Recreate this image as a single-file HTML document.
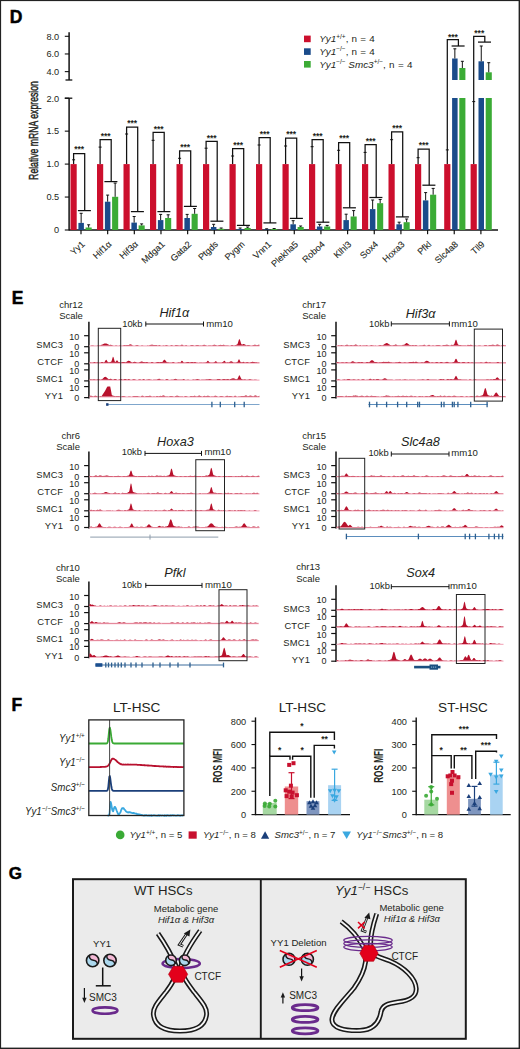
<!DOCTYPE html>
<html><head><meta charset="utf-8"><title>Figure</title>
<style>
html,body{margin:0;padding:0;background:#fff;}
body{width:520px;height:1049px;overflow:hidden;}
svg{display:block;font-family:"Liberation Sans", sans-serif;}
</style></head>
<body>
<svg width="520" height="1049" viewBox="0 0 520 1049">
<rect x="0" y="0" width="520" height="1049" fill="#fff"/>
<text x="9.80" y="22.50" font-size="17.5" text-anchor="start" font-weight="bold" font-style="normal" fill="#000" stroke="#000" stroke-width="0.5">D</text>
<line x1="69.10" y1="98.20" x2="69.10" y2="230.50" stroke="#111" stroke-width="1.5" />
<line x1="64.80" y1="98.20" x2="69.10" y2="98.20" stroke="#111" stroke-width="1.1" />
<text x="59.20" y="101.50" font-size="9.2" text-anchor="end" font-weight="normal" font-style="normal" fill="#231f20" >2.0</text>
<line x1="64.80" y1="131.15" x2="69.10" y2="131.15" stroke="#111" stroke-width="1.1" />
<text x="59.20" y="134.45" font-size="9.2" text-anchor="end" font-weight="normal" font-style="normal" fill="#231f20" >1.5</text>
<line x1="64.80" y1="164.10" x2="69.10" y2="164.10" stroke="#111" stroke-width="1.1" />
<text x="59.20" y="167.40" font-size="9.2" text-anchor="end" font-weight="normal" font-style="normal" fill="#231f20" >1.0</text>
<line x1="64.80" y1="197.05" x2="69.10" y2="197.05" stroke="#111" stroke-width="1.1" />
<text x="59.20" y="200.35" font-size="9.2" text-anchor="end" font-weight="normal" font-style="normal" fill="#231f20" >0.5</text>
<line x1="64.80" y1="230.00" x2="69.10" y2="230.00" stroke="#111" stroke-width="1.1" />
<text x="59.20" y="233.30" font-size="9.2" text-anchor="end" font-weight="normal" font-style="normal" fill="#231f20" >0</text>
<line x1="64.80" y1="98.20" x2="72.30" y2="98.20" stroke="#111" stroke-width="1.3" />
<line x1="69.10" y1="32.30" x2="69.10" y2="80.00" stroke="#111" stroke-width="1.5" />
<line x1="64.80" y1="36.30" x2="69.10" y2="36.30" stroke="#111" stroke-width="1.1" />
<text x="59.20" y="39.60" font-size="9.2" text-anchor="end" font-weight="normal" font-style="normal" fill="#231f20" >8.0</text>
<line x1="64.80" y1="53.96" x2="69.10" y2="53.96" stroke="#111" stroke-width="1.1" />
<text x="59.20" y="57.26" font-size="9.2" text-anchor="end" font-weight="normal" font-style="normal" fill="#231f20" >6.0</text>
<line x1="64.80" y1="71.62" x2="69.10" y2="71.62" stroke="#111" stroke-width="1.1" />
<text x="59.20" y="74.92" font-size="9.2" text-anchor="end" font-weight="normal" font-style="normal" fill="#231f20" >4.0</text>
<line x1="65.50" y1="80.00" x2="72.30" y2="80.00" stroke="#111" stroke-width="1.3" />
<text transform="translate(37.6,130.5) rotate(-90) scale(0.70,1)" font-size="12.4" text-anchor="middle" fill="#231f20" stroke="#231f20" stroke-width="0.45">Relative mRNA expresion</text>
<line x1="69.10" y1="230.00" x2="498.00" y2="230.00" stroke="#111" stroke-width="1.4" />
<line x1="81.00" y1="230.00" x2="81.00" y2="234.20" stroke="#111" stroke-width="1.2" />
<rect x="70.50" y="164.10" width="6.20" height="65.90" fill="#cc0f2d" />
<rect x="78.40" y="222.90" width="5.50" height="7.10" fill="#1a4b8a" />
<rect x="85.60" y="227.50" width="6.10" height="2.50" fill="#3bab35" />
<line x1="81.15" y1="213.30" x2="81.15" y2="222.90" stroke="#111" stroke-width="1.0" />
<line x1="79.65" y1="213.30" x2="82.65" y2="213.30" stroke="#111" stroke-width="1.0" />
<line x1="88.65" y1="224.80" x2="88.65" y2="227.50" stroke="#111" stroke-width="1.0" />
<line x1="87.15" y1="224.80" x2="90.15" y2="224.80" stroke="#111" stroke-width="1.0" />
<line x1="72.10" y1="159.80" x2="75.10" y2="159.80" stroke="#111" stroke-width="1.0" />
<polyline points="73.60,164.10 73.60,153.50 84.70,153.50 84.70,210.60" stroke="#111" stroke-width="1.25" fill="none" />
<line x1="77.90" y1="210.60" x2="90.90" y2="210.60" stroke="#111" stroke-width="1.25" />
<text x="79.15" y="152.40" font-size="8.5" text-anchor="middle" font-weight="bold" font-style="normal" fill="#231f20" >***</text>
<text transform="translate(85.40,245.00) rotate(-43)" font-size="9.1" text-anchor="end" fill="#231f20" stroke="#231f20" stroke-width="0.1">Yy1</text>
<line x1="107.66" y1="230.00" x2="107.66" y2="234.20" stroke="#111" stroke-width="1.2" />
<rect x="97.00" y="164.10" width="6.20" height="65.90" fill="#cc0f2d" />
<rect x="104.90" y="201.70" width="5.50" height="28.30" fill="#1a4b8a" />
<rect x="112.10" y="196.80" width="6.10" height="33.20" fill="#3bab35" />
<line x1="107.65" y1="195.10" x2="107.65" y2="201.70" stroke="#111" stroke-width="1.0" />
<line x1="106.15" y1="195.10" x2="109.15" y2="195.10" stroke="#111" stroke-width="1.0" />
<line x1="115.15" y1="183.10" x2="115.15" y2="196.80" stroke="#111" stroke-width="1.0" />
<line x1="113.65" y1="183.10" x2="116.65" y2="183.10" stroke="#111" stroke-width="1.0" />
<line x1="98.60" y1="147.10" x2="101.60" y2="147.10" stroke="#111" stroke-width="1.0" />
<polyline points="100.10,164.10 100.10,139.70 111.20,139.70 111.20,181.60" stroke="#111" stroke-width="1.25" fill="none" />
<line x1="104.40" y1="181.60" x2="117.40" y2="181.60" stroke="#111" stroke-width="1.25" />
<text x="105.65" y="139.00" font-size="8.5" text-anchor="middle" font-weight="bold" font-style="normal" fill="#231f20" >***</text>
<text transform="translate(112.06,245.00) rotate(-43)" font-size="9.1" text-anchor="end" fill="#231f20" stroke="#231f20" stroke-width="0.1">Hif1&#945;</text>
<line x1="134.32" y1="230.00" x2="134.32" y2="234.20" stroke="#111" stroke-width="1.2" />
<rect x="123.50" y="164.10" width="6.20" height="65.90" fill="#cc0f2d" />
<rect x="131.40" y="222.60" width="5.50" height="7.40" fill="#1a4b8a" />
<rect x="138.60" y="225.40" width="6.10" height="4.60" fill="#3bab35" />
<line x1="134.15" y1="216.50" x2="134.15" y2="222.60" stroke="#111" stroke-width="1.0" />
<line x1="132.65" y1="216.50" x2="135.65" y2="216.50" stroke="#111" stroke-width="1.0" />
<line x1="141.65" y1="223.90" x2="141.65" y2="225.40" stroke="#111" stroke-width="1.0" />
<line x1="140.15" y1="223.90" x2="143.15" y2="223.90" stroke="#111" stroke-width="1.0" />
<line x1="125.10" y1="134.00" x2="128.10" y2="134.00" stroke="#111" stroke-width="1.0" />
<polyline points="126.60,164.10 126.60,127.00 137.70,127.00 137.70,211.60" stroke="#111" stroke-width="1.25" fill="none" />
<line x1="130.90" y1="211.60" x2="143.90" y2="211.60" stroke="#111" stroke-width="1.25" />
<text x="132.15" y="126.40" font-size="8.5" text-anchor="middle" font-weight="bold" font-style="normal" fill="#231f20" >***</text>
<text transform="translate(138.72,245.00) rotate(-43)" font-size="9.1" text-anchor="end" fill="#231f20" stroke="#231f20" stroke-width="0.1">Hif3&#945;</text>
<line x1="160.98" y1="230.00" x2="160.98" y2="234.20" stroke="#111" stroke-width="1.2" />
<rect x="150.00" y="164.10" width="6.20" height="65.90" fill="#cc0f2d" />
<rect x="157.90" y="220.10" width="5.50" height="9.90" fill="#1a4b8a" />
<rect x="165.10" y="218.00" width="6.10" height="12.00" fill="#3bab35" />
<line x1="160.65" y1="214.40" x2="160.65" y2="220.10" stroke="#111" stroke-width="1.0" />
<line x1="159.15" y1="214.40" x2="162.15" y2="214.40" stroke="#111" stroke-width="1.0" />
<line x1="168.15" y1="214.80" x2="168.15" y2="218.00" stroke="#111" stroke-width="1.0" />
<line x1="166.65" y1="214.80" x2="169.65" y2="214.80" stroke="#111" stroke-width="1.0" />
<line x1="151.60" y1="140.30" x2="154.60" y2="140.30" stroke="#111" stroke-width="1.0" />
<polyline points="153.10,164.10 153.10,132.30 164.20,132.30 164.20,211.60" stroke="#111" stroke-width="1.25" fill="none" />
<line x1="157.40" y1="211.60" x2="170.40" y2="211.60" stroke="#111" stroke-width="1.25" />
<text x="158.65" y="131.90" font-size="8.5" text-anchor="middle" font-weight="bold" font-style="normal" fill="#231f20" >***</text>
<text transform="translate(165.38,245.00) rotate(-43)" font-size="9.1" text-anchor="end" fill="#231f20" stroke="#231f20" stroke-width="0.1">Mdga1</text>
<line x1="187.64" y1="230.00" x2="187.64" y2="234.20" stroke="#111" stroke-width="1.2" />
<rect x="176.50" y="164.10" width="6.20" height="65.90" fill="#cc0f2d" />
<rect x="184.40" y="218.00" width="5.50" height="12.00" fill="#1a4b8a" />
<rect x="191.60" y="213.80" width="6.10" height="16.20" fill="#3bab35" />
<line x1="187.15" y1="214.40" x2="187.15" y2="218.00" stroke="#111" stroke-width="1.0" />
<line x1="185.65" y1="214.40" x2="188.65" y2="214.40" stroke="#111" stroke-width="1.0" />
<line x1="194.65" y1="208.50" x2="194.65" y2="213.80" stroke="#111" stroke-width="1.0" />
<line x1="193.15" y1="208.50" x2="196.15" y2="208.50" stroke="#111" stroke-width="1.0" />
<line x1="178.10" y1="158.30" x2="181.10" y2="158.30" stroke="#111" stroke-width="1.0" />
<polyline points="179.60,164.10 179.60,150.90 190.70,150.90 190.70,206.40" stroke="#111" stroke-width="1.25" fill="none" />
<line x1="183.90" y1="206.40" x2="196.90" y2="206.40" stroke="#111" stroke-width="1.25" />
<text x="185.15" y="150.20" font-size="8.5" text-anchor="middle" font-weight="bold" font-style="normal" fill="#231f20" >***</text>
<text transform="translate(192.04,245.00) rotate(-43)" font-size="9.1" text-anchor="end" fill="#231f20" stroke="#231f20" stroke-width="0.1">Gata2</text>
<line x1="214.30" y1="230.00" x2="214.30" y2="234.20" stroke="#111" stroke-width="1.2" />
<rect x="203.00" y="164.10" width="6.20" height="65.90" fill="#cc0f2d" />
<rect x="210.90" y="227.00" width="5.50" height="3.00" fill="#1a4b8a" />
<rect x="218.10" y="228.80" width="6.10" height="1.20" fill="#3bab35" />
<line x1="213.65" y1="224.30" x2="213.65" y2="227.00" stroke="#111" stroke-width="1.0" />
<line x1="212.15" y1="224.30" x2="215.15" y2="224.30" stroke="#111" stroke-width="1.0" />
<line x1="221.15" y1="228.00" x2="221.15" y2="228.80" stroke="#111" stroke-width="1.0" />
<line x1="219.65" y1="228.00" x2="222.65" y2="228.00" stroke="#111" stroke-width="1.0" />
<line x1="204.60" y1="148.20" x2="207.60" y2="148.20" stroke="#111" stroke-width="1.0" />
<polyline points="206.10,164.10 206.10,141.40 217.20,141.40 217.20,221.20" stroke="#111" stroke-width="1.25" fill="none" />
<line x1="210.40" y1="221.20" x2="223.40" y2="221.20" stroke="#111" stroke-width="1.25" />
<text x="211.65" y="140.70" font-size="8.5" text-anchor="middle" font-weight="bold" font-style="normal" fill="#231f20" >***</text>
<text transform="translate(218.70,245.00) rotate(-43)" font-size="9.1" text-anchor="end" fill="#231f20" stroke="#231f20" stroke-width="0.1">Ptgds</text>
<line x1="240.96" y1="230.00" x2="240.96" y2="234.20" stroke="#111" stroke-width="1.2" />
<rect x="229.50" y="164.10" width="6.20" height="65.90" fill="#cc0f2d" />
<rect x="237.40" y="229.00" width="5.50" height="1.00" fill="#1a4b8a" />
<rect x="244.60" y="228.00" width="6.10" height="2.00" fill="#3bab35" />
<line x1="240.15" y1="228.00" x2="240.15" y2="229.00" stroke="#111" stroke-width="1.0" />
<line x1="238.65" y1="228.00" x2="241.65" y2="228.00" stroke="#111" stroke-width="1.0" />
<line x1="247.65" y1="227.00" x2="247.65" y2="228.00" stroke="#111" stroke-width="1.0" />
<line x1="246.15" y1="227.00" x2="249.15" y2="227.00" stroke="#111" stroke-width="1.0" />
<line x1="231.10" y1="156.00" x2="234.10" y2="156.00" stroke="#111" stroke-width="1.0" />
<polyline points="232.60,164.10 232.60,148.60 243.70,148.60 243.70,225.40" stroke="#111" stroke-width="1.25" fill="none" />
<line x1="236.90" y1="225.40" x2="249.90" y2="225.40" stroke="#111" stroke-width="1.25" />
<text x="238.15" y="147.70" font-size="8.5" text-anchor="middle" font-weight="bold" font-style="normal" fill="#231f20" >***</text>
<text transform="translate(245.36,245.00) rotate(-43)" font-size="9.1" text-anchor="end" fill="#231f20" stroke="#231f20" stroke-width="0.1">Pygm</text>
<line x1="267.62" y1="230.00" x2="267.62" y2="234.20" stroke="#111" stroke-width="1.2" />
<rect x="256.00" y="164.10" width="6.20" height="65.90" fill="#cc0f2d" />
<rect x="263.90" y="229.30" width="5.50" height="0.70" fill="#1a4b8a" />
<rect x="271.10" y="229.00" width="6.10" height="1.00" fill="#3bab35" />
<line x1="266.65" y1="228.80" x2="266.65" y2="229.30" stroke="#111" stroke-width="1.0" />
<line x1="265.15" y1="228.80" x2="268.15" y2="228.80" stroke="#111" stroke-width="1.0" />
<line x1="274.15" y1="228.50" x2="274.15" y2="229.00" stroke="#111" stroke-width="1.0" />
<line x1="272.65" y1="228.50" x2="275.65" y2="228.50" stroke="#111" stroke-width="1.0" />
<line x1="257.60" y1="145.00" x2="260.60" y2="145.00" stroke="#111" stroke-width="1.0" />
<polyline points="259.10,164.10 259.10,137.60 270.20,137.60 270.20,222.90" stroke="#111" stroke-width="1.25" fill="none" />
<line x1="263.40" y1="222.90" x2="276.40" y2="222.90" stroke="#111" stroke-width="1.25" />
<text x="264.65" y="136.50" font-size="8.5" text-anchor="middle" font-weight="bold" font-style="normal" fill="#231f20" >***</text>
<text transform="translate(272.02,245.00) rotate(-43)" font-size="9.1" text-anchor="end" fill="#231f20" stroke="#231f20" stroke-width="0.1">Vnn1</text>
<line x1="294.28" y1="230.00" x2="294.28" y2="234.20" stroke="#111" stroke-width="1.2" />
<rect x="282.50" y="164.10" width="6.20" height="65.90" fill="#cc0f2d" />
<rect x="290.40" y="224.30" width="5.50" height="5.70" fill="#1a4b8a" />
<rect x="297.60" y="227.00" width="6.10" height="3.00" fill="#3bab35" />
<line x1="293.15" y1="220.70" x2="293.15" y2="224.30" stroke="#111" stroke-width="1.0" />
<line x1="291.65" y1="220.70" x2="294.65" y2="220.70" stroke="#111" stroke-width="1.0" />
<line x1="300.65" y1="226.00" x2="300.65" y2="227.00" stroke="#111" stroke-width="1.0" />
<line x1="299.15" y1="226.00" x2="302.15" y2="226.00" stroke="#111" stroke-width="1.0" />
<line x1="284.10" y1="146.00" x2="287.10" y2="146.00" stroke="#111" stroke-width="1.0" />
<polyline points="285.60,164.10 285.60,138.20 296.70,138.20 296.70,218.40" stroke="#111" stroke-width="1.25" fill="none" />
<line x1="289.90" y1="218.40" x2="302.90" y2="218.40" stroke="#111" stroke-width="1.25" />
<text x="291.15" y="137.20" font-size="8.5" text-anchor="middle" font-weight="bold" font-style="normal" fill="#231f20" >***</text>
<text transform="translate(298.68,245.00) rotate(-43)" font-size="9.1" text-anchor="end" fill="#231f20" stroke="#231f20" stroke-width="0.1">Plekha5</text>
<line x1="320.94" y1="230.00" x2="320.94" y2="234.20" stroke="#111" stroke-width="1.2" />
<rect x="309.00" y="164.10" width="6.20" height="65.90" fill="#cc0f2d" />
<rect x="316.90" y="226.50" width="5.50" height="3.50" fill="#1a4b8a" />
<rect x="324.10" y="226.50" width="6.10" height="3.50" fill="#3bab35" />
<line x1="319.65" y1="224.30" x2="319.65" y2="226.50" stroke="#111" stroke-width="1.0" />
<line x1="318.15" y1="224.30" x2="321.15" y2="224.30" stroke="#111" stroke-width="1.0" />
<line x1="327.15" y1="225.40" x2="327.15" y2="226.50" stroke="#111" stroke-width="1.0" />
<line x1="325.65" y1="225.40" x2="328.65" y2="225.40" stroke="#111" stroke-width="1.0" />
<line x1="310.60" y1="146.70" x2="313.60" y2="146.70" stroke="#111" stroke-width="1.0" />
<polyline points="312.10,164.10 312.10,139.70 323.20,139.70 323.20,222.20" stroke="#111" stroke-width="1.25" fill="none" />
<line x1="316.40" y1="222.20" x2="329.40" y2="222.20" stroke="#111" stroke-width="1.25" />
<text x="317.65" y="139.00" font-size="8.5" text-anchor="middle" font-weight="bold" font-style="normal" fill="#231f20" >***</text>
<text transform="translate(325.34,245.00) rotate(-43)" font-size="9.1" text-anchor="end" fill="#231f20" stroke="#231f20" stroke-width="0.1">Robo4</text>
<line x1="347.60" y1="230.00" x2="347.60" y2="234.20" stroke="#111" stroke-width="1.2" />
<rect x="335.50" y="164.10" width="6.20" height="65.90" fill="#cc0f2d" />
<rect x="343.40" y="220.10" width="5.50" height="9.90" fill="#1a4b8a" />
<rect x="350.60" y="216.50" width="6.10" height="13.50" fill="#3bab35" />
<line x1="346.15" y1="214.20" x2="346.15" y2="220.10" stroke="#111" stroke-width="1.0" />
<line x1="344.65" y1="214.20" x2="347.65" y2="214.20" stroke="#111" stroke-width="1.0" />
<line x1="353.65" y1="210.60" x2="353.65" y2="216.50" stroke="#111" stroke-width="1.0" />
<line x1="352.15" y1="210.60" x2="355.15" y2="210.60" stroke="#111" stroke-width="1.0" />
<line x1="337.10" y1="150.30" x2="340.10" y2="150.30" stroke="#111" stroke-width="1.0" />
<polyline points="338.60,164.10 338.60,142.50 349.70,142.50 349.70,207.80" stroke="#111" stroke-width="1.25" fill="none" />
<line x1="342.90" y1="207.80" x2="355.90" y2="207.80" stroke="#111" stroke-width="1.25" />
<text x="344.15" y="141.40" font-size="8.5" text-anchor="middle" font-weight="bold" font-style="normal" fill="#231f20" >***</text>
<text transform="translate(352.00,245.00) rotate(-43)" font-size="9.1" text-anchor="end" fill="#231f20" stroke="#231f20" stroke-width="0.1">Klhl3</text>
<line x1="374.26" y1="230.00" x2="374.26" y2="234.20" stroke="#111" stroke-width="1.2" />
<rect x="362.00" y="164.10" width="6.20" height="65.90" fill="#cc0f2d" />
<rect x="369.90" y="209.10" width="5.50" height="20.90" fill="#1a4b8a" />
<rect x="377.10" y="203.20" width="6.10" height="26.80" fill="#3bab35" />
<line x1="372.65" y1="200.00" x2="372.65" y2="209.10" stroke="#111" stroke-width="1.0" />
<line x1="371.15" y1="200.00" x2="374.15" y2="200.00" stroke="#111" stroke-width="1.0" />
<line x1="380.15" y1="199.50" x2="380.15" y2="203.20" stroke="#111" stroke-width="1.0" />
<line x1="378.65" y1="199.50" x2="381.65" y2="199.50" stroke="#111" stroke-width="1.0" />
<line x1="363.60" y1="152.40" x2="366.60" y2="152.40" stroke="#111" stroke-width="1.0" />
<polyline points="365.10,164.10 365.10,144.60 376.20,144.60 376.20,197.50" stroke="#111" stroke-width="1.25" fill="none" />
<line x1="369.40" y1="197.50" x2="382.40" y2="197.50" stroke="#111" stroke-width="1.25" />
<text x="370.65" y="143.90" font-size="8.5" text-anchor="middle" font-weight="bold" font-style="normal" fill="#231f20" >***</text>
<text transform="translate(378.66,245.00) rotate(-43)" font-size="9.1" text-anchor="end" fill="#231f20" stroke="#231f20" stroke-width="0.1">Sox4</text>
<line x1="400.92" y1="230.00" x2="400.92" y2="234.20" stroke="#111" stroke-width="1.2" />
<rect x="388.50" y="164.10" width="6.20" height="65.90" fill="#cc0f2d" />
<rect x="396.40" y="224.30" width="5.50" height="5.70" fill="#1a4b8a" />
<rect x="403.60" y="222.20" width="6.10" height="7.80" fill="#3bab35" />
<line x1="399.15" y1="222.20" x2="399.15" y2="224.30" stroke="#111" stroke-width="1.0" />
<line x1="397.65" y1="222.20" x2="400.65" y2="222.20" stroke="#111" stroke-width="1.0" />
<line x1="406.65" y1="219.00" x2="406.65" y2="222.20" stroke="#111" stroke-width="1.0" />
<line x1="405.15" y1="219.00" x2="408.15" y2="219.00" stroke="#111" stroke-width="1.0" />
<line x1="390.10" y1="139.70" x2="393.10" y2="139.70" stroke="#111" stroke-width="1.0" />
<polyline points="391.60,164.10 391.60,131.90 402.70,131.90 402.70,216.90" stroke="#111" stroke-width="1.25" fill="none" />
<line x1="395.90" y1="216.90" x2="408.90" y2="216.90" stroke="#111" stroke-width="1.25" />
<text x="397.15" y="131.20" font-size="8.5" text-anchor="middle" font-weight="bold" font-style="normal" fill="#231f20" >***</text>
<text transform="translate(405.32,245.00) rotate(-43)" font-size="9.1" text-anchor="end" fill="#231f20" stroke="#231f20" stroke-width="0.1">Hoxa3</text>
<line x1="427.58" y1="230.00" x2="427.58" y2="234.20" stroke="#111" stroke-width="1.2" />
<rect x="415.00" y="164.10" width="6.20" height="65.90" fill="#cc0f2d" />
<rect x="422.90" y="200.40" width="5.50" height="29.60" fill="#1a4b8a" />
<rect x="430.10" y="194.70" width="6.10" height="35.30" fill="#3bab35" />
<line x1="425.65" y1="192.60" x2="425.65" y2="200.40" stroke="#111" stroke-width="1.0" />
<line x1="424.15" y1="192.60" x2="427.15" y2="192.60" stroke="#111" stroke-width="1.0" />
<line x1="433.15" y1="188.40" x2="433.15" y2="194.70" stroke="#111" stroke-width="1.0" />
<line x1="431.65" y1="188.40" x2="434.65" y2="188.40" stroke="#111" stroke-width="1.0" />
<line x1="416.60" y1="157.70" x2="419.60" y2="157.70" stroke="#111" stroke-width="1.0" />
<polyline points="418.10,164.10 418.10,149.20 429.20,149.20 429.20,185.20" stroke="#111" stroke-width="1.25" fill="none" />
<line x1="422.40" y1="185.20" x2="435.40" y2="185.20" stroke="#111" stroke-width="1.25" />
<text x="423.65" y="148.20" font-size="8.5" text-anchor="middle" font-weight="bold" font-style="normal" fill="#231f20" >***</text>
<text transform="translate(431.98,245.00) rotate(-43)" font-size="9.1" text-anchor="end" fill="#231f20" stroke="#231f20" stroke-width="0.1">Pfkl</text>
<line x1="454.24" y1="230.00" x2="454.24" y2="234.20" stroke="#111" stroke-width="1.2" />
<rect x="444.20" y="164.10" width="6.20" height="65.90" fill="#cc0f2d" />
<rect x="452.10" y="98.00" width="5.50" height="132.00" fill="#1a4b8a" />
<rect x="459.30" y="98.00" width="6.10" height="132.00" fill="#3bab35" />
<rect x="452.10" y="58.50" width="5.50" height="21.50" fill="#1a4b8a" />
<rect x="459.30" y="68.00" width="6.10" height="12.00" fill="#3bab35" />
<line x1="454.85" y1="48.80" x2="454.85" y2="58.50" stroke="#111" stroke-width="1.0" />
<line x1="453.35" y1="48.80" x2="456.35" y2="48.80" stroke="#111" stroke-width="1.0" />
<line x1="462.35" y1="61.30" x2="462.35" y2="68.00" stroke="#111" stroke-width="1.0" />
<line x1="460.85" y1="61.30" x2="463.85" y2="61.30" stroke="#111" stroke-width="1.0" />
<line x1="445.80" y1="149.90" x2="448.80" y2="149.90" stroke="#111" stroke-width="1.0" />
<polyline points="447.30,164.10 447.30,39.60 458.40,39.60 458.40,46.00" stroke="#111" stroke-width="1.25" fill="none" />
<line x1="451.60" y1="46.00" x2="464.60" y2="46.00" stroke="#111" stroke-width="1.25" />
<text x="452.85" y="39.60" font-size="8.5" text-anchor="middle" font-weight="bold" font-style="normal" fill="#231f20" >***</text>
<text transform="translate(458.64,245.00) rotate(-43)" font-size="9.1" text-anchor="end" fill="#231f20" stroke="#231f20" stroke-width="0.1">Slc4a8</text>
<line x1="480.90" y1="230.00" x2="480.90" y2="234.20" stroke="#111" stroke-width="1.2" />
<rect x="470.60" y="164.10" width="6.20" height="65.90" fill="#cc0f2d" />
<rect x="478.50" y="98.00" width="5.50" height="132.00" fill="#1a4b8a" />
<rect x="485.70" y="98.00" width="6.10" height="132.00" fill="#3bab35" />
<rect x="478.50" y="61.30" width="5.50" height="18.70" fill="#1a4b8a" />
<rect x="485.70" y="72.30" width="6.10" height="7.70" fill="#3bab35" />
<line x1="481.25" y1="46.00" x2="481.25" y2="61.30" stroke="#111" stroke-width="1.0" />
<line x1="479.75" y1="46.00" x2="482.75" y2="46.00" stroke="#111" stroke-width="1.0" />
<line x1="488.75" y1="62.70" x2="488.75" y2="72.30" stroke="#111" stroke-width="1.0" />
<line x1="487.25" y1="62.70" x2="490.25" y2="62.70" stroke="#111" stroke-width="1.0" />
<line x1="472.20" y1="101.60" x2="475.20" y2="101.60" stroke="#111" stroke-width="1.0" />
<polyline points="473.70,164.10 473.70,36.30 484.80,36.30 484.80,42.10" stroke="#111" stroke-width="1.25" fill="none" />
<line x1="478.00" y1="42.10" x2="491.00" y2="42.10" stroke="#111" stroke-width="1.25" />
<text x="479.25" y="35.70" font-size="8.5" text-anchor="middle" font-weight="bold" font-style="normal" fill="#231f20" >***</text>
<text transform="translate(485.30,245.00) rotate(-43)" font-size="9.1" text-anchor="end" fill="#231f20" stroke="#231f20" stroke-width="0.1">Tll9</text>
<rect x="304.00" y="35.60" width="6.70" height="6.60" fill="#cc0f2d" />
<text x="319.20" y="42.20" font-size="9.9" text-anchor="start" font-weight="normal" font-style="normal" fill="#231f20" ><tspan font-style="italic">Yy1</tspan><tspan font-size="6.5" dy="-3.5">+/+</tspan><tspan dy="3.5" letter-spacing="0.25">, n = 4</tspan></text>
<rect x="304.00" y="48.30" width="6.70" height="6.60" fill="#1a4b8a" />
<text x="319.20" y="54.90" font-size="9.9" text-anchor="start" font-weight="normal" font-style="normal" fill="#231f20" ><tspan font-style="italic">Yy1</tspan><tspan font-size="6.5" dy="-3.5">&#8722;/&#8722;</tspan><tspan dy="3.5" letter-spacing="0.25">, n = 4</tspan></text>
<rect x="304.00" y="61.00" width="6.70" height="6.60" fill="#3bab35" />
<text x="319.20" y="67.60" font-size="9.9" text-anchor="start" font-weight="normal" font-style="normal" fill="#231f20" ><tspan font-style="italic">Yy1</tspan><tspan font-size="6.5" dy="-3.5">&#8722;/&#8722;</tspan><tspan dy="3.5" font-style="italic"> Smc3</tspan><tspan font-size="6.5" dy="-3.5">+/&#8722;</tspan><tspan dy="3.5" letter-spacing="0.3">, n = 4</tspan></text>
<text x="11.70" y="303.70" font-size="17.5" text-anchor="start" font-weight="bold" font-style="normal" fill="#000" stroke="#000" stroke-width="0.5">E</text>
<text x="82.90" y="307.50" font-size="9.5" text-anchor="end" font-weight="normal" font-style="normal" fill="#231f20" >chr12</text>
<text x="82.90" y="318.80" font-size="9.5" text-anchor="end" font-weight="normal" font-style="normal" fill="#231f20" >Scale</text>
<line x1="88.90" y1="321.70" x2="88.90" y2="398.50" stroke="#111" stroke-width="1.5" />
<line x1="84.10" y1="346.70" x2="88.90" y2="346.70" stroke="#111" stroke-width="1.2" />
<line x1="84.10" y1="335.70" x2="88.90" y2="335.70" stroke="#111" stroke-width="1.2" />
<text x="79.30" y="349.90" font-size="9.0" text-anchor="end" font-weight="normal" font-style="normal" fill="#231f20" >0</text>
<text x="79.30" y="339.70" font-size="9.0" text-anchor="end" font-weight="normal" font-style="normal" fill="#231f20" >10</text>
<text x="63.10" y="348.20" font-size="9.4" text-anchor="end" font-weight="normal" font-style="normal" fill="#231f20" letter-spacing="0.2">SMC3</text>
<line x1="84.10" y1="363.80" x2="88.90" y2="363.80" stroke="#111" stroke-width="1.2" />
<line x1="84.10" y1="352.80" x2="88.90" y2="352.80" stroke="#111" stroke-width="1.2" />
<text x="79.30" y="367.00" font-size="9.0" text-anchor="end" font-weight="normal" font-style="normal" fill="#231f20" >0</text>
<text x="79.30" y="356.80" font-size="9.0" text-anchor="end" font-weight="normal" font-style="normal" fill="#231f20" >10</text>
<text x="63.10" y="365.30" font-size="9.4" text-anchor="end" font-weight="normal" font-style="normal" fill="#231f20" letter-spacing="0.2">CTCF</text>
<line x1="84.10" y1="380.90" x2="88.90" y2="380.90" stroke="#111" stroke-width="1.2" />
<line x1="84.10" y1="369.90" x2="88.90" y2="369.90" stroke="#111" stroke-width="1.2" />
<text x="79.30" y="384.10" font-size="9.0" text-anchor="end" font-weight="normal" font-style="normal" fill="#231f20" >0</text>
<text x="79.30" y="373.90" font-size="9.0" text-anchor="end" font-weight="normal" font-style="normal" fill="#231f20" >10</text>
<text x="63.10" y="382.40" font-size="9.4" text-anchor="end" font-weight="normal" font-style="normal" fill="#231f20" letter-spacing="0.2">SMC1</text>
<line x1="84.10" y1="397.60" x2="88.90" y2="397.60" stroke="#111" stroke-width="1.2" />
<line x1="84.10" y1="386.60" x2="88.90" y2="386.60" stroke="#111" stroke-width="1.2" />
<text x="79.30" y="400.80" font-size="9.0" text-anchor="end" font-weight="normal" font-style="normal" fill="#231f20" >0</text>
<text x="79.30" y="390.60" font-size="9.0" text-anchor="end" font-weight="normal" font-style="normal" fill="#231f20" >10</text>
<text x="63.10" y="399.10" font-size="9.4" text-anchor="end" font-weight="normal" font-style="normal" fill="#231f20" letter-spacing="0.2">YY1</text>
<text x="159.40" y="316.80" font-size="12.7" text-anchor="start" font-weight="normal" font-style="italic" fill="#231f20" >Hif1&#945;</text>
<text x="122.20" y="327.40" font-size="9.4" text-anchor="start" font-weight="normal" font-style="normal" fill="#231f20" >10kb</text>
<line x1="145.80" y1="324.00" x2="203.50" y2="324.00" stroke="#111" stroke-width="1.0" />
<line x1="145.80" y1="321.50" x2="145.80" y2="326.50" stroke="#111" stroke-width="1.0" />
<line x1="203.50" y1="321.50" x2="203.50" y2="326.50" stroke="#111" stroke-width="1.0" />
<text x="206.20" y="327.40" font-size="9.6" text-anchor="start" font-weight="normal" font-style="normal" fill="#231f20" >mm10</text>
<line x1="89.40" y1="345.90" x2="259.50" y2="345.90" stroke="#f4b2c2" stroke-width="1.3" />
<path d="M89.4,345.6 L89.4,345.5 89.9,345.5 90.4,345.4 90.9,345.4 91.4,345.3 91.9,345.3 92.4,345.3 92.9,345.3 93.4,345.3 93.9,345.4 94.4,345.4 94.9,345.5 95.4,345.4 95.9,345.4 96.4,345.4 96.9,345.4 97.4,345.3 97.9,345.3 98.4,345.3 98.9,345.3 99.4,345.3 99.9,345.3 100.4,345.2 100.9,345.0 101.4,344.8 101.9,344.7 102.4,344.4 102.9,344.2 103.4,343.9 103.9,343.7 104.4,343.5 104.9,343.4 105.4,343.4 105.9,343.5 106.4,343.6 106.9,343.8 107.4,344.0 107.9,344.3 108.4,344.6 108.9,344.8 109.4,345.0 109.9,344.9 110.4,344.8 110.9,344.8 111.4,344.9 111.9,345.0 112.4,345.2 112.9,345.3 113.4,345.4 113.9,345.4 114.4,345.4 114.9,345.4 115.4,345.3 115.9,345.3 116.4,345.2 116.9,345.3 117.4,345.4 117.9,345.5 118.4,345.5 118.9,345.4 119.4,345.3 119.9,345.2 120.4,345.2 120.9,345.3 121.4,345.5 121.9,345.5 122.4,345.4 122.9,345.3 123.4,345.2 123.9,345.1 124.4,345.0 124.9,345.0 125.4,345.0 125.9,345.2 126.4,345.1 126.9,345.0 127.4,345.0 127.9,345.0 128.4,345.1 128.9,345.0 129.4,344.6 129.9,344.4 130.4,344.3 130.9,344.4 131.4,344.6 131.9,345.0 132.4,345.2 132.9,345.3 133.4,345.4 133.9,345.4 134.4,345.5 134.9,345.5 135.4,345.3 135.9,345.2 136.4,345.1 136.9,345.0 137.4,345.1 137.9,345.1 138.4,345.3 138.9,345.4 139.4,345.5 139.9,345.5 140.4,345.4 140.9,345.4 141.4,345.3 141.9,345.3 142.4,345.3 142.9,345.3 143.4,345.4 143.9,345.5 144.4,345.5 144.9,345.5 145.4,345.5 145.9,345.5 146.4,345.4 146.9,345.4 147.4,345.3 147.9,345.3 148.4,345.4 148.9,345.3 149.4,345.2 149.9,345.0 150.4,344.9 150.9,344.8 151.4,344.7 151.9,344.7 152.4,344.7 152.9,344.8 153.4,344.9 153.9,345.0 154.4,345.1 154.9,345.0 155.4,344.9 155.9,344.9 156.4,344.9 156.9,345.1 157.4,345.2 157.9,345.4 158.4,345.3 158.9,345.1 159.4,345.1 159.9,345.1 160.4,345.2 160.9,345.4 161.4,345.4 161.9,345.4 162.4,345.4 162.9,345.3 163.4,345.3 163.9,345.3 164.4,345.4 164.9,345.3 165.4,345.2 165.9,345.0 166.4,345.0 166.9,345.1 167.4,345.2 167.9,345.3 168.4,345.5 168.9,345.5 169.4,345.5 169.9,345.5 170.4,345.3 170.9,345.2 171.4,345.1 171.9,345.1 172.4,345.2 172.9,345.3 173.4,345.4 173.9,345.5 174.4,345.4 174.9,345.3 175.4,345.1 175.9,345.0 176.4,344.9 176.9,344.9 177.4,345.0 177.9,345.2 178.4,345.3 178.9,345.3 179.4,345.3 179.9,345.4 180.4,345.3 180.9,345.1 181.4,344.8 181.9,344.7 182.4,344.8 182.9,345.0 183.4,345.3 183.9,345.4 184.4,345.4 184.9,345.3 185.4,345.2 185.9,345.1 186.4,345.1 186.9,345.2 187.4,345.4 187.9,345.5 188.4,345.6 188.9,345.5 189.4,345.5 189.9,345.4 190.4,345.2 190.9,345.1 191.4,345.0 191.9,344.9 192.4,345.0 192.9,345.1 193.4,345.2 193.9,345.3 194.4,345.5 194.9,345.4 195.4,345.3 195.9,345.2 196.4,345.1 196.9,345.0 197.4,344.9 197.9,345.0 198.4,345.0 198.9,345.2 199.4,345.3 199.9,345.4 200.4,345.3 200.9,345.3 201.4,345.3 201.9,345.4 202.4,345.2 202.9,345.0 203.4,344.9 203.9,344.8 204.4,344.8 204.9,344.9 205.4,345.0 205.9,345.2 206.4,345.3 206.9,345.5 207.4,345.4 207.9,345.4 208.4,345.3 208.9,345.2 209.4,345.2 209.9,345.2 210.4,345.2 210.9,345.3 211.4,345.3 211.9,345.4 212.4,345.3 212.9,345.1 213.4,344.9 213.9,344.8 214.4,344.8 214.9,344.8 215.4,344.9 215.9,345.0 216.4,345.2 216.9,345.3 217.4,345.4 217.9,345.3 218.4,345.2 218.9,345.0 219.4,344.9 219.9,344.9 220.4,344.8 220.9,344.9 221.4,344.9 221.9,345.0 222.4,345.1 222.9,344.9 223.4,344.8 223.9,344.8 224.4,345.0 224.9,345.2 225.4,345.3 225.9,345.3 226.4,345.2 226.9,345.2 227.4,345.2 227.9,345.2 228.4,345.3 228.9,345.4 229.4,345.5 229.9,345.5 230.4,345.4 230.9,345.2 231.4,345.0 231.9,344.9 232.4,344.9 232.9,345.0 233.4,345.2 233.9,345.4 234.4,345.3 234.9,345.2 235.4,345.1 235.9,344.9 236.4,344.8 236.9,344.6 237.4,344.3 237.9,343.0 238.4,341.3 238.9,339.7 239.4,339.1 239.9,339.7 240.4,341.3 240.9,343.0 241.4,344.3 241.9,344.6 242.4,344.4 242.9,344.2 243.4,344.1 243.9,344.1 244.4,344.3 244.9,344.5 245.4,344.8 245.9,345.0 246.4,345.3 246.9,345.3 247.4,345.1 247.9,345.0 248.4,345.0 248.9,345.0 249.4,345.1 249.9,345.2 250.4,345.3 250.9,345.4 251.4,345.4 251.9,345.3 252.4,345.3 252.9,345.2 253.4,345.0 253.9,344.9 254.4,344.8 254.9,344.8 255.4,344.8 255.9,344.9 256.4,345.1 256.9,345.2 257.4,345.1 257.9,345.0 258.4,344.8 258.9,344.8 259.4,344.8 L259.5,345.6 Z " fill="#b8112c"/>
<line x1="89.40" y1="363.00" x2="259.50" y2="363.00" stroke="#f4b2c2" stroke-width="1.3" />
<path d="M89.4,362.7 L89.4,362.5 89.9,362.4 90.4,362.3 90.9,362.4 91.4,362.5 91.9,362.6 92.4,362.6 92.9,362.5 93.4,362.3 93.9,362.2 94.4,362.1 94.9,362.1 95.4,362.2 95.9,362.4 96.4,362.4 96.9,362.3 97.4,362.3 97.9,362.3 98.4,362.3 98.9,362.4 99.4,362.5 99.9,362.6 100.4,362.5 100.9,362.3 101.4,362.1 101.9,361.9 102.4,361.9 102.9,362.1 103.4,362.4 103.9,362.3 104.4,362.2 104.9,361.6 105.4,360.6 105.9,359.9 106.4,359.8 106.9,360.4 107.4,361.4 107.9,362.1 108.4,362.3 108.9,362.2 109.4,362.2 109.9,362.1 110.4,362.0 110.9,361.8 111.4,361.6 111.9,360.1 112.4,358.2 112.9,356.8 113.4,357.0 113.9,358.5 114.4,360.4 114.9,361.7 115.4,361.9 115.9,361.6 116.4,360.8 116.9,360.2 117.4,360.5 117.9,361.3 118.4,361.9 118.9,361.9 119.4,362.0 119.9,362.2 120.4,362.4 120.9,362.4 121.4,362.3 121.9,362.2 122.4,362.1 122.9,362.0 123.4,362.0 123.9,362.0 124.4,362.1 124.9,362.2 125.4,362.3 125.9,362.2 126.4,361.9 126.9,361.6 127.4,361.2 127.9,360.9 128.4,360.7 128.9,360.7 129.4,360.9 129.9,361.1 130.4,361.5 130.9,361.8 131.4,362.1 131.9,362.4 132.4,362.4 132.9,362.2 133.4,362.1 133.9,361.9 134.4,361.8 134.9,361.8 135.4,361.9 135.9,362.1 136.4,362.2 136.9,362.4 137.4,362.5 137.9,362.6 138.4,362.5 138.9,362.4 139.4,362.2 139.9,362.0 140.4,361.9 140.9,361.6 141.4,361.4 141.9,361.4 142.4,361.6 142.9,361.9 143.4,361.9 143.9,361.9 144.4,362.0 144.9,362.2 145.4,362.3 145.9,362.1 146.4,362.0 146.9,362.0 147.4,362.1 147.9,362.3 148.4,362.4 148.9,362.4 149.4,362.4 149.9,362.4 150.4,362.5 150.9,362.4 151.4,362.1 151.9,362.0 152.4,362.0 152.9,362.2 153.4,362.5 153.9,362.6 154.4,362.7 154.9,362.6 155.4,362.6 155.9,362.5 156.4,362.3 156.9,362.1 157.4,362.0 157.9,361.9 158.4,361.9 158.9,362.0 159.4,362.2 159.9,362.0 160.4,361.9 160.9,361.9 161.4,362.0 161.9,362.1 162.4,361.9 162.9,361.3 163.4,360.6 163.9,360.0 164.4,359.7 164.9,359.8 165.4,360.4 165.9,361.1 166.4,361.7 166.9,362.2 167.4,362.3 167.9,362.2 168.4,362.3 168.9,362.4 169.4,362.5 169.9,362.5 170.4,362.6 170.9,362.6 171.4,362.5 171.9,362.4 172.4,362.2 172.9,362.1 173.4,362.1 173.9,362.3 174.4,362.4 174.9,362.6 175.4,362.7 176.4,362.7 176.9,362.6 177.4,362.5 177.9,362.4 178.4,362.3 178.9,362.2 179.4,362.3 179.9,362.4 180.4,362.4 180.9,361.8 181.4,361.1 181.9,360.7 182.4,360.9 182.9,361.6 183.4,362.2 183.9,362.4 184.4,362.4 184.9,362.4 185.4,362.4 185.9,362.3 186.4,362.2 186.9,362.1 187.4,362.0 187.9,362.0 188.4,362.0 188.9,362.1 189.4,362.3 189.9,362.4 190.4,362.2 190.9,362.1 191.4,361.9 191.9,361.9 192.4,361.9 192.9,362.0 193.4,362.2 193.9,362.3 194.4,362.1 194.9,362.0 195.4,362.0 195.9,362.3 196.4,362.5 196.9,362.6 198.9,362.7 199.4,362.6 199.9,362.5 200.4,362.4 200.9,362.4 201.4,362.5 201.9,362.6 202.4,362.6 202.9,362.7 203.4,362.6 203.9,362.6 204.4,362.5 204.9,362.4 205.4,362.4 205.9,362.3 206.4,362.3 206.9,361.7 207.4,361.0 207.9,360.7 208.4,361.0 208.9,361.7 209.4,362.3 209.9,362.3 210.4,362.4 210.9,362.5 211.4,362.6 211.9,362.6 212.4,362.6 212.9,362.5 213.4,362.4 213.9,362.3 214.4,362.2 214.9,361.7 215.4,361.3 215.9,361.2 216.4,361.6 216.9,362.1 217.4,362.4 217.9,362.4 218.4,362.4 218.9,362.5 219.4,362.6 219.9,362.6 220.4,362.6 220.9,362.6 221.4,362.5 221.9,362.4 222.4,362.1 222.9,361.9 223.4,361.6 223.9,360.9 224.4,360.7 224.9,361.1 225.4,361.8 225.9,362.4 226.4,362.4 226.9,362.3 227.4,362.2 227.9,362.2 228.4,362.2 228.9,362.4 229.4,362.1 229.9,361.8 230.4,361.5 230.9,361.2 231.4,361.2 231.9,361.4 232.4,361.7 232.9,362.1 233.4,362.4 233.9,362.5 234.4,362.5 234.9,362.4 235.4,362.4 235.9,362.4 236.4,362.3 236.9,362.2 237.4,362.1 237.9,361.2 238.4,360.0 238.9,359.2 239.4,359.6 239.9,360.7 240.4,361.8 240.9,362.2 241.4,362.3 241.9,362.3 242.4,362.2 242.9,361.9 243.4,361.7 243.9,361.9 244.4,362.2 244.9,362.5 245.4,362.4 245.9,362.3 246.4,362.2 246.9,362.1 247.4,362.1 247.9,362.2 248.4,362.3 248.9,362.4 249.4,362.5 249.9,362.4 250.4,362.3 250.9,362.2 251.4,362.0 251.9,361.9 252.4,361.8 252.9,361.8 253.4,361.9 253.9,362.0 254.4,362.1 254.9,362.2 255.4,362.3 255.9,362.3 256.4,362.3 256.9,362.3 257.4,362.4 257.9,362.4 258.4,362.5 258.9,362.6 259.4,362.6 L259.5,362.7 Z " fill="#b8112c"/>
<line x1="89.40" y1="380.10" x2="259.50" y2="380.10" stroke="#f4b2c2" stroke-width="1.3" />
<path d="M89.4,379.8 L89.4,379.6 89.9,379.5 90.4,379.3 90.9,379.3 91.4,379.3 91.9,379.4 92.4,379.5 92.9,379.3 93.4,379.3 93.9,379.2 94.4,379.3 94.9,379.3 95.4,379.5 95.9,379.6 96.4,379.6 96.9,379.5 97.4,379.3 97.9,379.2 98.4,379.1 98.9,379.1 99.4,379.2 99.9,379.4 100.4,379.4 100.9,379.4 101.4,379.3 101.9,379.2 102.4,378.9 102.9,378.4 103.4,378.0 103.9,377.5 104.4,377.1 104.9,376.9 105.4,376.8 105.9,376.9 106.4,377.3 106.9,377.7 107.4,378.2 107.9,378.6 108.4,379.0 108.9,379.3 109.4,379.1 109.9,378.9 110.4,378.8 110.9,378.8 111.4,379.0 111.9,379.3 112.4,379.5 112.9,379.6 113.4,379.5 113.9,379.3 114.4,379.1 114.9,379.0 115.4,379.0 115.9,379.1 116.4,379.3 116.9,379.5 117.4,379.7 117.9,379.7 118.4,379.6 118.9,379.5 119.4,379.3 119.9,379.2 120.4,379.0 120.9,379.0 121.4,379.1 121.9,379.2 122.4,379.4 122.9,379.5 123.4,379.5 123.9,379.3 124.4,379.1 124.9,379.0 125.4,378.9 125.9,379.0 126.4,379.2 126.9,379.4 127.4,379.5 127.9,379.3 128.4,379.1 128.9,379.0 129.4,379.1 129.9,379.4 130.4,379.6 130.9,379.7 131.4,379.7 131.9,379.6 132.4,379.5 132.9,379.3 133.4,379.2 133.9,379.1 134.4,379.2 134.9,379.3 135.4,379.5 135.9,379.6 136.4,379.7 136.9,379.8 137.4,379.7 137.9,379.7 138.4,379.5 138.9,379.3 139.4,379.2 139.9,379.2 140.4,379.3 140.9,379.5 141.4,379.7 141.9,379.6 142.4,379.4 142.9,379.2 143.4,379.0 143.9,379.0 144.4,379.2 144.9,379.5 145.4,379.7 145.9,379.7 146.4,379.6 146.9,379.5 147.4,379.4 147.9,379.3 148.4,379.2 148.9,379.2 149.4,379.2 149.9,379.3 150.4,379.4 150.9,379.5 151.4,379.6 151.9,379.7 152.4,379.7 152.9,379.7 153.4,379.6 153.9,379.5 154.4,379.5 154.9,379.5 155.4,379.5 155.9,379.6 156.4,379.6 156.9,379.5 157.4,379.3 157.9,379.1 158.4,378.9 158.9,378.8 159.4,378.8 159.9,379.0 160.4,379.3 160.9,379.5 161.4,379.4 161.9,379.4 162.4,379.5 162.9,379.5 163.4,379.6 163.9,379.7 164.4,379.7 164.9,379.7 165.4,379.6 165.9,379.3 166.4,379.1 166.9,378.9 167.4,379.0 167.9,379.3 168.4,379.5 168.9,379.7 169.4,379.7 169.9,379.7 170.4,379.7 170.9,379.6 171.4,379.6 171.9,379.6 172.4,379.5 172.9,379.6 173.4,379.5 173.9,379.3 174.4,379.1 174.9,378.9 175.4,378.8 175.9,378.9 176.4,379.0 176.9,379.2 177.4,379.4 177.9,379.5 178.4,379.5 178.9,379.5 179.4,379.5 179.9,379.4 180.4,379.5 180.9,379.5 181.4,379.6 181.9,379.6 182.4,379.5 182.9,379.2 183.4,379.0 183.9,379.0 184.4,379.2 184.9,379.5 185.4,379.7 185.9,379.7 186.4,379.7 186.9,379.6 187.4,379.5 187.9,379.5 188.4,379.6 188.9,379.6 189.4,379.7 189.9,379.8 191.4,379.8 191.9,379.7 192.4,379.6 192.9,379.4 193.4,379.3 193.9,379.4 194.4,379.5 194.9,379.6 195.4,379.5 195.9,379.3 196.4,379.2 196.9,379.1 197.4,379.1 197.9,379.1 198.4,379.2 198.9,379.3 199.4,379.5 199.9,379.6 200.4,379.7 200.9,379.7 201.4,379.6 201.9,379.5 202.4,379.5 202.9,379.5 203.4,379.5 203.9,379.6 204.4,379.6 204.9,379.5 205.4,379.4 205.9,379.3 206.4,379.3 206.9,379.3 207.4,379.3 207.9,379.3 208.4,379.2 208.9,379.0 209.4,379.0 209.9,379.0 210.4,379.1 210.9,379.2 211.4,379.3 211.9,379.5 212.4,379.6 212.9,379.6 213.4,379.5 213.9,379.4 214.4,379.4 214.9,379.5 215.4,379.6 215.9,379.5 216.4,379.4 216.9,379.2 217.4,379.1 217.9,379.0 218.4,378.9 218.9,378.9 219.4,379.0 219.9,379.1 220.4,379.2 220.9,379.4 221.4,379.5 221.9,379.5 222.4,379.3 222.9,379.1 223.4,379.0 223.9,378.9 224.4,378.9 224.9,379.0 225.4,379.2 225.9,379.3 226.4,379.2 226.9,379.1 227.4,379.1 227.9,379.1 228.4,379.1 228.9,379.3 229.4,379.4 229.9,379.3 230.4,379.1 230.9,378.9 231.4,378.7 231.9,378.5 232.4,378.4 232.9,378.3 233.4,378.3 233.9,378.4 234.4,378.6 234.9,378.8 235.4,379.0 235.9,379.2 236.4,379.3 236.9,379.1 237.4,379.0 237.9,378.1 238.4,376.9 238.9,375.8 239.4,375.3 239.9,375.8 240.4,376.9 240.9,378.1 241.4,379.0 241.9,379.1 242.4,379.3 242.9,379.4 243.4,379.4 243.9,379.3 244.4,379.2 244.9,379.2 245.4,379.3 245.9,379.5 246.4,379.6 246.9,379.7 247.4,379.6 247.9,379.5 248.4,379.4 248.9,379.2 249.4,379.2 249.9,379.1 250.4,379.2 250.9,379.3 251.4,379.4 251.9,379.5 252.4,379.6 252.9,379.7 253.4,379.7 253.9,379.6 254.4,379.5 254.9,379.4 255.4,379.4 255.9,379.5 256.4,379.6 256.9,379.7 L259.5,379.8 Z " fill="#b8112c"/>
<line x1="89.40" y1="396.80" x2="259.50" y2="396.80" stroke="#f4b2c2" stroke-width="1.3" />
<path d="M89.4,396.5 L89.4,395.9 89.9,395.8 90.4,395.8 90.9,395.8 91.4,395.8 91.9,396.0 92.4,396.1 92.9,396.2 93.4,396.3 93.9,396.2 94.4,396.0 94.9,395.8 95.4,395.7 95.9,395.8 96.4,395.9 96.9,396.1 97.4,396.3 97.9,396.4 98.4,396.4 98.9,396.3 99.4,396.2 99.9,396.2 100.4,396.1 100.9,396.1 101.4,396.2 101.9,396.3 102.4,396.3 102.9,396.4 103.4,396.3 103.9,396.3 104.4,396.2 104.9,396.1 105.4,396.1 105.9,396.1 106.4,396.1 106.9,396.1 107.4,395.9 107.9,395.8 108.4,395.8 108.9,395.8 109.4,395.9 109.9,396.0 110.4,396.1 110.9,396.2 111.4,396.3 111.9,396.4 112.4,396.2 112.9,396.0 113.4,395.9 113.9,395.8 114.4,395.9 114.9,396.1 115.4,396.2 115.9,396.1 116.4,396.0 116.9,395.9 117.4,395.9 117.9,395.9 118.4,395.9 118.9,396.0 119.4,396.1 119.9,396.2 120.4,396.3 120.9,396.4 121.4,396.3 121.9,396.2 122.4,396.1 122.9,395.9 123.4,395.9 123.9,395.9 124.4,396.0 124.9,396.2 125.4,396.3 125.9,396.4 126.4,396.5 127.9,396.4 128.4,396.3 128.9,396.2 129.4,396.2 129.9,396.2 130.4,396.3 130.9,396.4 131.4,396.4 131.9,396.4 132.4,396.3 132.9,396.2 133.4,396.1 133.9,396.0 134.4,396.1 134.9,396.1 135.4,396.1 135.9,396.1 136.4,396.0 136.9,396.0 137.4,396.1 137.9,396.1 138.4,396.2 138.9,396.3 139.4,396.3 139.9,396.4 140.4,396.4 140.9,396.2 141.4,395.9 141.9,395.7 142.4,395.7 142.9,395.8 143.4,396.1 143.9,396.3 144.4,396.4 144.9,396.3 145.4,396.2 145.9,396.1 146.4,396.0 146.9,395.9 147.4,395.9 147.9,395.9 148.4,396.0 148.9,396.0 149.4,395.8 149.9,395.7 150.4,395.7 150.9,395.9 151.4,396.2 151.9,396.3 152.4,396.4 152.9,396.3 153.4,396.3 153.9,396.2 154.4,396.3 154.9,396.3 155.4,396.4 155.9,396.3 156.4,396.1 156.9,396.0 157.4,395.9 157.9,396.1 158.4,396.3 158.9,396.2 159.4,396.1 159.9,395.9 160.4,395.8 160.9,395.9 161.4,396.0 161.9,396.0 162.4,395.7 162.9,395.5 163.4,395.5 163.9,395.6 164.4,395.8 164.9,396.0 165.4,396.2 165.9,396.2 166.4,396.2 166.9,396.3 167.4,396.3 167.9,396.3 168.4,396.4 168.9,396.3 169.4,396.2 169.9,396.1 170.4,396.0 170.9,396.0 171.4,396.0 171.9,396.0 172.4,396.1 172.9,396.2 173.4,396.3 173.9,396.4 174.4,396.4 174.9,396.2 175.4,396.1 175.9,395.9 176.4,395.8 176.9,395.7 177.4,395.7 177.9,395.8 178.4,396.0 178.9,396.1 179.4,396.3 179.9,396.3 180.4,396.2 180.9,396.2 181.4,396.2 181.9,396.2 182.4,396.3 182.9,396.3 183.4,396.4 183.9,396.4 184.4,396.3 184.9,396.1 185.4,396.1 185.9,396.1 186.4,396.1 186.9,396.2 187.4,396.3 187.9,396.4 188.4,396.5 188.9,396.4 189.4,396.4 189.9,396.3 190.4,396.1 190.9,396.0 191.4,395.9 191.9,395.9 192.4,396.0 192.9,396.2 193.4,396.1 193.9,395.9 194.4,395.8 194.9,395.8 195.4,396.0 195.9,396.2 196.4,396.3 196.9,396.3 197.4,396.2 197.9,396.0 198.4,395.8 198.9,395.7 199.4,395.6 199.9,395.7 200.4,395.9 200.9,396.0 201.4,396.2 201.9,396.3 202.4,396.4 202.9,396.3 203.4,396.1 203.9,395.9 204.4,395.8 204.9,395.9 205.4,396.1 205.9,396.3 206.4,396.1 206.9,395.9 207.4,395.8 207.9,395.7 208.4,395.8 208.9,396.0 209.4,396.1 209.9,396.3 210.4,396.4 210.9,396.3 211.4,396.3 211.9,396.2 212.4,396.2 212.9,396.3 213.4,396.3 213.9,396.2 214.4,396.0 214.9,395.8 215.4,395.7 215.9,395.7 216.4,395.9 216.9,396.1 217.4,396.3 217.9,396.4 218.4,396.4 218.9,396.4 219.4,396.3 219.9,396.2 220.4,396.1 220.9,396.0 221.4,396.0 221.9,396.0 222.4,396.1 222.9,396.2 223.4,396.3 223.9,396.4 224.4,396.4 224.9,396.4 225.4,396.3 225.9,396.1 226.4,395.9 226.9,395.8 227.4,395.8 227.9,396.0 228.4,396.2 228.9,396.1 229.4,396.0 229.9,396.0 230.4,395.9 230.9,396.0 231.4,396.1 231.9,396.2 232.4,396.3 232.9,396.4 233.4,396.4 233.9,396.2 234.4,396.0 234.9,395.8 235.4,395.8 235.9,396.0 236.4,396.2 236.9,396.4 237.4,396.4 237.9,396.4 238.4,396.3 238.9,396.3 239.4,396.2 239.9,396.2 240.4,396.3 240.9,396.1 241.4,396.0 241.9,395.9 242.4,395.9 242.9,396.0 243.4,396.1 243.9,395.9 244.4,395.9 244.9,395.8 245.4,395.6 245.9,395.5 246.4,395.5 246.9,395.7 247.4,396.0 247.9,396.2 248.4,396.0 248.9,395.9 249.4,395.8 249.9,395.7 250.4,395.6 250.9,395.7 251.4,395.8 251.9,395.9 252.4,396.1 252.9,396.2 253.4,396.2 253.9,396.0 254.4,395.8 254.9,395.6 255.4,395.5 255.9,395.5 256.4,395.7 256.9,396.0 257.4,396.2 257.9,396.2 258.4,396.0 258.9,395.9 259.4,395.8 L259.5,396.5 Z M101.4,396.5 L103.0,394.0 L105.0,391.0 L106.8,387.5 L107.5,386.5 L110.2,386.5 L111.0,390.5 L111.8,395.0 L113.0,395.7 L115.0,396.2 L116.0,396.5 Z " fill="#b8112c"/>
<rect x="98.30" y="328.30" width="22.40" height="72.30" fill="none" stroke="#222" stroke-width="1.0"/>
<line x1="107.50" y1="404.50" x2="259.50" y2="404.50" stroke="#7fa6cc" stroke-width="1.0" />
<line x1="211.90" y1="401.70" x2="211.90" y2="407.30" stroke="#2d5f8f" stroke-width="1.3" />
<line x1="220.30" y1="401.70" x2="220.30" y2="407.30" stroke="#2d5f8f" stroke-width="1.3" />
<line x1="234.70" y1="401.70" x2="234.70" y2="407.30" stroke="#2d5f8f" stroke-width="1.3" />
<line x1="244.20" y1="401.70" x2="244.20" y2="407.30" stroke="#2d5f8f" stroke-width="1.3" />
<rect x="106.10" y="403.20" width="2.40" height="2.60" fill="#1b3f7a" />
<text x="326.00" y="307.50" font-size="9.5" text-anchor="end" font-weight="normal" font-style="normal" fill="#231f20" >chr17</text>
<text x="326.00" y="318.80" font-size="9.5" text-anchor="end" font-weight="normal" font-style="normal" fill="#231f20" >Scale</text>
<line x1="336.00" y1="321.70" x2="336.00" y2="398.50" stroke="#111" stroke-width="1.5" />
<line x1="331.20" y1="346.70" x2="336.00" y2="346.70" stroke="#111" stroke-width="1.2" />
<line x1="331.20" y1="335.70" x2="336.00" y2="335.70" stroke="#111" stroke-width="1.2" />
<text x="326.40" y="349.90" font-size="9.0" text-anchor="end" font-weight="normal" font-style="normal" fill="#231f20" >0</text>
<text x="326.40" y="339.70" font-size="9.0" text-anchor="end" font-weight="normal" font-style="normal" fill="#231f20" >10</text>
<text x="310.20" y="348.20" font-size="9.4" text-anchor="end" font-weight="normal" font-style="normal" fill="#231f20" letter-spacing="0.2">SMC3</text>
<line x1="331.20" y1="363.80" x2="336.00" y2="363.80" stroke="#111" stroke-width="1.2" />
<line x1="331.20" y1="352.80" x2="336.00" y2="352.80" stroke="#111" stroke-width="1.2" />
<text x="326.40" y="367.00" font-size="9.0" text-anchor="end" font-weight="normal" font-style="normal" fill="#231f20" >0</text>
<text x="326.40" y="356.80" font-size="9.0" text-anchor="end" font-weight="normal" font-style="normal" fill="#231f20" >10</text>
<text x="310.20" y="365.30" font-size="9.4" text-anchor="end" font-weight="normal" font-style="normal" fill="#231f20" letter-spacing="0.2">CTCF</text>
<line x1="331.20" y1="380.90" x2="336.00" y2="380.90" stroke="#111" stroke-width="1.2" />
<line x1="331.20" y1="369.90" x2="336.00" y2="369.90" stroke="#111" stroke-width="1.2" />
<text x="326.40" y="384.10" font-size="9.0" text-anchor="end" font-weight="normal" font-style="normal" fill="#231f20" >0</text>
<text x="326.40" y="373.90" font-size="9.0" text-anchor="end" font-weight="normal" font-style="normal" fill="#231f20" >10</text>
<text x="310.20" y="382.40" font-size="9.4" text-anchor="end" font-weight="normal" font-style="normal" fill="#231f20" letter-spacing="0.2">SMC1</text>
<line x1="331.20" y1="397.60" x2="336.00" y2="397.60" stroke="#111" stroke-width="1.2" />
<line x1="331.20" y1="386.60" x2="336.00" y2="386.60" stroke="#111" stroke-width="1.2" />
<text x="326.40" y="400.80" font-size="9.0" text-anchor="end" font-weight="normal" font-style="normal" fill="#231f20" >0</text>
<text x="326.40" y="390.60" font-size="9.0" text-anchor="end" font-weight="normal" font-style="normal" fill="#231f20" >10</text>
<text x="310.20" y="399.10" font-size="9.4" text-anchor="end" font-weight="normal" font-style="normal" fill="#231f20" letter-spacing="0.2">YY1</text>
<text x="405.70" y="317.80" font-size="12.7" text-anchor="start" font-weight="normal" font-style="italic" fill="#231f20" >Hif3&#945;</text>
<text x="369.10" y="327.40" font-size="9.4" text-anchor="start" font-weight="normal" font-style="normal" fill="#231f20" >10kb</text>
<line x1="391.30" y1="323.90" x2="449.40" y2="323.90" stroke="#111" stroke-width="1.0" />
<line x1="391.30" y1="321.40" x2="391.30" y2="326.40" stroke="#111" stroke-width="1.0" />
<line x1="449.40" y1="321.40" x2="449.40" y2="326.40" stroke="#111" stroke-width="1.0" />
<text x="451.30" y="327.40" font-size="9.6" text-anchor="start" font-weight="normal" font-style="normal" fill="#231f20" >mm10</text>
<line x1="336.50" y1="345.90" x2="506.00" y2="345.90" stroke="#f4b2c2" stroke-width="1.3" />
<path d="M336.5,345.6 L336.5,345.6 337.0,345.5 337.5,345.4 338.0,345.3 338.5,345.1 339.0,345.2 339.5,345.3 340.0,345.3 340.5,345.2 341.0,345.1 341.5,345.1 342.0,345.1 342.5,345.2 343.0,345.3 343.5,345.3 344.0,345.4 344.5,345.4 345.0,345.2 345.5,345.0 346.0,344.9 346.5,344.7 347.0,344.7 347.5,344.8 348.0,345.0 348.5,345.2 349.0,345.3 349.5,345.3 350.0,345.2 350.5,345.1 351.0,345.0 351.5,345.0 352.0,345.1 352.5,345.2 353.0,345.3 353.5,345.3 354.0,345.1 354.5,344.9 355.0,344.7 355.5,344.6 356.0,344.6 356.5,344.8 357.0,345.0 357.5,345.2 358.0,345.3 358.5,345.5 359.0,345.4 359.5,345.2 360.0,345.1 360.5,345.1 361.0,345.2 361.5,345.4 362.0,345.4 362.5,345.3 363.0,345.2 363.5,345.2 364.0,345.2 364.5,345.2 365.0,345.3 365.5,345.3 366.0,345.2 366.5,345.1 367.0,345.1 367.5,345.2 368.0,345.4 368.5,345.5 369.0,345.4 369.5,345.4 370.0,345.3 370.5,345.2 371.0,345.1 371.5,345.1 372.0,345.1 372.5,345.2 373.0,345.2 373.5,345.3 374.0,345.4 374.5,345.4 375.0,345.3 375.5,345.3 376.0,345.4 376.5,345.4 377.0,345.5 377.5,345.5 378.0,345.4 378.5,345.3 379.0,345.2 379.5,345.1 380.0,345.0 380.5,345.0 381.0,345.1 381.5,345.2 382.0,345.2 382.5,345.2 383.0,345.0 383.5,344.7 384.0,344.4 384.5,344.1 385.0,343.7 385.5,343.4 386.0,343.2 386.5,343.1 387.0,343.1 387.5,343.3 388.0,343.6 388.5,343.9 389.0,344.3 389.5,344.6 390.0,344.9 390.5,345.1 391.0,345.2 391.5,345.2 392.0,345.3 392.5,345.3 393.0,345.2 393.5,345.1 394.0,345.1 394.5,345.0 395.0,344.8 395.5,344.6 396.0,344.6 396.5,344.7 397.0,345.0 397.5,345.2 398.0,345.3 398.5,345.2 399.0,345.2 399.5,345.2 400.0,345.2 400.5,345.3 401.0,345.3 401.5,345.3 402.0,345.2 402.5,345.0 403.0,344.8 403.5,344.8 404.0,344.9 404.5,344.5 405.0,344.1 405.5,343.7 406.0,343.3 406.5,343.1 407.0,343.1 407.5,343.4 408.0,343.7 408.5,344.2 409.0,344.6 409.5,344.9 410.0,344.9 410.5,345.0 411.0,345.2 411.5,345.2 412.0,345.1 412.5,345.0 413.0,345.0 413.5,345.1 414.0,345.2 414.5,345.3 415.0,345.1 415.5,344.9 416.0,345.0 416.5,345.1 417.0,345.3 417.5,345.5 418.0,345.5 418.5,345.5 419.0,345.4 419.5,345.3 420.0,345.3 420.5,345.2 421.0,345.2 421.5,345.2 422.0,345.3 422.5,345.3 423.0,345.1 423.5,344.9 424.0,344.8 424.5,344.8 425.0,345.0 425.5,345.2 426.0,345.4 426.5,345.5 427.0,345.5 427.5,345.3 428.0,345.1 428.5,344.9 429.0,344.8 429.5,344.9 430.0,345.1 430.5,345.4 431.0,345.5 431.5,345.4 432.0,345.3 432.5,345.2 433.0,345.2 433.5,345.2 434.0,345.3 434.5,345.4 435.0,345.4 435.5,345.3 436.0,345.2 436.5,345.1 437.0,345.0 437.5,344.9 438.0,344.9 438.5,344.9 439.0,345.0 439.5,345.1 440.0,345.2 440.5,345.3 441.0,345.4 441.5,345.5 442.0,345.4 442.5,345.3 443.0,345.1 443.5,345.0 444.0,345.0 444.5,345.1 445.0,345.1 445.5,345.0 446.0,344.8 446.5,344.8 447.0,344.7 447.5,344.8 448.0,344.9 448.5,345.0 449.0,345.2 449.5,345.3 450.0,345.4 450.5,345.2 451.0,344.9 451.5,344.7 452.0,344.7 452.5,344.9 453.0,344.9 453.5,344.7 454.0,344.6 454.5,343.4 455.0,341.7 455.5,340.2 456.0,339.6 456.5,340.2 457.0,341.7 457.5,343.4 458.0,344.6 458.5,344.7 459.0,344.9 459.5,345.0 460.0,345.1 460.5,345.1 461.0,345.1 461.5,345.2 462.0,345.3 462.5,345.3 463.0,345.2 463.5,345.2 464.0,345.2 464.5,345.2 465.0,345.2 465.5,345.2 466.0,345.3 466.5,345.4 467.0,345.2 467.5,345.0 468.0,344.8 468.5,344.9 469.0,345.1 469.5,345.0 470.0,344.9 470.5,344.8 471.0,344.8 471.5,344.9 472.0,345.1 472.5,345.2 473.0,345.4 473.5,345.5 474.0,345.3 474.5,345.2 475.0,345.2 475.5,345.3 476.0,345.4 476.5,345.5 477.5,345.5 478.0,345.5 478.5,345.3 479.0,345.2 479.5,345.2 480.0,345.2 480.5,345.3 481.0,345.4 481.5,345.5 482.0,345.6 482.5,345.5 483.0,345.5 483.5,345.4 484.0,345.2 484.5,345.1 485.0,345.0 485.5,345.0 486.0,345.0 486.5,345.1 487.0,345.2 487.5,345.4 488.0,345.4 488.5,345.3 489.0,345.1 489.5,344.9 490.0,344.9 490.5,344.9 491.0,345.0 491.5,344.9 492.0,344.8 492.5,344.7 493.0,344.7 493.5,344.8 494.0,344.9 494.5,345.1 495.0,345.2 495.5,345.2 496.0,345.0 496.5,344.8 497.0,344.6 497.5,344.6 498.0,344.7 498.5,344.7 499.0,344.9 499.5,345.1 500.0,345.4 500.5,345.5 501.0,345.4 501.5,345.2 502.0,344.9 502.5,344.8 503.0,344.7 503.5,344.9 504.0,345.1 504.5,345.3 505.0,345.3 505.5,345.3 506.0,345.3 L506.0,345.6 Z " fill="#b8112c"/>
<line x1="336.50" y1="363.00" x2="506.00" y2="363.00" stroke="#f4b2c2" stroke-width="1.3" />
<path d="M336.5,362.7 L336.5,362.5 337.0,362.3 337.5,362.1 338.0,362.0 338.5,362.2 339.0,362.4 339.5,362.6 340.0,362.5 340.5,362.5 341.0,362.4 341.5,362.3 342.0,362.2 342.5,362.2 343.0,362.2 343.5,362.3 344.0,362.4 344.5,362.5 345.0,362.5 345.5,362.3 346.0,362.2 346.5,362.1 347.0,362.2 347.5,362.3 348.0,362.5 348.5,362.6 349.0,362.5 349.5,362.5 350.0,362.5 350.5,362.4 351.0,362.1 351.5,361.7 352.0,361.4 352.5,361.2 353.0,361.2 353.5,361.5 354.0,361.8 354.5,362.1 355.0,362.3 355.5,362.3 356.0,362.4 356.5,362.4 357.0,362.3 357.5,362.2 358.0,362.2 358.5,362.1 359.0,362.1 359.5,362.1 360.0,362.2 360.5,362.3 361.0,362.1 361.5,362.0 362.0,362.0 362.5,362.1 363.0,362.3 363.5,362.5 364.0,362.6 364.5,362.6 365.0,362.5 365.5,362.4 366.0,362.3 366.5,362.1 367.0,362.1 367.5,362.0 368.0,362.1 368.5,362.2 369.0,362.2 369.5,361.9 370.0,361.5 370.5,361.0 371.0,360.6 371.5,360.3 372.0,360.2 372.5,360.3 373.0,360.6 373.5,361.0 374.0,361.5 374.5,361.9 375.0,362.0 375.5,361.9 376.0,361.9 376.5,362.0 377.0,362.2 377.5,362.3 378.0,362.5 378.5,362.4 379.0,362.3 379.5,362.3 380.0,362.3 380.5,362.3 381.0,362.3 381.5,362.3 382.0,362.1 382.5,362.0 383.0,361.9 383.5,361.8 384.0,361.8 384.5,362.0 385.0,362.1 385.5,361.9 386.0,361.8 386.5,361.9 387.0,362.0 387.5,362.0 388.0,361.8 388.5,361.7 389.0,361.8 389.5,362.0 390.0,362.2 390.5,362.3 391.0,362.2 391.5,362.3 392.0,362.4 392.5,362.6 393.0,362.6 393.5,362.6 394.0,362.5 394.5,362.4 395.0,362.4 395.5,362.3 396.0,362.2 396.5,362.2 397.0,362.2 397.5,362.2 398.0,362.3 398.5,362.1 399.0,361.9 399.5,361.8 400.0,361.9 400.5,362.1 401.0,362.3 401.5,362.5 402.0,362.6 402.5,362.6 403.0,362.5 403.5,362.4 404.0,362.3 404.5,362.2 405.0,362.2 405.5,362.3 406.0,362.4 406.5,362.5 407.0,362.6 407.5,362.5 408.0,362.4 408.5,362.3 409.0,362.2 409.5,362.0 410.0,361.9 410.5,361.9 411.0,361.9 411.5,362.0 412.0,362.1 412.5,361.9 413.0,361.8 413.5,361.8 414.0,362.0 414.5,362.2 415.0,361.9 415.5,361.7 416.0,361.7 416.5,361.8 417.0,362.0 417.5,362.2 418.0,362.3 418.5,362.4 419.0,362.5 419.5,362.6 420.0,362.5 420.5,362.4 421.0,362.3 421.5,362.3 422.0,362.3 422.5,362.3 423.0,362.3 423.5,362.4 424.0,362.2 424.5,361.9 425.0,361.6 425.5,361.2 426.0,360.9 426.5,360.7 427.0,360.7 427.5,360.9 428.0,361.1 428.5,361.5 429.0,361.8 429.5,362.1 430.0,362.4 430.5,362.4 431.0,362.4 431.5,362.3 432.0,362.3 432.5,362.3 433.0,362.3 433.5,362.4 434.0,362.5 434.5,362.5 435.0,362.5 435.5,362.3 436.0,362.1 436.5,361.9 437.0,361.9 437.5,362.0 438.0,362.2 438.5,362.4 439.0,362.6 439.5,362.5 440.0,362.3 440.5,362.0 441.0,361.9 441.5,361.9 442.0,362.0 442.5,362.2 443.0,362.4 443.5,362.6 444.0,362.6 444.5,362.5 445.0,362.3 445.5,362.2 446.0,362.0 446.5,361.9 447.0,361.8 447.5,361.9 448.0,362.0 448.5,362.2 449.0,362.4 449.5,362.5 450.0,362.6 450.5,362.6 451.0,362.5 451.5,362.4 452.0,362.4 452.5,362.3 453.0,362.2 453.5,362.1 454.0,362.0 454.5,361.2 455.0,360.1 455.5,359.1 456.0,358.7 456.5,359.1 457.0,360.1 457.5,361.2 458.0,362.0 458.5,361.9 459.0,361.9 459.5,362.0 460.0,362.3 460.5,362.5 461.0,362.5 461.5,362.5 462.0,362.3 462.5,362.1 463.0,361.9 463.5,361.9 464.0,361.9 464.5,362.0 465.0,362.2 465.5,362.4 466.0,362.5 466.5,362.6 467.0,362.4 467.5,362.2 468.0,362.0 468.5,362.0 469.0,362.1 469.5,362.4 470.0,362.5 470.5,362.6 471.0,362.4 471.5,362.3 472.0,362.3 472.5,362.3 473.0,362.4 473.5,362.6 474.0,362.7 474.5,362.6 475.0,362.6 475.5,362.5 476.0,362.4 476.5,362.5 477.0,362.5 477.5,362.6 478.0,362.6 478.5,362.6 479.0,362.6 479.5,362.5 480.0,362.4 480.5,362.3 481.0,362.3 481.5,362.3 482.0,362.4 482.5,362.5 483.0,362.6 483.5,362.7 484.0,362.6 484.5,362.5 485.0,362.3 485.5,362.0 486.0,361.8 486.5,361.8 487.0,362.0 487.5,362.3 488.0,362.5 488.5,362.4 489.0,362.3 489.5,362.3 490.0,362.3 490.5,362.3 491.0,362.4 491.5,362.5 492.0,362.5 492.5,362.6 493.0,362.6 493.5,362.5 494.0,362.5 494.5,362.4 495.0,362.4 495.5,362.4 496.0,362.4 496.5,362.4 497.0,362.1 497.5,361.9 498.0,361.9 498.5,362.0 499.0,362.2 499.5,362.5 500.0,362.6 500.5,362.6 501.0,362.5 501.5,362.4 502.0,362.4 502.5,362.4 503.0,362.5 503.5,362.5 504.0,362.4 504.5,362.4 505.0,362.4 505.5,362.4 506.0,362.4 L506.0,362.7 Z " fill="#b8112c"/>
<line x1="336.50" y1="380.10" x2="506.00" y2="380.10" stroke="#f4b2c2" stroke-width="1.3" />
<path d="M336.5,379.8 L336.5,379.7 337.0,379.6 337.5,379.4 338.0,379.3 338.5,379.2 339.0,379.3 339.5,379.5 340.0,379.6 340.5,379.7 341.5,379.8 342.0,379.7 342.5,379.6 343.0,379.5 343.5,379.4 344.0,379.3 344.5,379.3 345.0,379.4 345.5,379.5 346.0,379.5 346.5,379.4 347.0,379.3 347.5,379.1 348.0,379.0 348.5,379.0 349.0,379.0 349.5,379.1 350.0,379.2 350.5,379.4 351.0,379.5 351.5,379.6 352.0,379.5 352.5,379.4 353.0,379.3 353.5,379.2 354.0,379.2 354.5,379.3 355.0,379.4 355.5,379.5 356.0,379.6 356.5,379.7 357.0,379.6 357.5,379.4 358.0,379.2 358.5,379.2 359.0,379.3 359.5,379.5 360.0,379.7 360.5,379.7 361.0,379.6 361.5,379.5 362.0,379.3 362.5,379.2 363.0,379.1 363.5,379.2 364.0,379.3 364.5,379.5 365.0,379.6 365.5,379.7 366.0,379.7 366.5,379.6 367.0,379.5 367.5,379.5 368.0,379.4 368.5,379.4 369.0,379.2 369.5,378.9 370.0,378.8 370.5,378.8 371.0,379.0 371.5,379.2 372.0,379.4 372.5,379.4 373.0,379.2 373.5,379.1 374.0,379.2 374.5,379.3 375.0,379.5 375.5,379.4 376.0,379.3 376.5,379.1 377.0,379.0 377.5,379.0 378.0,379.0 378.5,379.1 379.0,379.2 379.5,379.4 380.0,379.5 380.5,379.6 381.0,379.6 381.5,379.5 382.0,379.4 382.5,379.2 383.0,378.9 383.5,378.7 384.0,378.5 384.5,378.3 385.0,378.3 385.5,378.4 386.0,378.6 386.5,378.9 387.0,379.2 387.5,379.4 388.0,379.5 388.5,379.5 389.0,379.5 389.5,379.6 390.0,379.6 390.5,379.6 391.0,379.5 391.5,379.5 392.0,379.5 392.5,379.6 393.0,379.7 393.5,379.8 394.0,379.7 394.5,379.7 395.0,379.7 395.5,379.6 396.0,379.6 396.5,379.5 397.0,379.5 397.5,379.5 398.0,379.6 398.5,379.6 399.0,379.6 399.5,379.5 400.0,379.3 400.5,379.4 401.0,379.5 401.5,379.7 402.0,379.7 402.5,379.6 403.0,379.6 403.5,379.5 404.0,379.4 404.5,379.3 405.0,379.3 405.5,379.3 406.0,379.4 406.5,379.5 407.0,379.6 407.5,379.6 408.0,379.7 408.5,379.7 409.0,379.6 409.5,379.5 410.0,379.5 410.5,379.5 411.0,379.5 411.5,379.6 412.0,379.6 412.5,379.5 413.0,379.5 413.5,379.5 414.0,379.5 414.5,379.5 415.0,379.6 415.5,379.7 416.0,379.7 416.5,379.7 417.0,379.7 417.5,379.6 418.0,379.5 418.5,379.5 419.0,379.4 419.5,379.4 420.0,379.5 420.5,379.6 421.0,379.5 421.5,379.4 422.0,379.3 422.5,379.3 423.0,379.3 423.5,379.3 424.0,379.4 424.5,379.5 425.0,379.6 425.5,379.7 426.0,379.6 426.5,379.5 427.0,379.3 427.5,379.1 428.0,379.0 428.5,379.0 429.0,379.2 429.5,379.4 430.0,379.5 430.5,379.5 431.0,379.5 431.5,379.5 432.0,379.5 432.5,379.6 433.0,379.6 433.5,379.5 434.0,379.5 434.5,379.4 435.0,379.4 435.5,379.5 436.0,379.6 436.5,379.6 437.0,379.7 437.5,379.8 438.0,379.7 438.5,379.6 439.0,379.5 439.5,379.3 440.0,379.1 440.5,379.0 441.0,379.0 441.5,379.1 442.0,379.3 442.5,379.3 443.0,379.1 443.5,379.1 444.0,379.2 444.5,379.4 445.0,379.6 445.5,379.7 446.0,379.6 446.5,379.4 447.0,379.1 447.5,378.9 448.0,378.9 448.5,379.1 449.0,379.3 449.5,379.3 450.0,379.2 450.5,379.1 451.0,379.1 451.5,379.1 452.0,379.2 452.5,379.3 453.0,379.3 453.5,379.2 454.0,379.1 454.5,378.3 455.0,377.2 455.5,376.2 456.0,375.8 456.5,376.2 457.0,377.2 457.5,378.3 458.0,379.1 458.5,379.2 459.0,379.3 459.5,379.3 460.0,379.2 460.5,379.2 461.0,379.3 461.5,379.5 462.0,379.4 462.5,379.4 463.0,379.4 463.5,379.4 464.0,379.4 464.5,379.5 465.0,379.5 465.5,379.4 466.0,379.5 466.5,379.5 467.0,379.6 467.5,379.7 468.0,379.7 468.5,379.7 469.0,379.5 469.5,379.3 470.0,379.2 470.5,379.2 471.0,379.4 471.5,379.5 472.0,379.7 472.5,379.7 473.0,379.6 473.5,379.5 474.0,379.4 474.5,379.3 475.0,379.2 475.5,379.2 476.0,379.3 476.5,379.4 477.0,379.5 477.5,379.6 478.0,379.6 478.5,379.6 479.0,379.5 479.5,379.4 480.0,379.4 480.5,379.4 481.0,379.5 481.5,379.6 482.0,379.6 482.5,379.5 483.0,379.5 483.5,379.5 484.0,379.6 484.5,379.6 485.0,379.6 485.5,379.5 486.0,379.4 486.5,379.3 487.0,379.2 487.5,379.2 488.0,379.2 488.5,379.3 489.0,379.4 489.5,379.4 490.0,379.3 490.5,379.2 491.0,379.2 491.5,379.2 492.0,379.3 492.5,379.4 493.0,379.2 493.5,379.1 494.0,379.0 494.5,378.9 495.0,378.9 495.5,378.9 496.0,378.3 496.5,377.7 497.0,377.4 497.5,377.3 498.0,377.7 498.5,378.2 499.0,378.8 499.5,379.2 500.0,379.4 500.5,379.5 501.0,379.5 501.5,379.6 502.0,379.6 502.5,379.6 503.0,379.6 503.5,379.6 504.0,379.5 504.5,379.5 505.0,379.6 505.5,379.6 506.0,379.7 L506.0,379.8 Z " fill="#b8112c"/>
<line x1="336.50" y1="396.80" x2="506.00" y2="396.80" stroke="#f4b2c2" stroke-width="1.3" />
<path d="M336.5,396.5 L336.5,396.3 337.0,396.3 337.5,396.2 338.0,396.1 338.5,396.1 339.0,396.1 339.5,396.1 340.0,396.1 340.5,396.1 341.0,396.1 341.5,396.0 342.0,396.1 342.5,396.1 343.0,396.2 343.5,396.3 344.0,396.3 344.5,396.4 345.0,396.2 345.5,395.9 346.0,395.7 346.5,395.7 347.0,395.9 347.5,396.2 348.0,396.1 348.5,396.0 349.0,395.9 349.5,395.9 350.0,395.9 350.5,395.9 351.0,396.0 351.5,396.1 352.0,396.2 352.5,396.1 353.0,395.8 353.5,395.6 354.0,395.7 354.5,395.8 355.0,395.6 355.5,395.5 356.0,395.5 356.5,395.7 357.0,395.7 357.5,395.8 358.0,396.0 358.5,396.2 359.0,396.3 359.5,396.1 360.0,396.0 360.5,395.9 361.0,395.8 361.5,395.7 362.0,395.7 362.5,395.8 363.0,395.9 363.5,396.1 364.0,396.2 364.5,396.3 365.0,396.3 365.5,396.1 366.0,395.9 366.5,395.8 367.0,395.7 367.5,395.7 368.0,395.9 368.5,396.1 369.0,396.3 369.5,396.2 370.0,396.0 370.5,395.9 371.0,395.8 371.5,395.8 372.0,395.8 372.5,395.9 373.0,396.0 373.5,395.9 374.0,395.9 374.5,395.9 375.0,395.9 375.5,396.0 376.0,396.1 376.5,396.2 377.0,396.2 377.5,396.2 378.0,396.2 378.5,396.3 379.0,396.3 379.5,396.4 380.0,396.4 380.5,396.4 381.0,396.3 381.5,396.2 382.0,396.2 382.5,396.2 383.0,396.2 383.5,396.1 384.0,395.9 384.5,395.9 385.0,395.9 385.5,395.8 386.0,395.6 386.5,395.5 387.0,395.5 387.5,395.7 388.0,395.7 388.5,395.7 389.0,395.8 389.5,396.0 390.0,396.1 390.5,396.2 391.0,396.3 391.5,396.2 392.0,396.2 392.5,396.1 393.0,396.2 393.5,396.2 394.0,396.2 394.5,396.2 395.0,396.1 395.5,396.1 396.0,396.2 396.5,396.0 397.0,395.9 397.5,395.9 398.0,395.8 398.5,395.8 399.0,395.9 399.5,396.0 400.0,396.1 400.5,396.2 401.0,396.1 401.5,396.0 402.0,395.9 402.5,395.8 403.0,395.8 403.5,395.8 404.0,395.9 404.5,396.0 405.0,396.1 405.5,395.9 406.0,395.9 406.5,395.8 407.0,395.9 407.5,396.0 408.0,396.1 408.5,396.3 409.0,396.3 409.5,396.1 410.0,395.9 410.5,395.8 411.0,395.7 411.5,395.7 412.0,395.8 412.5,396.0 413.0,396.2 413.5,396.3 414.0,396.2 414.5,396.1 415.0,396.1 415.5,396.1 416.0,396.2 416.5,396.3 417.0,396.4 417.5,396.4 418.0,396.3 418.5,396.2 419.0,396.1 419.5,396.1 420.0,396.1 420.5,396.1 421.0,396.2 421.5,396.2 422.0,396.1 422.5,396.1 423.0,396.2 423.5,396.3 424.0,396.4 424.5,396.3 425.0,396.2 425.5,396.0 426.0,396.0 426.5,395.9 427.0,396.0 427.5,396.1 428.0,396.2 428.5,396.2 429.0,396.1 429.5,396.0 430.0,395.9 430.5,395.6 431.0,395.4 431.5,395.2 432.0,395.0 432.5,395.0 433.0,395.1 433.5,395.3 434.0,395.6 434.5,395.9 435.0,396.1 435.5,396.1 436.0,396.2 436.5,396.2 437.0,396.1 437.5,396.1 438.0,396.0 438.5,396.1 439.0,396.2 439.5,396.0 440.0,395.8 440.5,395.6 441.0,395.7 441.5,396.0 442.0,396.2 442.5,396.3 443.0,396.1 443.5,395.9 444.0,395.8 444.5,395.7 445.0,395.8 445.5,396.1 446.0,396.3 446.5,396.3 447.0,396.2 447.5,396.1 448.0,396.0 448.5,395.9 449.0,395.8 449.5,395.9 450.0,396.0 450.5,396.1 451.0,396.2 451.5,396.3 452.0,396.3 452.5,396.1 453.0,396.0 453.5,395.8 454.0,395.7 454.5,395.7 455.0,395.8 455.5,395.9 456.0,396.1 456.5,396.2 457.0,396.3 457.5,396.2 458.0,396.3 458.5,396.3 459.0,396.3 459.5,396.3 460.0,396.2 460.5,396.1 461.0,396.1 461.5,396.1 462.0,396.1 462.5,396.1 463.0,396.2 463.5,396.3 464.0,396.4 464.5,396.4 465.0,396.4 465.5,396.3 466.0,396.2 466.5,396.0 467.0,396.0 467.5,396.2 468.0,396.3 468.5,396.4 469.0,396.3 469.5,396.3 470.0,396.2 470.5,396.1 471.0,396.1 471.5,396.1 472.0,396.1 472.5,396.1 473.0,396.2 473.5,396.3 474.0,396.3 474.5,396.4 475.0,396.4 475.5,396.2 476.0,396.0 476.5,395.8 477.0,395.7 477.5,395.7 478.0,395.8 478.5,396.0 479.0,396.2 479.5,396.1 480.0,396.0 480.5,395.8 481.0,395.7 481.5,395.5 482.0,395.4 482.5,395.2 483.0,394.8 483.5,393.4 484.0,391.5 484.5,389.5 485.0,388.2 485.5,388.1 486.0,389.2 486.5,391.0 487.0,393.0 487.5,394.6 488.0,395.2 488.5,395.3 489.0,395.5 489.5,395.7 490.0,395.8 490.5,395.9 491.0,395.7 491.5,395.6 492.0,395.7 492.5,395.9 493.0,395.9 493.5,395.7 494.0,395.2 494.5,394.4 495.0,393.6 495.5,392.9 496.0,392.5 496.5,392.6 497.0,393.0 497.5,393.8 498.0,394.6 498.5,395.3 499.0,395.8 499.5,395.9 500.0,396.0 500.5,396.0 501.0,396.1 501.5,396.2 502.0,396.1 502.5,396.0 503.0,395.9 503.5,395.9 504.0,396.0 504.5,396.1 505.0,396.2 505.5,396.3 506.0,396.4 L506.0,396.5 Z " fill="#b8112c"/>
<rect x="474.30" y="329.10" width="28.20" height="72.00" fill="none" stroke="#222" stroke-width="1.0"/>
<line x1="368.40" y1="404.50" x2="487.80" y2="404.50" stroke="#5b8dbd" stroke-width="1.0" />
<line x1="369.50" y1="401.70" x2="369.50" y2="407.30" stroke="#2d5f8f" stroke-width="1.3" />
<line x1="376.80" y1="401.70" x2="376.80" y2="407.30" stroke="#2d5f8f" stroke-width="1.3" />
<line x1="386.60" y1="401.70" x2="386.60" y2="407.30" stroke="#2d5f8f" stroke-width="1.3" />
<line x1="397.60" y1="401.70" x2="397.60" y2="407.30" stroke="#2d5f8f" stroke-width="1.3" />
<line x1="406.70" y1="401.70" x2="406.70" y2="407.30" stroke="#2d5f8f" stroke-width="1.3" />
<line x1="417.70" y1="401.70" x2="417.70" y2="407.30" stroke="#2d5f8f" stroke-width="1.3" />
<line x1="419.50" y1="401.70" x2="419.50" y2="407.30" stroke="#2d5f8f" stroke-width="1.3" />
<line x1="441.40" y1="401.70" x2="441.40" y2="407.30" stroke="#2d5f8f" stroke-width="1.3" />
<line x1="444.00" y1="401.70" x2="444.00" y2="407.30" stroke="#2d5f8f" stroke-width="1.3" />
<line x1="452.40" y1="401.70" x2="452.40" y2="407.30" stroke="#2d5f8f" stroke-width="1.3" />
<line x1="454.20" y1="401.70" x2="454.20" y2="407.30" stroke="#2d5f8f" stroke-width="1.3" />
<line x1="457.90" y1="401.70" x2="457.90" y2="407.30" stroke="#2d5f8f" stroke-width="1.3" />
<line x1="470.70" y1="401.70" x2="470.70" y2="407.30" stroke="#2d5f8f" stroke-width="1.3" />
<line x1="487.10" y1="401.70" x2="487.10" y2="407.30" stroke="#2d5f8f" stroke-width="1.3" />
<text x="80.00" y="438.60" font-size="9.5" text-anchor="end" font-weight="normal" font-style="normal" fill="#231f20" >chr6</text>
<text x="80.00" y="449.90" font-size="9.5" text-anchor="end" font-weight="normal" font-style="normal" fill="#231f20" >Scale</text>
<line x1="88.90" y1="451.60" x2="88.90" y2="528.40" stroke="#111" stroke-width="1.5" />
<line x1="84.10" y1="476.60" x2="88.90" y2="476.60" stroke="#111" stroke-width="1.2" />
<line x1="84.10" y1="465.60" x2="88.90" y2="465.60" stroke="#111" stroke-width="1.2" />
<text x="79.30" y="479.80" font-size="9.0" text-anchor="end" font-weight="normal" font-style="normal" fill="#231f20" >0</text>
<text x="79.30" y="469.60" font-size="9.0" text-anchor="end" font-weight="normal" font-style="normal" fill="#231f20" >10</text>
<text x="63.10" y="478.10" font-size="9.4" text-anchor="end" font-weight="normal" font-style="normal" fill="#231f20" letter-spacing="0.2">SMC3</text>
<line x1="84.10" y1="493.70" x2="88.90" y2="493.70" stroke="#111" stroke-width="1.2" />
<line x1="84.10" y1="482.70" x2="88.90" y2="482.70" stroke="#111" stroke-width="1.2" />
<text x="79.30" y="496.90" font-size="9.0" text-anchor="end" font-weight="normal" font-style="normal" fill="#231f20" >0</text>
<text x="79.30" y="486.70" font-size="9.0" text-anchor="end" font-weight="normal" font-style="normal" fill="#231f20" >10</text>
<text x="63.10" y="495.20" font-size="9.4" text-anchor="end" font-weight="normal" font-style="normal" fill="#231f20" letter-spacing="0.2">CTCF</text>
<line x1="84.10" y1="510.80" x2="88.90" y2="510.80" stroke="#111" stroke-width="1.2" />
<line x1="84.10" y1="499.80" x2="88.90" y2="499.80" stroke="#111" stroke-width="1.2" />
<text x="79.30" y="514.00" font-size="9.0" text-anchor="end" font-weight="normal" font-style="normal" fill="#231f20" >0</text>
<text x="79.30" y="503.80" font-size="9.0" text-anchor="end" font-weight="normal" font-style="normal" fill="#231f20" >10</text>
<text x="63.10" y="512.30" font-size="9.4" text-anchor="end" font-weight="normal" font-style="normal" fill="#231f20" letter-spacing="0.2">SMC1</text>
<line x1="84.10" y1="527.50" x2="88.90" y2="527.50" stroke="#111" stroke-width="1.2" />
<line x1="84.10" y1="516.50" x2="88.90" y2="516.50" stroke="#111" stroke-width="1.2" />
<text x="79.30" y="530.70" font-size="9.0" text-anchor="end" font-weight="normal" font-style="normal" fill="#231f20" >0</text>
<text x="79.30" y="520.50" font-size="9.0" text-anchor="end" font-weight="normal" font-style="normal" fill="#231f20" >10</text>
<text x="63.10" y="529.00" font-size="9.4" text-anchor="end" font-weight="normal" font-style="normal" fill="#231f20" letter-spacing="0.2">YY1</text>
<text x="157.10" y="445.60" font-size="12.7" text-anchor="start" font-weight="normal" font-style="italic" fill="#231f20" >Hoxa3</text>
<text x="121.70" y="454.80" font-size="9.4" text-anchor="start" font-weight="normal" font-style="normal" fill="#231f20" >10kb</text>
<line x1="145.00" y1="453.40" x2="201.50" y2="453.40" stroke="#111" stroke-width="1.0" />
<line x1="145.00" y1="450.90" x2="145.00" y2="455.90" stroke="#111" stroke-width="1.0" />
<line x1="201.50" y1="450.90" x2="201.50" y2="455.90" stroke="#111" stroke-width="1.0" />
<text x="204.40" y="454.80" font-size="9.6" text-anchor="start" font-weight="normal" font-style="normal" fill="#231f20" >mm10</text>
<line x1="89.40" y1="476.70" x2="259.50" y2="476.70" stroke="#f4b2c2" stroke-width="1.3" />
<path d="M89.4,476.4 L89.4,475.9 89.9,475.8 90.4,475.9 90.9,476.0 91.4,476.1 91.9,476.3 92.4,476.3 92.9,476.3 93.4,476.3 93.9,476.1 94.4,475.9 94.9,475.7 95.4,475.6 95.9,475.5 96.4,475.6 96.9,475.8 97.4,476.0 97.9,476.1 98.4,475.9 98.9,475.7 99.4,475.5 99.9,475.4 100.4,475.4 100.9,475.6 101.4,475.7 101.9,475.7 102.4,475.9 102.9,476.0 103.4,475.9 103.9,475.8 104.4,475.8 104.9,475.9 105.4,475.8 105.9,475.6 106.4,475.5 106.9,475.5 107.4,475.5 107.9,475.7 108.4,475.8 108.9,476.0 109.4,476.1 109.9,476.0 110.4,475.9 110.9,475.9 111.4,475.9 111.9,476.0 112.4,476.1 112.9,476.2 113.4,476.2 113.9,476.2 114.4,476.1 114.9,476.0 115.4,476.0 115.9,476.0 116.4,476.0 116.9,475.9 117.4,475.9 117.9,475.8 118.4,475.8 118.9,475.9 119.4,475.9 119.9,476.0 120.4,476.1 120.9,476.2 121.4,476.3 121.9,476.2 122.4,476.2 122.9,476.1 123.4,476.1 123.9,476.1 124.4,476.1 124.9,476.1 125.4,476.1 125.9,476.2 126.4,476.1 126.9,476.0 127.4,475.8 127.9,475.7 128.4,475.6 128.9,475.4 129.4,474.5 129.9,472.9 130.4,471.3 130.9,470.4 131.4,470.8 131.9,472.2 132.4,473.9 132.9,475.2 133.4,475.5 133.9,475.6 134.4,475.8 134.9,475.9 135.4,476.0 135.9,476.0 136.4,476.1 136.9,476.1 137.4,476.2 137.9,476.2 138.4,476.1 138.9,476.0 139.4,476.0 139.9,476.0 140.4,476.0 140.9,476.1 141.4,476.1 141.9,476.1 142.4,476.0 142.9,475.9 143.4,475.9 143.9,475.9 144.4,475.9 144.9,475.9 145.4,476.0 145.9,476.1 146.4,476.2 146.9,476.2 147.4,476.3 147.9,476.1 148.4,475.8 148.9,475.7 149.4,475.8 149.9,476.0 150.4,476.0 150.9,475.9 151.4,475.8 151.9,475.8 152.4,475.8 152.9,475.9 153.4,476.0 153.9,476.1 154.4,476.2 154.9,476.1 155.4,475.9 155.9,475.7 156.4,475.6 156.9,475.5 157.4,475.5 157.9,475.7 158.4,475.8 158.9,475.9 159.4,475.8 159.9,475.8 160.4,475.7 160.9,475.8 161.4,475.8 161.9,475.9 162.4,476.0 162.9,476.0 163.4,475.9 163.9,475.8 164.4,475.8 164.9,475.9 165.4,476.1 165.9,476.2 166.4,476.0 166.9,475.8 167.4,475.8 167.9,475.6 168.4,475.5 168.9,475.3 169.4,475.1 169.9,473.8 170.4,471.7 170.9,469.6 171.4,468.4 171.9,468.9 172.4,470.8 172.9,473.0 173.4,474.8 173.9,475.2 174.4,475.4 174.9,475.6 175.4,475.8 175.9,475.9 176.4,476.0 176.9,476.0 177.4,476.1 177.9,476.2 178.4,476.3 178.9,476.3 179.4,476.2 179.9,476.1 180.4,476.1 180.9,476.1 181.4,476.1 181.9,476.2 182.4,476.2 182.9,476.3 183.4,476.3 183.9,476.2 184.4,476.1 184.9,476.0 185.4,475.9 185.9,475.9 186.4,476.0 186.9,476.2 187.4,476.2 187.9,476.2 188.4,476.1 188.9,476.0 189.4,475.9 189.9,475.8 190.4,475.8 190.9,475.8 191.4,475.9 191.9,475.9 192.4,476.1 192.9,476.1 193.4,476.0 193.9,475.9 194.4,475.8 194.9,475.8 195.4,475.8 195.9,475.9 196.4,476.0 196.9,476.1 197.4,476.1 197.9,476.0 198.4,476.0 198.9,475.9 199.4,475.9 199.9,476.0 200.4,476.0 200.9,476.1 201.4,476.2 201.9,476.2 202.4,476.1 202.9,476.1 203.4,476.1 203.9,476.1 204.4,476.0 204.9,475.9 205.4,475.7 205.9,475.6 206.4,475.6 206.9,475.6 207.4,475.7 207.9,475.5 208.4,475.3 208.9,475.1 209.4,474.6 209.9,472.8 210.4,470.3 210.9,468.3 211.4,467.7 211.9,469.0 212.4,471.3 212.9,473.6 213.4,475.0 213.9,475.2 214.4,475.4 214.9,475.6 215.4,475.8 215.9,475.9 216.4,476.1 216.9,476.2 217.4,476.2 217.9,476.3 218.4,476.1 218.9,476.0 219.4,476.0 219.9,476.1 220.4,476.2 220.9,476.3 221.4,476.4 221.9,476.3 222.4,476.3 222.9,476.2 223.4,476.1 223.9,476.0 224.4,475.9 224.9,475.9 225.4,475.9 225.9,476.0 226.4,476.1 226.9,476.2 227.4,476.2 227.9,476.1 228.4,476.0 228.9,476.0 229.4,475.9 229.9,475.9 230.4,475.9 230.9,475.9 231.4,476.0 231.9,476.1 232.4,476.2 232.9,476.3 233.4,476.3 233.9,476.3 234.4,476.2 234.9,476.2 235.4,476.1 235.9,476.0 236.4,476.1 236.9,476.2 237.4,476.2 237.9,476.1 238.4,476.1 238.9,476.1 239.4,476.1 239.9,476.2 240.4,476.1 240.9,475.9 241.4,475.7 241.9,475.6 242.4,475.7 242.9,475.9 243.4,476.1 243.9,476.2 244.4,476.2 244.9,476.1 245.4,476.0 245.9,475.9 246.4,475.8 246.9,475.7 247.4,475.7 247.9,475.8 248.4,475.9 248.9,476.0 249.4,476.1 249.9,476.2 250.4,476.2 250.9,476.2 251.4,476.0 251.9,475.9 252.4,475.8 252.9,475.7 253.4,475.8 253.9,475.9 254.4,476.0 254.9,476.2 255.4,476.3 255.9,476.3 256.4,476.2 256.9,476.1 257.4,475.9 257.9,475.7 258.4,475.7 258.9,475.7 259.4,475.9 L259.5,476.4 Z " fill="#b8112c"/>
<line x1="89.40" y1="493.80" x2="259.50" y2="493.80" stroke="#f4b2c2" stroke-width="1.3" />
<path d="M89.4,493.5 L89.4,493.3 89.9,493.2 90.4,493.2 90.9,493.3 91.4,493.4 91.9,493.4 92.4,493.3 92.9,493.2 93.4,493.1 93.9,492.9 94.4,492.8 94.9,492.8 95.4,492.8 95.9,492.9 96.4,493.0 96.9,493.2 97.4,493.3 97.9,493.2 98.4,493.2 98.9,493.2 99.4,493.3 99.9,493.3 100.4,493.3 100.9,493.3 101.4,493.2 101.9,493.0 102.4,492.9 102.9,492.9 103.4,492.9 103.9,492.7 104.4,492.4 104.9,492.2 105.4,492.0 105.9,492.0 106.4,492.1 106.9,492.3 107.4,492.5 107.9,492.7 108.4,492.8 108.9,492.9 109.4,493.0 109.9,493.1 110.4,493.2 110.9,493.2 111.4,493.2 111.9,493.3 112.4,493.3 112.9,493.2 113.4,493.1 113.9,492.9 114.4,492.7 114.9,492.6 115.4,492.6 115.9,492.8 116.4,493.0 116.9,493.2 117.4,493.3 117.9,493.1 118.4,493.0 118.9,493.0 119.4,493.1 119.9,493.3 120.4,493.4 120.9,493.4 121.4,493.3 121.9,493.0 122.4,492.8 122.9,492.8 123.4,493.0 123.9,493.1 124.4,493.0 124.9,492.9 125.4,492.9 125.9,492.9 126.4,493.0 126.9,492.9 127.4,492.7 127.9,492.4 128.4,492.1 128.9,491.9 129.4,490.8 129.9,488.0 130.4,484.9 130.9,483.2 131.4,483.9 131.9,486.7 132.4,489.8 132.9,491.8 133.4,492.0 133.9,492.3 134.4,492.6 134.9,492.6 135.4,492.7 135.9,492.8 136.4,493.0 136.9,493.1 137.4,493.2 137.9,493.3 138.4,493.3 138.9,493.3 139.4,493.2 139.9,493.2 140.4,493.2 140.9,493.2 141.4,493.3 141.9,493.3 142.4,493.4 142.9,493.3 143.4,493.3 143.9,493.2 144.4,493.2 144.9,493.2 145.4,493.3 145.9,493.3 146.4,493.2 146.9,493.1 147.4,492.9 147.9,492.8 148.4,492.8 148.9,492.9 149.4,493.1 149.9,493.3 150.4,493.4 150.9,493.3 151.4,493.2 151.9,493.1 152.4,493.0 152.9,492.9 153.4,492.9 153.9,492.9 154.4,493.0 154.9,493.1 155.4,493.2 155.9,493.1 156.4,492.9 156.9,492.7 157.4,492.5 157.9,492.5 158.4,492.6 158.9,492.9 159.4,493.1 159.9,493.0 160.4,493.0 160.9,493.0 161.4,493.1 161.9,493.2 162.4,493.3 162.9,493.4 163.4,493.4 163.9,493.2 164.4,493.1 164.9,492.9 165.4,492.8 165.9,492.9 166.4,493.0 166.9,493.2 167.4,493.3 167.9,493.3 168.4,493.2 168.9,493.1 169.4,493.1 169.9,492.7 170.4,492.0 170.9,491.4 171.4,491.0 171.9,491.2 172.4,491.8 172.9,492.5 173.4,493.0 173.9,493.1 174.4,493.0 174.9,492.9 175.4,492.8 175.9,492.7 176.4,492.7 176.9,492.7 177.4,492.9 177.9,493.0 178.4,493.0 178.9,493.0 179.4,493.0 179.9,493.1 180.4,493.1 180.9,493.2 181.4,493.3 181.9,493.2 182.4,493.1 182.9,493.0 183.4,493.0 183.9,493.0 184.4,493.1 184.9,493.3 185.4,493.3 185.9,493.3 186.4,493.2 186.9,493.1 187.4,493.0 187.9,493.0 188.4,493.0 188.9,493.0 189.4,493.1 189.9,492.9 190.4,492.8 190.9,492.7 191.4,492.7 191.9,492.8 192.4,492.9 192.9,493.1 193.4,493.2 193.9,493.2 194.4,493.2 194.9,493.2 195.4,493.3 195.9,493.4 196.4,493.4 196.9,493.5 197.9,493.5 198.4,493.4 198.9,493.3 199.4,493.2 199.9,493.1 200.4,493.1 200.9,493.2 201.4,493.4 201.9,493.3 202.4,493.3 202.9,493.2 203.4,493.2 203.9,493.2 204.4,493.2 204.9,493.3 205.4,493.3 205.9,493.3 206.4,493.3 206.9,493.2 207.4,493.1 207.9,492.9 208.4,492.7 208.9,492.6 209.4,492.4 209.9,491.1 210.4,489.2 210.9,487.4 211.4,486.9 211.9,488.0 212.4,490.0 212.9,491.8 213.4,492.5 213.9,492.6 214.4,492.7 214.9,492.7 215.4,492.7 215.9,492.8 216.4,492.9 216.9,493.1 217.4,493.2 217.9,493.1 218.4,493.1 218.9,493.0 219.4,492.9 219.9,492.9 220.4,493.0 220.9,493.0 221.4,493.1 221.9,493.2 222.4,493.3 222.9,493.4 223.4,493.4 223.9,493.3 224.4,493.1 224.9,492.9 225.4,492.8 225.9,493.0 226.4,493.1 226.9,493.2 227.4,492.9 227.9,492.7 228.4,492.7 228.9,493.0 229.4,493.3 229.9,493.3 230.4,493.1 230.9,492.9 231.4,492.9 231.9,493.0 232.4,493.2 232.9,493.4 233.4,493.4 233.9,493.4 234.4,493.3 234.9,493.2 235.4,493.1 235.9,493.0 236.4,492.9 236.9,492.9 237.4,493.0 237.9,493.0 238.4,493.2 238.9,493.3 239.4,493.2 239.9,493.0 240.4,492.9 240.9,492.8 241.4,492.9 241.9,493.0 242.4,493.2 242.9,493.4 243.4,493.4 244.4,493.5 244.9,493.4 245.4,493.3 245.9,493.2 246.4,493.1 246.9,493.2 247.4,493.3 247.9,493.3 248.4,493.3 248.9,493.3 249.4,493.2 249.9,493.2 250.4,493.3 250.9,493.3 251.4,493.4 251.9,493.3 252.4,493.1 252.9,493.0 253.4,492.8 253.9,492.7 254.4,492.8 254.9,492.9 255.4,493.1 255.9,493.2 256.4,493.0 256.9,492.8 257.4,492.8 257.9,493.0 258.4,493.2 258.9,493.4 259.4,493.5 L259.5,493.5 Z " fill="#b8112c"/>
<line x1="89.40" y1="510.90" x2="259.50" y2="510.90" stroke="#f4b2c2" stroke-width="1.3" />
<path d="M89.4,510.6 L89.4,510.3 89.9,510.1 90.4,509.9 90.9,509.8 91.4,509.8 91.9,510.0 92.4,510.2 92.9,510.1 93.4,510.0 93.9,510.0 94.4,510.0 94.9,510.2 95.4,510.3 95.9,510.3 96.4,510.1 96.9,509.9 97.4,509.8 97.9,509.8 98.4,509.9 98.9,509.9 99.4,509.7 99.9,509.6 100.4,509.6 100.9,509.8 101.4,510.1 101.9,510.3 102.4,510.3 102.9,510.4 103.4,510.4 103.9,510.5 104.4,510.5 104.9,510.5 105.4,510.4 105.9,510.4 106.4,510.3 106.9,510.3 107.4,510.3 107.9,510.3 108.4,510.3 108.9,510.3 109.4,510.2 109.9,510.2 110.4,510.2 110.9,510.3 111.4,510.4 111.9,510.4 112.4,510.3 112.9,510.3 113.4,510.4 113.9,510.4 114.4,510.5 114.9,510.5 115.4,510.5 115.9,510.4 116.4,510.3 116.9,510.1 117.4,510.0 117.9,509.8 118.4,509.7 118.9,509.7 119.4,509.8 119.9,510.0 120.4,510.1 120.9,510.2 121.4,510.2 121.9,510.2 122.4,510.2 122.9,510.3 123.4,510.4 123.9,510.3 124.4,510.1 124.9,510.1 125.4,510.1 125.9,510.1 126.4,510.2 126.9,510.2 127.4,510.0 127.9,509.8 128.4,509.6 128.9,509.5 129.4,508.7 129.9,506.7 130.4,504.6 130.9,503.3 131.4,503.9 131.9,505.8 132.4,508.0 132.9,509.4 133.4,509.6 133.9,509.8 134.4,509.9 134.9,510.1 135.4,510.1 135.9,510.1 136.4,510.2 136.9,510.2 137.4,510.3 137.9,510.4 138.4,510.3 138.9,510.1 139.4,510.0 139.9,510.1 140.4,510.3 140.9,510.5 141.4,510.6 142.9,510.5 143.4,510.5 143.9,510.3 144.4,510.2 144.9,510.1 145.4,510.1 145.9,510.2 146.4,510.3 146.9,510.3 147.4,510.2 147.9,510.1 148.4,510.1 148.9,510.3 149.4,510.4 149.9,510.3 150.4,510.2 150.9,510.2 151.4,510.2 151.9,510.3 152.4,510.3 152.9,510.4 153.4,510.4 153.9,510.4 154.4,510.3 154.9,510.2 155.4,510.1 155.9,510.1 156.4,510.1 156.9,510.2 157.4,510.3 157.9,510.4 158.4,510.3 158.9,510.2 159.4,510.2 159.9,510.2 160.4,510.2 160.9,510.2 161.4,510.3 161.9,510.4 162.4,510.2 162.9,510.1 163.4,509.9 163.9,509.8 164.4,509.8 164.9,509.8 165.4,509.9 165.9,510.0 166.4,510.2 166.9,510.3 167.4,510.4 167.9,510.2 168.4,510.1 168.9,510.0 169.4,509.9 169.9,509.9 170.4,509.4 170.9,508.9 171.4,508.6 171.9,508.7 172.4,509.2 172.9,509.8 173.4,510.1 173.9,510.2 174.4,510.3 174.9,510.1 175.4,509.9 175.9,509.9 176.4,510.0 176.9,510.2 177.4,510.4 177.9,510.3 178.4,510.1 178.9,509.9 179.4,509.9 179.9,509.9 180.4,510.0 180.9,510.1 181.4,510.0 181.9,509.9 182.4,509.8 182.9,509.9 183.4,509.9 183.9,510.0 184.4,510.2 184.9,510.3 185.4,510.4 185.9,510.4 186.4,510.3 186.9,510.2 187.4,510.2 187.9,510.1 188.4,510.1 188.9,510.1 189.4,510.1 189.9,510.2 190.4,509.9 190.9,509.7 191.4,509.8 191.9,510.0 192.4,510.3 192.9,510.5 193.4,510.5 193.9,510.4 194.4,510.3 194.9,510.2 195.4,510.1 195.9,510.0 196.4,510.0 196.9,510.0 197.4,510.0 197.9,510.1 198.4,510.2 198.9,510.3 199.4,510.2 199.9,510.1 200.4,510.0 200.9,510.0 201.4,510.1 201.9,510.1 202.4,510.2 202.9,510.3 203.4,510.3 203.9,510.2 204.4,510.2 204.9,510.2 205.4,510.2 205.9,510.1 206.4,509.9 206.9,509.8 207.4,509.7 207.9,509.8 208.4,509.8 208.9,509.6 209.4,509.4 209.9,508.0 210.4,505.8 210.9,503.9 211.4,503.3 211.9,504.6 212.4,506.7 212.9,508.7 213.4,509.5 213.9,509.6 214.4,509.8 214.9,510.0 215.4,510.2 215.9,510.3 216.4,510.4 216.9,510.4 217.4,510.2 217.9,510.0 218.4,509.8 218.9,509.7 219.4,509.9 219.9,510.1 220.4,510.2 220.9,510.2 221.4,510.1 221.9,510.2 222.4,510.2 222.9,510.2 223.4,510.0 223.9,509.9 224.4,510.0 224.9,510.0 225.4,510.2 225.9,510.4 226.4,510.5 226.9,510.4 227.4,510.4 227.9,510.3 228.4,510.2 228.9,510.1 229.4,510.1 229.9,510.1 230.4,510.1 230.9,510.2 231.4,510.3 231.9,510.3 232.4,510.3 232.9,510.3 233.4,510.4 233.9,510.3 234.4,510.1 234.9,509.9 235.4,510.0 235.9,510.2 236.4,510.4 236.9,510.4 237.4,510.3 237.9,510.1 238.4,510.1 238.9,510.1 239.4,510.2 239.9,510.1 240.4,510.0 240.9,509.9 241.4,509.9 241.9,510.0 242.4,510.1 242.9,510.3 243.4,510.3 243.9,510.1 244.4,510.0 244.9,510.0 245.4,510.2 245.9,510.4 246.4,510.5 246.9,510.6 247.4,510.6 247.9,510.5 248.4,510.4 248.9,510.3 249.4,510.3 249.9,510.3 250.4,510.5 250.9,510.5 252.4,510.6 252.9,510.5 253.4,510.4 253.9,510.3 254.4,510.1 254.9,510.0 255.4,510.0 255.9,510.1 256.4,510.2 256.9,510.4 257.4,510.5 257.9,510.6 L259.5,510.6 Z " fill="#b8112c"/>
<line x1="89.40" y1="527.60" x2="259.50" y2="527.60" stroke="#f4b2c2" stroke-width="1.3" />
<path d="M89.4,527.3 L89.4,527.0 89.9,526.9 90.4,526.7 90.9,526.6 91.4,526.6 91.9,526.7 92.4,526.9 92.9,527.1 93.4,527.1 93.9,527.0 94.4,526.9 94.9,526.9 95.4,526.8 95.9,526.8 96.4,526.7 96.9,526.6 97.4,526.3 97.9,525.5 98.4,524.5 98.9,523.7 99.4,523.3 99.9,523.5 100.4,524.2 100.9,525.1 101.4,526.0 101.9,526.6 102.4,526.7 102.9,526.8 103.4,526.9 103.9,526.9 104.4,527.0 104.9,527.0 105.4,527.1 105.9,527.1 106.4,527.2 106.9,527.2 107.4,527.1 107.9,526.9 108.4,526.8 108.9,526.7 109.4,526.7 109.9,526.7 110.4,526.8 110.9,527.0 111.4,527.1 111.9,527.2 112.4,527.2 112.9,527.1 113.4,527.0 113.9,526.8 114.4,526.8 114.9,526.8 115.4,526.8 115.9,527.0 116.4,527.1 116.9,527.2 117.4,527.2 117.9,527.1 118.4,527.0 118.9,526.9 119.4,526.8 119.9,526.8 120.4,526.7 120.9,526.8 121.4,526.9 121.9,527.0 122.4,527.1 122.9,527.2 123.4,527.2 123.9,527.2 124.4,527.1 124.9,527.1 125.4,527.0 125.9,527.0 126.4,527.1 126.9,527.1 127.4,527.0 127.9,527.0 128.4,526.9 128.9,526.8 129.4,526.7 129.9,526.3 130.4,525.4 130.9,524.3 131.4,523.5 131.9,523.4 132.4,524.1 132.9,525.2 133.4,526.2 133.9,526.7 134.4,526.8 134.9,526.9 135.4,526.9 135.9,526.8 136.4,526.8 136.9,526.7 137.4,526.7 137.9,526.8 138.4,526.9 138.9,526.9 139.4,527.0 139.9,526.9 140.4,526.8 140.9,526.7 141.4,526.7 141.9,526.7 142.4,526.8 142.9,526.9 143.4,527.0 143.9,527.0 144.4,526.9 144.9,526.9 145.4,526.8 145.9,526.8 146.4,526.7 146.9,526.2 147.4,525.6 147.9,525.0 148.4,524.5 148.9,524.3 149.4,524.4 149.9,524.8 150.4,525.4 150.9,526.0 151.4,526.5 151.9,526.7 152.4,526.8 152.9,526.9 153.4,527.0 153.9,527.0 154.4,527.0 154.9,527.0 155.4,527.0 155.9,527.0 156.4,527.1 156.9,527.1 157.4,526.9 157.9,526.6 158.4,526.2 158.9,525.9 159.4,525.8 159.9,525.9 160.4,526.2 160.9,526.6 161.4,526.8 161.9,526.6 162.4,526.5 162.9,526.5 163.4,526.6 163.9,526.8 164.4,526.9 164.9,526.8 165.4,526.6 165.9,526.5 166.4,526.4 166.9,526.2 167.4,526.1 167.9,526.0 168.4,525.1 168.9,523.8 169.4,522.2 169.9,520.6 170.4,519.6 170.9,519.3 171.4,519.9 171.9,521.2 172.4,522.8 172.9,524.4 173.4,525.6 173.9,526.0 174.4,526.2 174.9,526.3 175.4,526.4 175.9,526.6 176.4,526.7 176.9,526.8 177.4,526.8 177.9,526.6 178.4,526.5 178.9,526.5 179.4,526.5 179.9,526.7 180.4,526.8 180.9,526.9 181.4,526.8 181.9,526.8 182.4,527.0 182.9,527.1 183.4,527.2 183.9,527.1 184.4,527.0 184.9,527.0 185.4,527.0 185.9,527.1 186.4,527.1 186.9,527.1 187.4,526.9 187.9,526.7 188.4,526.5 188.9,526.4 189.4,526.5 189.9,526.7 190.4,526.9 190.9,527.1 191.4,527.2 191.9,527.1 192.4,527.0 192.9,526.8 193.4,526.7 193.9,526.6 194.4,526.7 194.9,526.5 195.4,526.3 195.9,526.3 196.4,526.4 196.9,526.6 197.4,526.7 197.9,526.6 198.4,526.7 198.9,526.8 199.4,526.9 199.9,527.0 200.4,527.1 200.9,527.2 201.4,527.1 201.9,527.1 202.4,527.0 202.9,527.0 203.4,527.0 203.9,526.9 204.4,526.9 204.9,526.9 205.4,526.8 205.9,526.8 206.4,526.7 206.9,526.7 207.4,526.6 207.9,526.2 208.4,525.7 208.9,525.2 209.4,524.6 209.9,524.1 210.4,523.6 210.9,523.4 211.4,523.3 211.9,523.5 212.4,523.8 212.9,524.3 213.4,524.8 213.9,525.4 214.4,525.9 214.9,526.3 215.4,526.6 215.9,526.7 216.4,526.7 216.9,526.8 217.4,526.8 217.9,526.9 218.4,526.9 218.9,527.0 219.4,527.0 219.9,527.0 220.4,527.1 220.9,527.0 221.4,526.9 221.9,526.8 222.4,526.8 222.9,526.9 223.4,527.0 223.9,527.1 224.4,527.1 224.9,526.9 225.4,526.8 225.9,526.8 226.4,526.9 226.9,527.0 227.4,527.1 227.9,527.2 228.4,527.2 228.9,527.1 229.4,527.1 229.9,527.0 230.4,527.0 230.9,527.0 231.4,527.0 231.9,527.0 232.4,527.0 232.9,527.1 233.4,527.1 233.9,527.1 234.4,527.0 234.9,526.8 235.4,526.7 235.9,526.6 236.4,526.6 236.9,526.6 237.4,526.7 237.9,526.8 238.4,527.0 238.9,526.8 239.4,526.8 239.9,526.8 240.4,526.8 240.9,526.7 241.4,526.6 241.9,526.1 242.4,525.4 242.9,524.6 243.4,523.8 243.9,523.4 244.4,523.3 244.9,523.7 245.4,524.4 245.9,525.2 246.4,526.0 246.9,526.5 247.4,526.7 247.9,526.7 248.4,526.8 248.9,526.8 249.4,526.8 249.9,527.0 250.4,527.1 250.9,527.1 251.4,527.1 251.9,526.9 252.4,526.7 252.9,526.6 253.4,526.5 253.9,526.4 254.4,526.5 254.9,526.7 255.4,526.8 255.9,527.0 256.4,527.1 256.9,527.0 257.4,526.7 257.9,526.5 258.4,526.5 258.9,526.7 259.4,527.0 L259.5,527.3 Z " fill="#b8112c"/>
<rect x="195.80" y="459.70" width="28.70" height="71.00" fill="none" stroke="#222" stroke-width="1.0"/>
<line x1="90.20" y1="537.10" x2="218.30" y2="537.10" stroke="#8e9cab" stroke-width="1.0" />
<line x1="150.00" y1="534.60" x2="150.00" y2="539.60" stroke="#8e9cab" stroke-width="1" />
<text x="326.00" y="438.60" font-size="9.5" text-anchor="end" font-weight="normal" font-style="normal" fill="#231f20" >chr15</text>
<text x="326.00" y="449.90" font-size="9.5" text-anchor="end" font-weight="normal" font-style="normal" fill="#231f20" >Scale</text>
<line x1="336.00" y1="451.60" x2="336.00" y2="528.40" stroke="#111" stroke-width="1.5" />
<line x1="331.20" y1="476.60" x2="336.00" y2="476.60" stroke="#111" stroke-width="1.2" />
<line x1="331.20" y1="465.60" x2="336.00" y2="465.60" stroke="#111" stroke-width="1.2" />
<text x="326.40" y="479.80" font-size="9.0" text-anchor="end" font-weight="normal" font-style="normal" fill="#231f20" >0</text>
<text x="326.40" y="469.60" font-size="9.0" text-anchor="end" font-weight="normal" font-style="normal" fill="#231f20" >10</text>
<text x="310.20" y="478.10" font-size="9.4" text-anchor="end" font-weight="normal" font-style="normal" fill="#231f20" letter-spacing="0.2">SMC3</text>
<line x1="331.20" y1="493.70" x2="336.00" y2="493.70" stroke="#111" stroke-width="1.2" />
<line x1="331.20" y1="482.70" x2="336.00" y2="482.70" stroke="#111" stroke-width="1.2" />
<text x="326.40" y="496.90" font-size="9.0" text-anchor="end" font-weight="normal" font-style="normal" fill="#231f20" >0</text>
<text x="326.40" y="486.70" font-size="9.0" text-anchor="end" font-weight="normal" font-style="normal" fill="#231f20" >10</text>
<text x="310.20" y="495.20" font-size="9.4" text-anchor="end" font-weight="normal" font-style="normal" fill="#231f20" letter-spacing="0.2">CTCF</text>
<line x1="331.20" y1="510.80" x2="336.00" y2="510.80" stroke="#111" stroke-width="1.2" />
<line x1="331.20" y1="499.80" x2="336.00" y2="499.80" stroke="#111" stroke-width="1.2" />
<text x="326.40" y="514.00" font-size="9.0" text-anchor="end" font-weight="normal" font-style="normal" fill="#231f20" >0</text>
<text x="326.40" y="503.80" font-size="9.0" text-anchor="end" font-weight="normal" font-style="normal" fill="#231f20" >10</text>
<text x="310.20" y="512.30" font-size="9.4" text-anchor="end" font-weight="normal" font-style="normal" fill="#231f20" letter-spacing="0.2">SMC1</text>
<line x1="331.20" y1="527.50" x2="336.00" y2="527.50" stroke="#111" stroke-width="1.2" />
<line x1="331.20" y1="516.50" x2="336.00" y2="516.50" stroke="#111" stroke-width="1.2" />
<text x="326.40" y="530.70" font-size="9.0" text-anchor="end" font-weight="normal" font-style="normal" fill="#231f20" >0</text>
<text x="326.40" y="520.50" font-size="9.0" text-anchor="end" font-weight="normal" font-style="normal" fill="#231f20" >10</text>
<text x="310.20" y="529.00" font-size="9.4" text-anchor="end" font-weight="normal" font-style="normal" fill="#231f20" letter-spacing="0.2">YY1</text>
<text x="401.00" y="445.60" font-size="12.7" text-anchor="start" font-weight="normal" font-style="italic" fill="#231f20" >Slc4a8</text>
<text x="368.40" y="455.70" font-size="9.4" text-anchor="start" font-weight="normal" font-style="normal" fill="#231f20" >10kb</text>
<line x1="391.30" y1="454.00" x2="449.00" y2="454.00" stroke="#111" stroke-width="1.0" />
<line x1="391.30" y1="451.50" x2="391.30" y2="456.50" stroke="#111" stroke-width="1.0" />
<line x1="449.00" y1="451.50" x2="449.00" y2="456.50" stroke="#111" stroke-width="1.0" />
<text x="451.30" y="455.70" font-size="9.6" text-anchor="start" font-weight="normal" font-style="normal" fill="#231f20" >mm10</text>
<line x1="336.50" y1="476.70" x2="503.50" y2="476.70" stroke="#f4b2c2" stroke-width="1.3" />
<path d="M336.5,476.4 L336.5,476.2 337.0,476.2 337.5,476.2 338.0,476.2 338.5,476.2 339.0,476.2 339.5,476.3 340.0,476.2 340.5,476.1 341.0,475.9 341.5,475.8 342.0,475.7 342.5,475.7 343.0,475.7 343.5,475.7 344.0,475.9 344.5,475.8 345.0,475.1 345.5,474.3 346.0,473.6 346.5,473.4 347.0,473.8 347.5,474.6 348.0,475.4 348.5,475.8 349.0,475.9 349.5,476.0 350.0,476.1 350.5,476.2 351.0,476.1 351.5,476.0 352.0,475.9 352.5,475.9 353.0,475.8 353.5,475.9 354.0,475.9 354.5,476.0 355.0,476.1 355.5,476.2 356.0,476.2 356.5,476.2 357.0,476.2 357.5,476.1 358.0,476.1 358.5,476.1 359.0,476.2 359.5,476.2 360.0,476.3 360.5,476.3 361.0,476.3 361.5,476.3 362.0,476.2 362.5,476.1 363.0,476.0 363.5,476.0 364.0,475.9 364.5,476.0 365.0,476.0 365.5,476.1 366.0,476.2 366.5,476.3 367.0,476.3 367.5,476.2 368.0,476.2 368.5,476.1 369.0,476.1 369.5,476.1 370.0,475.9 370.5,475.7 371.0,475.6 371.5,475.5 372.0,475.6 372.5,475.7 373.0,475.9 373.5,475.8 374.0,475.7 374.5,475.7 375.0,475.9 375.5,476.1 376.0,476.2 376.5,476.1 377.0,476.0 377.5,476.0 378.0,475.9 378.5,475.9 379.0,475.9 379.5,475.9 380.0,475.7 380.5,475.5 381.0,475.4 381.5,475.5 382.0,475.7 382.5,475.9 383.0,476.1 383.5,476.0 384.0,476.0 384.5,476.1 385.0,476.1 385.5,476.2 386.0,476.3 386.5,476.3 387.0,476.3 387.5,476.3 388.0,476.1 388.5,476.0 389.0,476.0 389.5,476.1 390.0,476.2 390.5,476.3 391.0,476.4 391.5,476.4 392.0,476.3 392.5,476.2 393.0,476.0 393.5,475.8 394.0,475.7 394.5,475.8 395.0,475.9 395.5,476.1 396.0,476.2 396.5,476.2 397.0,476.1 397.5,476.1 398.0,476.1 398.5,476.1 399.0,476.2 399.5,476.3 400.0,476.3 400.5,476.1 401.0,476.0 401.5,475.8 402.0,475.6 402.5,475.5 403.0,475.5 403.5,475.6 404.0,475.8 404.5,476.0 405.0,476.1 405.5,476.2 406.0,476.1 406.5,476.0 407.0,475.9 407.5,475.9 408.0,475.8 408.5,475.8 409.0,475.9 409.5,476.0 410.0,476.1 410.5,476.1 411.0,476.0 411.5,475.9 412.0,475.9 412.5,475.9 413.0,475.7 413.5,475.5 414.0,475.4 414.5,475.5 415.0,475.7 415.5,475.9 416.0,476.0 416.5,476.1 417.0,476.1 417.5,476.0 418.0,475.9 418.5,476.0 419.0,476.2 419.5,476.3 420.0,476.4 420.5,476.4 421.0,476.3 421.5,476.2 422.0,476.2 422.5,476.1 423.0,476.1 423.5,476.2 424.0,476.2 424.5,476.0 425.0,475.9 425.5,475.7 426.0,475.6 426.5,475.5 427.0,475.6 427.5,475.7 428.0,475.8 428.5,476.0 429.0,476.2 429.5,476.3 430.0,476.3 430.5,476.3 431.0,476.2 431.5,476.1 432.0,476.1 432.5,476.1 433.0,476.2 433.5,476.3 435.5,476.3 436.0,476.3 436.5,476.2 437.0,476.1 437.5,476.1 438.0,476.0 438.5,476.1 439.0,476.2 439.5,476.2 440.0,476.3 440.5,476.2 441.0,476.1 441.5,476.0 442.0,475.9 442.5,475.7 443.0,475.6 443.5,475.5 444.0,475.5 444.5,475.6 445.0,475.7 445.5,475.8 446.0,476.0 446.5,476.1 447.0,476.1 447.5,476.2 448.0,476.2 448.5,476.2 449.0,476.0 449.5,475.8 450.0,475.7 450.5,475.6 451.0,475.6 451.5,475.8 452.0,475.8 452.5,476.0 453.0,476.1 453.5,476.1 454.0,476.0 454.5,476.0 455.0,476.0 455.5,476.0 456.0,476.1 456.5,476.2 457.0,476.3 457.5,476.2 458.0,476.1 458.5,476.0 459.0,475.9 459.5,476.0 460.0,476.0 460.5,476.1 461.0,475.9 461.5,475.8 462.0,475.8 462.5,475.7 463.0,475.8 463.5,475.9 464.0,476.0 464.5,476.0 465.0,475.7 465.5,475.2 466.0,474.6 466.5,474.1 467.0,473.9 467.5,474.1 468.0,474.6 468.5,475.2 469.0,475.7 469.5,476.0 470.0,476.0 470.5,476.0 471.0,475.9 471.5,475.8 472.0,475.9 472.5,475.9 473.0,476.0 473.5,475.8 474.0,475.7 474.5,475.6 475.0,475.6 475.5,475.7 476.0,475.8 476.5,475.9 477.0,476.0 477.5,475.9 478.0,475.9 478.5,475.8 479.0,475.8 479.5,475.8 480.0,475.9 480.5,476.0 481.0,476.1 481.5,476.2 482.0,476.2 482.5,476.3 483.0,476.2 483.5,476.1 484.0,476.0 484.5,476.0 485.0,476.1 485.5,476.2 486.0,476.3 486.5,476.3 487.0,476.3 487.5,476.2 488.0,476.2 488.5,476.1 489.0,476.0 489.5,475.8 490.0,475.6 490.5,475.4 491.0,475.4 491.5,475.5 492.0,475.8 492.5,476.0 493.0,476.0 493.5,476.1 494.0,476.2 494.5,476.3 495.0,476.3 495.5,476.3 496.0,476.2 496.5,476.1 497.0,476.0 497.5,475.9 498.0,475.9 498.5,475.9 499.0,476.0 499.5,476.1 500.0,476.2 500.5,476.2 501.0,476.1 501.5,475.9 502.0,475.8 502.5,475.7 503.0,475.8 503.5,476.0 L503.5,476.4 Z " fill="#b8112c"/>
<line x1="336.50" y1="493.80" x2="503.50" y2="493.80" stroke="#f4b2c2" stroke-width="1.3" />
<path d="M336.5,493.5 L336.5,493.1 337.0,493.0 337.5,493.0 338.0,493.1 338.5,493.2 339.0,493.3 339.5,493.4 340.0,493.4 340.5,493.4 341.0,493.3 341.5,493.2 342.0,493.2 342.5,493.1 343.0,493.1 343.5,493.1 344.0,493.0 344.5,492.6 345.0,492.2 345.5,491.8 346.0,491.6 346.5,491.5 347.0,491.7 347.5,492.0 348.0,492.4 348.5,492.8 349.0,493.1 349.5,493.0 350.0,493.0 350.5,493.0 351.0,493.0 351.5,493.0 352.0,493.1 352.5,493.2 353.0,493.1 353.5,493.0 354.0,492.8 354.5,492.7 355.0,492.6 355.5,492.6 356.0,492.7 356.5,492.8 357.0,493.0 357.5,493.2 358.0,493.3 358.5,493.2 359.0,493.3 359.5,493.3 360.0,493.4 360.5,493.3 361.0,493.2 361.5,493.1 362.0,493.0 362.5,493.0 363.0,492.9 363.5,492.9 364.0,493.0 364.5,493.0 365.0,493.0 365.5,492.8 366.0,492.6 366.5,492.5 367.0,492.6 367.5,492.8 368.0,493.0 368.5,493.2 369.0,493.3 369.5,493.2 370.0,493.2 370.5,493.1 371.0,493.0 371.5,493.0 372.0,493.1 372.5,493.1 373.0,493.0 373.5,492.9 374.0,492.8 374.5,492.9 375.0,492.6 375.5,492.5 376.0,492.5 376.5,492.7 377.0,492.9 377.5,493.1 378.0,493.2 378.5,493.1 379.0,493.2 379.5,493.3 380.0,493.3 380.5,493.2 381.0,493.2 381.5,493.1 382.0,493.1 382.5,493.2 383.0,493.2 383.5,493.2 384.0,493.1 384.5,493.1 385.0,492.7 385.5,492.0 386.0,491.4 386.5,491.0 387.0,491.2 387.5,491.8 388.0,492.5 388.5,492.9 389.0,492.3 389.5,491.6 390.0,491.1 390.5,491.0 391.0,491.5 391.5,492.2 392.0,492.8 392.5,493.1 393.0,493.2 393.5,493.1 394.0,492.9 394.5,492.8 395.0,492.9 395.5,493.1 396.0,493.3 396.5,493.4 397.0,493.3 397.5,493.2 398.0,493.1 398.5,493.1 399.0,493.1 399.5,493.2 400.0,493.2 400.5,493.0 401.0,492.9 401.5,492.9 402.0,492.9 402.5,493.1 403.0,493.2 403.5,493.3 404.0,493.2 404.5,493.1 405.0,492.9 405.5,492.5 406.0,492.2 406.5,492.0 407.0,492.0 407.5,492.3 408.0,492.6 408.5,492.9 409.0,493.1 409.5,493.2 410.0,493.3 410.5,493.3 411.0,493.4 411.5,493.4 412.0,493.3 412.5,493.2 413.0,493.2 413.5,493.1 414.0,493.1 414.5,493.1 415.0,493.1 415.5,493.2 416.0,493.3 416.5,493.3 417.0,493.3 417.5,493.2 418.0,493.0 418.5,492.8 419.0,492.6 419.5,492.5 420.0,492.6 420.5,492.8 421.0,493.0 421.5,493.0 422.0,492.9 422.5,492.9 423.0,492.9 423.5,492.9 424.0,493.0 424.5,493.0 425.0,493.0 425.5,493.0 426.0,493.0 426.5,493.1 427.0,493.2 427.5,493.3 428.0,493.4 428.5,493.2 429.0,493.0 429.5,493.0 430.0,493.0 430.5,493.2 431.0,493.4 431.5,493.4 432.0,493.4 432.5,493.3 433.0,493.3 433.5,493.2 434.0,493.2 434.5,493.2 435.0,493.2 435.5,493.3 436.0,493.3 436.5,493.4 437.0,493.3 437.5,493.2 438.0,493.1 438.5,493.0 439.0,493.0 439.5,492.9 440.0,492.9 440.5,493.0 441.0,493.1 441.5,493.1 442.0,493.2 442.5,493.2 443.0,493.1 443.5,493.2 444.0,493.3 444.5,493.4 445.0,493.5 446.0,493.5 446.5,493.4 447.0,493.2 447.5,493.0 448.0,492.8 448.5,492.8 449.0,493.0 449.5,493.2 450.0,493.3 450.5,493.2 451.0,493.1 451.5,493.1 452.0,492.9 452.5,492.5 453.0,491.9 453.5,491.4 454.0,491.0 454.5,491.1 455.0,491.4 455.5,492.0 456.0,492.6 456.5,492.9 457.0,492.9 457.5,492.9 458.0,493.0 458.5,493.1 459.0,493.3 459.5,493.3 460.0,493.4 460.5,493.4 461.0,493.3 461.5,493.2 462.0,493.2 462.5,493.2 463.0,493.3 463.5,493.4 464.0,493.2 464.5,493.1 465.0,493.1 465.5,493.2 466.0,493.1 466.5,492.9 467.0,492.7 467.5,492.6 468.0,492.6 468.5,492.7 469.0,492.9 469.5,493.1 470.0,493.2 470.5,493.0 471.0,492.8 471.5,492.7 472.0,492.8 472.5,493.0 473.0,493.2 473.5,493.4 474.0,493.4 474.5,493.3 475.0,493.1 475.5,493.0 476.0,493.1 476.5,493.2 477.0,493.3 477.5,493.4 478.0,493.3 478.5,493.2 479.0,493.2 479.5,493.1 480.0,493.1 480.5,493.1 481.0,493.1 481.5,493.2 482.0,493.3 482.5,493.3 483.0,493.2 483.5,493.1 484.0,493.0 484.5,493.1 485.0,493.2 485.5,493.4 486.0,493.2 486.5,493.0 487.0,492.9 487.5,493.0 488.0,493.2 488.5,493.4 489.0,493.4 489.5,493.4 490.0,493.3 490.5,493.2 491.0,493.1 491.5,493.1 492.0,493.1 492.5,493.2 493.0,493.2 493.5,493.1 494.0,492.9 494.5,492.5 495.0,491.9 495.5,491.4 496.0,491.0 496.5,491.1 497.0,491.4 497.5,492.0 498.0,492.6 498.5,493.0 499.0,493.1 499.5,493.2 500.0,493.2 500.5,493.3 501.0,493.2 501.5,493.2 502.0,493.2 502.5,493.3 503.0,493.3 503.5,493.4 L503.5,493.5 Z " fill="#b8112c"/>
<line x1="336.50" y1="510.90" x2="503.50" y2="510.90" stroke="#f4b2c2" stroke-width="1.3" />
<path d="M336.5,510.6 L336.5,510.4 337.0,510.3 337.5,510.2 338.0,510.1 338.5,510.1 339.0,510.1 339.5,510.2 340.0,510.1 340.5,510.0 341.0,509.9 341.5,509.8 342.0,509.9 342.5,509.9 343.0,510.0 343.5,509.9 344.0,509.9 344.5,509.2 345.0,508.2 345.5,507.2 346.0,506.4 346.5,506.2 347.0,506.7 347.5,507.6 348.0,508.6 348.5,509.5 349.0,509.9 349.5,510.0 350.0,509.9 350.5,509.9 351.0,510.0 351.5,510.2 352.0,510.3 352.5,510.4 353.0,510.3 353.5,510.2 354.0,510.0 354.5,509.9 355.0,509.8 355.5,509.8 356.0,510.0 356.5,510.0 357.0,509.9 357.5,509.8 358.0,509.8 358.5,509.8 359.0,509.9 359.5,510.0 360.0,510.2 360.5,510.3 361.0,510.2 361.5,510.0 362.0,509.9 362.5,509.9 363.0,510.0 363.5,510.2 364.0,510.4 364.5,510.3 365.0,510.3 365.5,510.2 366.0,510.2 366.5,510.2 367.0,510.1 367.5,510.0 368.0,509.9 368.5,509.8 369.0,509.8 369.5,509.8 370.0,509.9 370.5,510.1 371.0,510.2 371.5,510.3 372.0,510.3 372.5,510.2 373.0,510.1 373.5,510.1 374.0,510.1 374.5,510.2 375.0,510.3 375.5,510.2 376.0,510.1 376.5,510.0 377.0,510.0 377.5,510.1 378.0,510.2 378.5,510.3 379.0,510.4 379.5,510.3 380.0,510.2 380.5,510.1 381.0,510.1 381.5,510.1 382.0,509.9 382.5,509.8 383.0,509.7 383.5,509.7 384.0,509.8 384.5,509.9 385.0,510.1 385.5,510.2 386.0,510.2 386.5,510.1 387.0,509.9 387.5,509.8 388.0,509.8 388.5,509.9 389.0,510.0 389.5,510.2 390.0,510.3 390.5,510.2 391.0,510.1 391.5,510.1 392.0,510.1 392.5,510.2 393.0,510.2 393.5,510.3 394.0,510.4 394.5,510.3 395.0,510.1 395.5,510.0 396.0,510.0 396.5,510.2 397.0,510.2 397.5,510.2 398.0,510.1 398.5,510.1 399.0,510.2 399.5,510.2 400.0,510.3 400.5,510.4 401.0,510.4 401.5,510.2 402.0,510.1 402.5,510.0 403.0,510.0 403.5,510.2 404.0,510.2 404.5,510.0 405.0,509.9 405.5,509.9 406.0,509.9 406.5,510.0 407.0,510.2 407.5,510.3 408.0,510.4 408.5,510.5 409.0,510.4 409.5,510.3 410.0,510.2 410.5,510.1 411.0,510.2 411.5,510.2 412.0,510.3 412.5,510.2 413.0,510.2 413.5,510.2 414.0,510.3 414.5,510.3 415.0,510.4 415.5,510.4 416.0,510.5 416.5,510.5 417.0,510.4 417.5,510.2 418.0,510.0 418.5,509.9 419.0,509.7 419.5,509.6 420.0,509.7 420.5,509.9 421.0,510.1 421.5,510.3 422.0,510.3 422.5,510.3 423.0,510.3 423.5,510.3 424.0,510.3 424.5,510.2 425.0,510.0 425.5,509.8 426.0,509.8 426.5,509.9 427.0,510.2 427.5,510.4 428.0,510.5 428.5,510.5 429.0,510.5 429.5,510.5 430.0,510.4 430.5,510.4 431.0,510.4 431.5,510.3 432.0,510.3 432.5,510.4 433.0,510.4 433.5,510.4 434.0,510.3 434.5,510.2 435.0,510.1 435.5,510.0 436.0,510.0 436.5,510.1 437.0,510.2 437.5,510.0 438.0,509.9 438.5,509.8 439.0,509.7 439.5,509.7 440.0,509.8 440.5,509.9 441.0,510.1 441.5,510.2 442.0,510.3 442.5,510.4 443.0,510.5 443.5,510.4 444.0,510.3 444.5,510.3 445.0,510.3 445.5,510.3 446.0,510.3 446.5,510.4 447.0,510.5 447.5,510.5 448.0,510.5 448.5,510.5 449.0,510.4 449.5,510.3 450.0,510.2 450.5,510.2 451.0,510.2 451.5,510.2 452.0,510.0 452.5,509.6 453.0,509.0 453.5,508.5 454.0,508.1 454.5,508.2 455.0,508.5 455.5,509.1 456.0,509.7 456.5,510.1 457.0,510.2 457.5,510.3 458.0,510.3 458.5,510.4 459.0,510.4 459.5,510.3 460.0,510.3 460.5,510.4 461.0,510.4 461.5,510.3 462.0,510.1 462.5,509.9 463.0,509.8 463.5,509.8 464.0,510.0 464.5,510.2 465.0,510.3 465.5,510.1 466.0,509.9 466.5,509.9 467.0,510.0 467.5,509.7 468.0,509.4 468.5,509.1 469.0,509.1 469.5,509.3 470.0,509.6 470.5,510.0 471.0,510.0 471.5,509.9 472.0,509.9 472.5,510.0 473.0,510.2 473.5,510.3 474.0,510.4 474.5,510.3 475.0,510.3 475.5,510.3 476.0,510.3 476.5,510.4 477.0,510.4 477.5,510.5 478.0,510.5 478.5,510.6 479.0,510.5 479.5,510.3 480.0,510.2 480.5,510.0 481.0,510.0 481.5,510.2 482.0,510.3 482.5,510.3 483.0,510.2 483.5,510.1 484.0,510.1 484.5,510.1 485.0,510.1 485.5,510.2 486.0,510.3 486.5,510.4 487.0,510.3 487.5,510.4 488.0,510.4 488.5,510.2 489.0,510.0 489.5,509.9 490.0,509.9 490.5,510.0 491.0,510.2 491.5,510.4 492.0,510.4 492.5,510.4 493.0,510.3 493.5,510.2 494.0,510.1 494.5,509.8 495.0,509.3 495.5,508.9 496.0,508.6 496.5,508.7 497.0,509.0 497.5,509.4 498.0,509.9 498.5,510.2 499.0,510.3 499.5,510.2 500.0,510.2 500.5,510.3 501.0,510.4 501.5,510.4 502.0,510.3 502.5,510.3 503.0,510.3 503.5,510.3 L503.5,510.6 Z " fill="#b8112c"/>
<line x1="336.50" y1="527.60" x2="503.50" y2="527.60" stroke="#f4b2c2" stroke-width="1.3" />
<path d="M336.5,527.3 L336.5,526.9 337.0,526.8 337.5,526.8 338.0,526.7 338.5,526.6 339.0,526.6 339.5,526.5 340.0,526.4 340.5,526.4 341.0,526.0 341.5,525.4 342.0,524.7 342.5,523.9 343.0,523.2 343.5,522.5 344.0,522.0 344.5,521.8 345.0,521.9 345.5,522.3 346.0,522.9 346.5,523.6 347.0,524.4 347.5,525.1 348.0,525.8 348.5,526.1 349.0,525.5 349.5,525.0 350.0,524.8 350.5,525.0 351.0,525.5 351.5,526.1 352.0,526.6 352.5,526.9 353.0,526.9 353.5,527.0 354.0,527.0 354.5,526.9 355.0,526.9 355.5,526.9 356.0,527.0 356.5,527.1 357.0,527.0 357.5,526.8 358.0,526.7 358.5,526.7 359.0,526.7 359.5,526.9 360.0,527.0 360.5,527.0 361.0,526.9 361.5,526.8 362.0,526.8 362.5,526.8 363.0,526.9 363.5,527.0 364.0,527.2 364.5,527.2 365.0,527.1 365.5,527.0 366.0,527.0 366.5,527.0 367.0,527.0 367.5,527.1 368.0,527.1 368.5,527.1 369.0,527.0 369.5,526.9 370.0,526.8 370.5,526.8 371.0,526.8 371.5,526.9 372.0,526.9 372.5,527.0 373.0,527.0 373.5,527.0 374.0,526.9 374.5,526.9 375.0,526.9 375.5,526.9 376.0,527.0 376.5,527.0 377.0,527.1 377.5,526.9 378.0,526.7 378.5,526.6 379.0,526.6 379.5,526.7 380.0,526.3 380.5,526.0 381.0,525.8 381.5,525.8 382.0,526.1 382.5,526.4 383.0,526.6 383.5,526.7 384.0,526.9 384.5,527.1 385.0,527.1 385.5,527.2 386.0,527.0 386.5,526.7 387.0,526.5 387.5,526.5 388.0,526.8 388.5,527.0 389.0,526.9 389.5,526.7 390.0,526.7 390.5,526.7 391.0,526.8 391.5,527.0 392.0,527.1 392.5,527.2 393.0,527.3 393.5,527.2 394.0,527.1 394.5,527.0 395.0,526.9 395.5,526.9 396.0,527.0 396.5,527.1 397.0,527.0 397.5,526.9 398.0,526.8 398.5,526.8 399.0,526.8 399.5,526.9 400.0,527.0 400.5,527.1 401.0,527.2 401.5,527.3 402.0,527.3 402.5,527.2 403.0,527.0 403.5,526.8 404.0,526.7 404.5,526.8 405.0,527.0 405.5,527.1 406.0,527.2 406.5,527.1 407.0,527.1 407.5,527.1 408.0,527.0 408.5,526.8 409.0,526.5 409.5,526.1 410.0,525.9 410.5,525.8 411.0,526.0 411.5,526.3 412.0,526.5 412.5,526.5 413.0,526.6 413.5,526.7 414.0,526.8 414.5,526.6 415.0,526.5 415.5,526.6 416.0,526.7 416.5,526.9 417.0,527.1 417.5,526.9 418.0,526.8 418.5,526.7 419.0,526.7 419.5,526.7 420.0,526.8 420.5,527.0 421.0,527.1 421.5,527.2 422.0,527.1 422.5,527.0 423.0,526.9 423.5,527.0 424.0,527.1 424.5,527.1 425.0,527.1 425.5,527.0 426.0,526.8 426.5,526.6 427.0,526.3 427.5,526.1 428.0,525.9 428.5,525.8 429.0,525.8 429.5,526.0 430.0,526.2 430.5,526.5 431.0,526.7 431.5,526.7 432.0,526.7 432.5,526.7 433.0,526.8 433.5,526.9 434.0,527.0 434.5,527.1 435.0,527.2 435.5,527.2 436.0,527.0 436.5,526.9 437.0,526.7 437.5,526.6 438.0,526.6 438.5,526.7 439.0,526.9 439.5,527.0 440.0,527.0 440.5,526.9 441.0,526.8 441.5,526.6 442.0,526.6 442.5,526.5 443.0,526.6 443.5,526.6 444.0,526.7 444.5,526.9 445.0,526.9 445.5,526.9 446.0,526.6 446.5,526.2 447.0,525.8 447.5,525.4 448.0,525.0 448.5,524.8 449.0,524.8 449.5,525.1 450.0,525.4 450.5,525.9 451.0,526.3 451.5,526.7 452.0,526.9 452.5,526.9 453.0,527.0 453.5,527.0 454.0,526.9 454.5,526.9 455.0,526.8 455.5,526.8 456.0,526.9 456.5,526.9 457.0,527.0 457.5,527.1 458.0,527.0 458.5,527.0 459.0,526.9 459.5,526.8 460.0,526.8 460.5,526.8 461.0,526.8 461.5,526.9 462.0,526.8 462.5,526.6 463.0,526.5 463.5,526.3 464.0,525.7 464.5,525.2 465.0,524.8 465.5,524.9 466.0,525.2 466.5,525.8 467.0,526.4 467.5,526.8 468.0,526.9 468.5,527.0 469.0,527.0 469.5,527.1 470.0,527.1 470.5,527.1 471.0,527.1 471.5,527.0 472.0,527.0 472.5,527.0 473.0,527.0 473.5,527.1 474.0,527.1 474.5,526.9 475.0,526.7 475.5,526.6 476.0,526.5 476.5,526.5 477.0,526.5 477.5,526.7 478.0,526.8 478.5,527.0 479.0,527.1 479.5,527.1 480.0,527.0 480.5,527.0 481.0,527.0 481.5,527.0 482.0,527.1 482.5,527.1 483.0,527.2 483.5,527.2 484.0,527.2 484.5,527.2 485.0,527.1 485.5,527.0 486.0,526.9 486.5,526.9 487.0,526.9 487.5,527.0 488.0,527.1 488.5,527.2 489.0,527.2 489.5,527.2 490.0,527.1 490.5,527.1 491.0,527.0 491.5,527.0 492.0,526.9 492.5,526.9 493.0,527.0 493.5,526.9 494.0,526.8 494.5,526.7 495.0,526.7 495.5,526.7 496.0,526.8 496.5,526.9 497.0,526.7 497.5,526.7 498.0,526.7 498.5,526.7 499.0,526.8 499.5,526.8 500.0,526.5 500.5,526.0 501.0,525.6 501.5,525.3 502.0,525.4 502.5,525.7 503.0,526.1 503.5,526.6 L503.5,527.3 Z " fill="#b8112c"/>
<rect x="339.10" y="458.30" width="25.60" height="70.70" fill="none" stroke="#222" stroke-width="1.0"/>
<line x1="346.40" y1="536.50" x2="503.50" y2="536.50" stroke="#5b8dbd" stroke-width="1.0" />
<line x1="346.40" y1="533.70" x2="346.40" y2="539.30" stroke="#2d5f8f" stroke-width="1.3" />
<line x1="418.40" y1="533.70" x2="418.40" y2="539.30" stroke="#2d5f8f" stroke-width="1.3" />
<line x1="465.20" y1="533.70" x2="465.20" y2="539.30" stroke="#2d5f8f" stroke-width="1.3" />
<line x1="469.60" y1="533.70" x2="469.60" y2="539.30" stroke="#2d5f8f" stroke-width="1.3" />
<line x1="475.40" y1="533.70" x2="475.40" y2="539.30" stroke="#2d5f8f" stroke-width="1.3" />
<line x1="488.90" y1="533.70" x2="488.90" y2="539.30" stroke="#2d5f8f" stroke-width="1.3" />
<line x1="494.40" y1="533.70" x2="494.40" y2="539.30" stroke="#2d5f8f" stroke-width="1.3" />
<line x1="498.80" y1="533.70" x2="498.80" y2="539.30" stroke="#2d5f8f" stroke-width="1.3" />
<line x1="502.50" y1="533.70" x2="502.50" y2="539.30" stroke="#2d5f8f" stroke-width="1.3" />
<text x="79.80" y="570.60" font-size="9.5" text-anchor="end" font-weight="normal" font-style="normal" fill="#231f20" >chr10</text>
<text x="79.80" y="581.90" font-size="9.5" text-anchor="end" font-weight="normal" font-style="normal" fill="#231f20" >Scale</text>
<line x1="88.90" y1="581.50" x2="88.90" y2="658.30" stroke="#111" stroke-width="1.5" />
<line x1="84.10" y1="606.50" x2="88.90" y2="606.50" stroke="#111" stroke-width="1.2" />
<line x1="84.10" y1="595.50" x2="88.90" y2="595.50" stroke="#111" stroke-width="1.2" />
<text x="79.30" y="609.70" font-size="9.0" text-anchor="end" font-weight="normal" font-style="normal" fill="#231f20" >0</text>
<text x="79.30" y="599.50" font-size="9.0" text-anchor="end" font-weight="normal" font-style="normal" fill="#231f20" >10</text>
<text x="63.10" y="608.00" font-size="9.4" text-anchor="end" font-weight="normal" font-style="normal" fill="#231f20" letter-spacing="0.2">SMC3</text>
<line x1="84.10" y1="623.60" x2="88.90" y2="623.60" stroke="#111" stroke-width="1.2" />
<line x1="84.10" y1="612.60" x2="88.90" y2="612.60" stroke="#111" stroke-width="1.2" />
<text x="79.30" y="626.80" font-size="9.0" text-anchor="end" font-weight="normal" font-style="normal" fill="#231f20" >0</text>
<text x="79.30" y="616.60" font-size="9.0" text-anchor="end" font-weight="normal" font-style="normal" fill="#231f20" >10</text>
<text x="63.10" y="625.10" font-size="9.4" text-anchor="end" font-weight="normal" font-style="normal" fill="#231f20" letter-spacing="0.2">CTCF</text>
<line x1="84.10" y1="640.70" x2="88.90" y2="640.70" stroke="#111" stroke-width="1.2" />
<line x1="84.10" y1="629.70" x2="88.90" y2="629.70" stroke="#111" stroke-width="1.2" />
<text x="79.30" y="643.90" font-size="9.0" text-anchor="end" font-weight="normal" font-style="normal" fill="#231f20" >0</text>
<text x="79.30" y="633.70" font-size="9.0" text-anchor="end" font-weight="normal" font-style="normal" fill="#231f20" >10</text>
<text x="63.10" y="642.20" font-size="9.4" text-anchor="end" font-weight="normal" font-style="normal" fill="#231f20" letter-spacing="0.2">SMC1</text>
<line x1="84.10" y1="657.40" x2="88.90" y2="657.40" stroke="#111" stroke-width="1.2" />
<line x1="84.10" y1="646.40" x2="88.90" y2="646.40" stroke="#111" stroke-width="1.2" />
<text x="79.30" y="660.60" font-size="9.0" text-anchor="end" font-weight="normal" font-style="normal" fill="#231f20" >0</text>
<text x="79.30" y="650.40" font-size="9.0" text-anchor="end" font-weight="normal" font-style="normal" fill="#231f20" >10</text>
<text x="63.10" y="658.90" font-size="9.4" text-anchor="end" font-weight="normal" font-style="normal" fill="#231f20" letter-spacing="0.2">YY1</text>
<text x="164.30" y="576.80" font-size="12.7" text-anchor="start" font-weight="normal" font-style="italic" fill="#231f20" >Pfkl</text>
<text x="121.70" y="587.70" font-size="9.4" text-anchor="start" font-weight="normal" font-style="normal" fill="#231f20" >10kb</text>
<line x1="145.80" y1="585.40" x2="202.00" y2="585.40" stroke="#111" stroke-width="1.0" />
<line x1="145.80" y1="582.90" x2="145.80" y2="587.90" stroke="#111" stroke-width="1.0" />
<line x1="202.00" y1="582.90" x2="202.00" y2="587.90" stroke="#111" stroke-width="1.0" />
<text x="205.10" y="587.70" font-size="9.6" text-anchor="start" font-weight="normal" font-style="normal" fill="#231f20" >mm10</text>
<line x1="89.40" y1="606.40" x2="258.80" y2="606.40" stroke="#f4b2c2" stroke-width="1.3" />
<path d="M89.4,606.1 L89.4,604.5 89.9,604.2 90.4,604.1 90.9,604.4 91.4,604.8 91.9,604.8 92.4,604.6 92.9,604.7 93.4,604.9 93.9,605.3 94.4,605.4 94.9,605.4 95.4,605.5 95.9,605.8 96.4,605.9 96.9,606.0 97.4,606.0 97.9,606.0 98.4,606.0 98.9,605.9 99.4,605.8 99.9,605.6 100.4,605.4 100.9,605.5 101.4,605.7 101.9,605.9 102.4,606.0 102.9,606.0 103.4,605.9 103.9,605.8 104.4,605.8 104.9,605.8 105.4,605.9 105.9,605.9 106.4,605.9 106.9,605.9 107.4,605.8 107.9,605.8 108.4,605.9 108.9,605.9 109.4,605.8 109.9,605.6 110.4,605.5 110.9,605.5 111.4,605.6 111.9,605.8 112.4,606.0 112.9,606.0 113.4,605.9 113.9,605.8 114.4,605.8 114.9,605.7 115.4,605.7 115.9,605.7 116.4,605.8 116.9,605.8 117.4,605.9 117.9,606.0 118.4,606.0 118.9,605.9 119.4,605.8 119.9,605.8 120.4,605.8 120.9,605.8 121.4,605.8 121.9,605.9 122.4,606.0 122.9,606.0 123.4,605.9 123.9,605.8 124.4,605.6 124.9,605.4 125.4,605.4 125.9,605.6 126.4,605.8 126.9,605.9 127.4,606.0 127.9,606.0 128.4,605.9 128.9,605.7 129.4,605.5 129.9,605.4 130.4,605.5 130.9,605.8 131.4,605.7 131.9,605.5 132.4,605.4 132.9,605.2 133.4,605.1 133.9,605.1 134.4,605.3 134.9,605.5 135.4,605.5 135.9,605.5 136.4,605.6 136.9,605.7 137.4,605.5 137.9,605.3 138.4,605.2 138.9,605.2 139.4,605.3 139.9,605.5 140.4,605.7 140.9,605.7 141.4,605.5 141.9,605.5 142.4,605.4 142.9,605.4 143.4,605.5 143.9,605.5 144.4,605.7 144.9,605.8 145.4,605.9 145.9,605.9 146.4,605.7 146.9,605.6 147.4,605.5 147.9,605.6 148.4,605.7 148.9,605.8 149.4,605.9 149.9,605.9 150.4,605.9 150.9,605.8 151.4,605.8 151.9,605.8 152.4,605.8 152.9,605.6 153.4,605.4 153.9,605.3 154.4,605.3 154.9,605.3 155.4,605.2 155.9,605.3 156.4,605.4 156.9,605.6 157.4,605.7 157.9,605.8 158.4,605.8 158.9,605.8 159.4,605.9 159.9,605.9 160.4,605.8 160.9,605.7 161.4,605.5 161.9,605.4 162.4,605.4 162.9,605.5 163.4,605.7 163.9,605.8 164.4,605.9 164.9,605.7 165.4,605.6 165.9,605.4 166.4,605.4 166.9,605.4 167.4,605.5 167.9,605.7 168.4,605.8 168.9,605.8 169.4,605.8 169.9,605.7 170.4,605.7 170.9,605.7 171.4,605.8 171.9,605.7 172.4,605.6 172.9,605.6 173.4,605.6 173.9,605.7 174.4,605.8 174.9,605.8 175.4,605.9 175.9,606.0 176.4,606.0 176.9,606.0 177.4,605.9 177.9,605.8 178.4,605.7 178.9,605.7 179.4,605.8 179.9,605.9 180.4,606.0 180.9,606.0 181.4,606.0 181.9,605.9 182.4,605.9 182.9,605.8 183.4,605.8 183.9,605.8 184.4,605.8 184.9,605.9 185.4,605.9 185.9,605.8 186.4,605.6 186.9,605.4 187.4,605.3 187.9,605.4 188.4,605.6 188.9,605.8 189.4,605.9 189.9,606.0 190.4,606.0 190.9,605.8 191.4,605.7 191.9,605.7 192.4,605.8 192.9,606.0 193.4,606.0 193.9,606.0 194.4,606.0 194.9,605.9 195.4,605.8 195.9,605.7 196.4,605.6 196.9,605.5 197.4,605.5 197.9,605.6 198.4,605.7 198.9,605.8 199.4,605.9 199.9,605.7 200.4,605.4 200.9,605.3 201.4,605.4 201.9,605.7 202.4,605.9 202.9,605.8 203.4,605.6 203.9,605.3 204.4,605.2 204.9,605.3 205.4,605.6 205.9,605.8 206.4,606.0 206.9,606.1 207.4,606.0 207.9,605.9 208.4,605.8 208.9,605.6 209.4,605.4 209.9,605.3 210.4,605.3 210.9,605.4 211.4,605.6 211.9,605.8 212.4,605.7 212.9,605.5 213.4,605.5 213.9,605.6 214.4,605.8 214.9,606.0 215.4,606.0 215.9,606.0 216.4,605.9 216.9,605.8 217.4,605.7 217.9,605.6 218.4,605.5 218.9,605.5 219.4,605.6 219.9,605.4 220.4,604.9 220.9,604.5 221.4,604.2 221.9,604.1 222.4,604.4 222.9,604.8 223.4,605.3 223.9,605.6 224.4,605.7 224.9,605.6 225.4,605.4 225.9,605.4 226.4,605.4 226.9,605.5 227.4,605.7 227.9,605.8 228.4,606.0 228.9,605.9 229.4,605.6 229.9,605.3 230.4,605.2 230.9,605.4 231.4,605.7 231.9,605.9 232.4,605.8 232.9,605.7 233.4,605.6 233.9,605.5 234.4,605.4 234.9,605.4 235.4,605.4 235.9,605.5 236.4,605.6 236.9,605.8 237.4,605.9 237.9,606.0 238.4,605.9 238.9,605.7 239.4,605.4 239.9,605.3 240.4,605.3 240.9,605.6 241.4,605.4 241.9,605.2 242.4,605.1 242.9,605.1 243.4,605.3 243.9,605.6 244.4,605.6 244.9,605.6 245.4,605.6 245.9,605.7 246.4,605.7 246.9,605.6 247.4,605.6 247.9,605.5 248.4,605.5 248.9,605.6 249.4,605.7 249.9,605.8 250.4,605.8 250.9,605.9 251.4,605.9 251.9,605.8 252.4,605.7 252.9,605.7 253.4,605.6 253.9,605.6 254.4,605.7 254.9,605.7 255.4,605.7 255.9,605.6 256.4,605.6 256.9,605.6 257.4,605.7 257.9,605.8 258.4,605.9 L258.8,606.1 Z " fill="#b8112c"/>
<line x1="89.40" y1="623.50" x2="258.80" y2="623.50" stroke="#f4b2c2" stroke-width="1.3" />
<path d="M89.4,623.2 L89.4,622.9 89.9,622.6 90.4,622.2 90.9,621.7 91.4,621.3 91.9,621.2 92.4,621.3 92.9,621.7 93.4,622.2 93.9,622.6 94.4,622.7 94.9,622.4 95.4,622.1 95.9,622.0 96.4,622.1 96.9,622.3 97.4,622.5 97.9,622.8 98.4,622.8 98.9,622.7 99.4,622.7 99.9,622.7 100.4,622.7 100.9,622.8 101.4,622.9 101.9,623.0 102.4,622.9 102.9,622.7 103.4,622.5 103.9,622.4 104.4,622.4 104.9,622.6 105.4,622.8 105.9,622.9 106.4,622.8 106.9,622.7 107.4,622.7 107.9,622.7 108.4,622.8 108.9,622.9 109.4,623.0 109.9,623.1 110.4,623.1 110.9,623.1 111.4,623.0 111.9,623.0 112.4,622.9 112.9,622.9 113.4,622.9 113.9,622.9 114.4,623.0 114.9,623.0 115.4,623.1 115.9,623.0 116.4,623.0 116.9,622.9 117.4,622.8 117.9,622.7 118.4,622.6 118.9,622.3 119.4,622.2 119.9,622.2 120.4,622.4 120.9,622.6 121.4,622.8 121.9,623.0 122.4,622.8 122.9,622.6 123.4,622.4 123.9,622.3 124.4,622.4 124.9,622.6 125.4,622.8 125.9,623.0 126.4,623.0 126.9,623.0 127.4,622.9 127.9,622.9 128.4,622.9 128.9,623.0 129.4,623.0 129.9,622.9 130.4,622.9 130.9,622.9 131.4,622.9 131.9,622.9 132.4,623.0 132.9,623.0 133.4,622.9 133.9,622.8 134.4,622.7 134.9,622.6 135.4,622.5 135.9,622.5 136.4,622.5 136.9,622.5 137.4,622.6 137.9,622.8 138.4,622.9 138.9,622.8 139.4,622.6 139.9,622.4 140.4,622.4 140.9,622.4 141.4,622.6 141.9,622.8 142.4,622.9 142.9,622.8 143.4,622.6 143.9,622.5 144.4,622.4 144.9,622.3 145.4,622.3 145.9,622.4 146.4,622.5 146.9,622.6 147.4,622.8 147.9,622.9 148.4,622.8 148.9,622.7 149.4,622.5 149.9,622.4 150.4,622.5 150.9,622.5 151.4,622.7 151.9,622.9 152.4,623.0 152.9,622.9 153.4,622.7 153.9,622.6 154.4,622.6 154.9,622.8 155.4,622.9 155.9,623.1 156.4,623.1 156.9,623.1 157.4,623.0 157.9,622.8 158.4,622.7 158.9,622.7 159.4,622.7 159.9,622.8 160.4,623.0 160.9,623.1 161.4,623.2 162.4,623.1 162.9,623.1 163.4,623.0 163.9,622.9 164.4,622.9 164.9,622.9 165.4,623.0 165.9,623.0 166.4,623.0 166.9,622.9 167.4,622.9 167.9,622.9 168.4,623.0 168.9,623.1 169.4,623.1 169.9,623.0 170.4,622.8 170.9,622.7 171.4,622.5 171.9,622.4 172.4,622.4 172.9,622.5 173.4,622.7 173.9,622.8 174.4,623.0 174.9,623.1 175.4,623.1 175.9,622.9 176.4,622.8 176.9,622.6 177.4,622.5 177.9,622.5 178.4,622.6 178.9,622.7 179.4,622.9 179.9,623.0 180.4,623.1 180.9,623.1 181.4,623.0 181.9,622.8 182.4,622.5 182.9,622.5 183.4,622.6 183.9,622.9 184.4,623.1 184.9,623.1 185.4,623.0 185.9,622.9 186.4,622.8 186.9,622.6 187.4,622.6 187.9,622.6 188.4,622.7 188.9,622.9 189.4,623.0 189.9,623.0 190.4,622.9 190.9,622.7 191.4,622.6 191.9,622.7 192.4,622.8 192.9,622.6 193.4,622.5 193.9,622.4 194.4,622.4 194.9,622.6 195.4,622.8 195.9,622.9 196.4,623.0 196.9,622.9 197.4,622.8 197.9,622.8 198.4,622.9 198.9,622.9 199.4,622.7 199.9,622.6 200.4,622.6 200.9,622.7 201.4,622.9 201.9,623.0 202.4,623.1 202.9,623.1 203.4,623.0 203.9,622.9 204.4,622.8 204.9,622.8 205.4,622.7 205.9,622.8 206.4,622.9 206.9,622.8 207.4,622.7 207.9,622.6 208.4,622.5 208.9,622.4 209.4,622.5 209.9,622.5 210.4,622.7 210.9,622.8 211.4,622.9 211.9,623.0 212.4,623.1 212.9,623.0 213.4,623.0 213.9,622.9 214.4,622.9 214.9,622.9 215.4,623.0 215.9,623.1 216.4,622.9 216.9,622.9 217.4,622.9 217.9,623.0 218.4,623.1 218.9,623.1 219.4,623.0 219.9,622.9 220.4,622.7 220.9,622.6 221.4,622.5 221.9,622.4 222.4,622.4 222.9,622.5 223.4,622.6 223.9,622.7 224.4,622.8 224.9,622.8 225.4,622.3 225.9,621.6 226.4,621.0 226.9,620.7 227.4,621.0 227.9,621.6 228.4,622.3 228.9,622.6 229.4,622.4 229.9,622.4 230.4,622.4 230.9,621.9 231.4,621.2 231.9,620.7 232.4,620.8 232.9,621.3 233.4,622.0 233.9,622.6 234.4,622.8 234.9,622.8 235.4,622.6 235.9,622.5 236.4,622.5 236.9,622.6 237.4,622.8 237.9,622.7 238.4,622.6 238.9,622.5 239.4,622.4 239.9,622.4 240.4,622.5 240.9,622.6 241.4,622.7 241.9,622.8 242.4,622.9 242.9,623.0 243.4,622.9 243.9,622.9 244.4,622.8 244.9,622.8 245.4,622.8 245.9,622.8 246.4,622.9 246.9,623.0 247.4,623.0 247.9,623.1 248.4,623.1 248.9,623.1 249.4,622.9 249.9,622.7 250.4,622.6 250.9,622.6 251.4,622.7 251.9,622.9 252.4,623.1 252.9,623.1 253.4,623.0 253.9,622.9 254.4,622.8 254.9,622.7 255.4,622.6 255.9,622.7 256.4,622.8 256.9,623.0 257.4,623.1 257.9,623.1 L258.8,623.2 Z " fill="#b8112c"/>
<line x1="89.40" y1="640.60" x2="258.80" y2="640.60" stroke="#f4b2c2" stroke-width="1.3" />
<path d="M89.4,640.3 L89.4,639.9 89.9,639.9 90.4,639.6 90.9,639.2 91.4,638.9 91.9,638.8 92.4,638.9 92.9,639.2 93.4,639.6 93.9,639.9 94.4,639.9 94.9,640.0 95.4,640.1 95.9,640.1 96.4,639.9 96.9,639.8 97.4,639.7 97.9,639.7 98.4,639.8 98.9,639.9 99.4,640.0 99.9,639.8 100.4,639.7 100.9,639.6 101.4,639.6 101.9,639.6 102.4,639.6 102.9,639.7 103.4,639.8 103.9,639.9 104.4,640.0 104.9,640.1 105.4,640.1 105.9,640.1 106.4,640.1 106.9,639.9 107.4,639.7 107.9,639.5 108.4,639.5 108.9,639.6 109.4,639.7 109.9,639.9 110.4,639.9 110.9,639.9 111.4,639.9 111.9,639.9 112.4,640.0 112.9,640.1 113.4,640.1 113.9,640.2 114.4,640.1 114.9,640.0 115.4,639.9 115.9,639.8 116.4,639.8 116.9,639.7 117.4,639.8 117.9,639.8 118.4,639.9 118.9,640.0 119.4,640.0 119.9,639.9 120.4,639.8 120.9,639.8 121.4,639.9 121.9,639.9 122.4,640.0 122.9,640.1 123.4,639.9 123.9,639.7 124.4,639.6 124.9,639.6 125.4,639.8 125.9,639.9 126.4,640.1 126.9,640.2 127.4,640.2 127.9,640.1 128.4,640.0 128.9,639.9 129.4,639.8 129.9,639.8 130.4,639.8 130.9,639.8 131.4,639.9 131.9,640.0 132.4,640.1 132.9,640.2 133.4,640.2 133.9,640.0 134.4,639.8 134.9,639.6 135.4,639.6 135.9,639.8 136.4,640.0 136.9,640.0 137.4,639.9 137.9,639.9 138.4,639.9 138.9,640.0 139.4,640.1 139.9,640.1 140.4,640.1 140.9,640.0 141.4,640.0 141.9,640.1 142.4,640.1 142.9,640.2 143.4,640.2 143.9,640.3 144.4,640.2 144.9,640.0 145.4,639.8 145.9,639.6 146.4,639.5 146.9,639.6 147.4,639.8 147.9,640.0 148.4,640.2 148.9,640.2 149.4,640.2 149.9,640.0 150.4,639.9 150.9,639.7 151.4,639.6 151.9,639.6 152.4,639.7 152.9,639.8 153.4,640.0 153.9,639.9 154.4,639.9 154.9,639.9 155.4,640.0 155.9,640.0 156.4,640.1 156.9,640.0 157.4,639.9 157.9,639.8 158.4,639.6 158.9,639.4 159.4,639.3 159.9,639.4 160.4,639.6 160.9,639.8 161.4,640.0 161.9,639.8 162.4,639.7 162.9,639.6 163.4,639.5 163.9,639.6 164.4,639.7 164.9,639.9 165.4,640.0 165.9,640.1 166.4,640.0 166.9,640.0 167.4,640.0 167.9,640.1 168.4,640.2 168.9,640.2 169.4,640.2 169.9,640.1 170.4,640.0 170.9,639.8 171.4,639.7 171.9,639.6 172.4,639.6 172.9,639.7 173.4,639.9 173.9,640.1 174.4,640.2 174.9,640.2 175.4,640.2 175.9,640.1 176.4,640.0 176.9,639.9 177.4,640.0 177.9,640.1 178.4,640.2 178.9,640.1 179.4,639.9 179.9,639.7 180.4,639.6 180.9,639.6 181.4,639.8 181.9,640.0 182.4,640.0 182.9,639.9 183.4,639.8 183.9,639.8 184.4,639.9 184.9,640.0 185.4,640.1 185.9,640.0 186.4,639.9 186.9,639.8 187.4,639.7 187.9,639.8 188.4,639.8 188.9,640.0 189.4,640.1 189.9,640.0 190.4,639.9 190.9,639.9 191.4,639.8 191.9,639.7 192.4,639.8 192.9,639.8 193.4,639.9 193.9,640.0 194.4,640.0 194.9,639.8 195.4,639.7 195.9,639.7 196.4,639.8 196.9,639.9 197.4,640.1 197.9,640.2 198.4,640.3 198.9,640.3 199.4,640.2 199.9,640.1 200.4,640.0 200.9,639.9 201.4,640.0 201.9,640.0 202.4,640.2 202.9,640.2 203.4,640.2 203.9,640.1 204.4,639.9 204.9,639.7 205.4,639.5 205.9,639.6 206.4,639.8 206.9,640.0 207.4,640.2 207.9,640.2 208.4,640.1 208.9,640.0 209.4,639.8 209.9,639.7 210.4,639.6 210.9,639.5 211.4,639.6 211.9,639.7 212.4,639.9 212.9,640.0 213.4,640.0 213.9,640.0 214.4,639.9 214.9,639.9 215.4,639.9 215.9,639.9 216.4,640.0 216.9,640.0 217.4,639.9 217.9,639.9 218.4,639.9 218.9,639.9 219.4,639.9 219.9,639.9 220.4,639.9 220.9,639.8 221.4,639.5 221.9,638.9 222.4,638.2 222.9,637.6 223.4,637.3 223.9,637.4 224.4,638.0 224.9,638.7 225.4,639.3 225.9,639.8 226.4,639.9 226.9,639.9 227.4,639.9 227.9,639.7 228.4,639.6 228.9,639.6 229.4,639.6 229.9,639.6 230.4,639.7 230.9,639.8 231.4,639.9 231.9,640.0 232.4,640.0 232.9,639.8 233.4,639.6 233.9,639.5 234.4,639.4 234.9,639.5 235.4,639.7 235.9,639.9 236.4,640.0 236.9,640.2 237.4,640.2 237.9,640.1 238.4,639.9 238.9,639.7 239.4,639.5 239.9,639.5 240.4,639.7 240.9,639.9 241.4,640.1 241.9,640.1 242.4,639.9 242.9,639.7 243.4,639.5 243.9,639.3 244.4,639.3 244.9,639.4 245.4,639.7 245.9,639.9 246.4,639.9 246.9,639.9 247.4,639.9 247.9,639.9 248.4,640.0 248.9,640.0 249.4,640.1 249.9,640.1 250.4,640.0 250.9,639.8 251.4,639.7 251.9,639.6 252.4,639.5 252.9,639.4 253.4,639.5 253.9,639.5 254.4,639.7 254.9,639.7 255.4,639.6 255.9,639.5 256.4,639.5 256.9,639.7 257.4,639.8 257.9,640.0 258.4,640.1 L258.8,640.3 Z " fill="#b8112c"/>
<line x1="89.40" y1="657.30" x2="258.80" y2="657.30" stroke="#f4b2c2" stroke-width="1.3" />
<path d="M89.4,657.0 L89.4,654.0 89.9,653.6 90.4,653.5 90.9,653.9 91.4,654.5 91.9,655.2 92.4,655.8 92.9,655.6 93.4,655.2 93.9,655.0 94.4,655.1 94.9,655.4 95.4,655.9 95.9,656.3 96.4,656.7 96.9,656.7 97.4,656.7 97.9,656.7 98.4,656.7 98.9,656.7 99.4,656.8 99.9,656.8 100.4,656.7 100.9,656.6 101.4,656.6 101.9,656.5 102.4,656.4 102.9,656.2 103.4,656.0 103.9,655.9 104.4,655.7 104.9,655.6 105.4,655.5 105.9,655.5 106.4,655.5 106.9,655.6 107.4,655.8 107.9,655.9 108.4,656.1 108.9,656.3 109.4,656.4 109.9,656.3 110.4,656.2 110.9,656.3 111.4,656.4 111.9,656.5 112.4,656.7 112.9,656.8 113.4,656.8 113.9,656.7 114.4,656.6 114.9,656.4 115.4,656.3 115.9,656.3 116.4,656.0 116.9,655.7 117.4,655.6 117.9,655.5 118.4,655.6 118.9,655.7 119.4,656.0 119.9,656.3 120.4,656.5 120.9,656.7 121.4,656.8 121.9,656.8 122.4,656.8 122.9,656.8 123.4,656.7 123.9,656.6 124.4,656.6 124.9,656.6 125.4,656.6 125.9,656.6 126.4,656.7 126.9,656.8 127.4,656.7 127.9,656.7 128.4,656.7 128.9,656.8 129.4,656.8 129.9,656.9 130.4,656.9 130.9,656.9 131.9,656.9 132.4,656.9 132.9,656.8 133.4,656.7 133.9,656.7 134.4,656.8 134.9,656.7 135.4,656.5 135.9,656.3 136.4,656.1 136.9,656.0 137.4,656.1 137.9,656.3 138.4,656.5 138.9,656.6 139.4,656.6 139.9,656.7 140.4,656.8 140.9,656.9 141.4,656.9 141.9,656.9 142.4,656.9 142.9,656.8 143.4,656.7 143.9,656.6 144.4,656.5 144.9,656.4 145.4,656.4 145.9,656.5 146.4,656.7 146.9,656.8 147.4,656.9 147.9,656.8 148.4,656.7 148.9,656.6 149.4,656.5 149.9,656.4 150.4,656.4 150.9,656.5 151.4,656.6 151.9,656.7 152.4,656.8 152.9,656.8 153.4,656.7 153.9,656.7 154.4,656.7 154.9,656.7 155.4,656.7 155.9,656.7 156.4,656.8 156.9,656.8 157.4,656.8 157.9,656.8 158.4,656.7 158.9,656.6 159.4,656.5 159.9,656.4 160.4,656.4 160.9,656.4 161.4,656.4 161.9,656.5 162.4,656.6 162.9,656.7 163.4,656.8 163.9,656.8 164.4,656.8 164.9,656.7 165.4,656.5 165.9,656.3 166.4,656.0 166.9,655.8 167.4,655.6 167.9,655.5 168.4,655.5 168.9,655.7 169.4,655.9 169.9,656.2 170.4,656.4 170.9,656.2 171.4,656.1 171.9,656.2 172.4,656.3 172.9,656.5 173.4,656.7 173.9,656.8 174.4,656.8 174.9,656.6 175.4,656.5 175.9,656.3 176.4,656.3 176.9,656.4 177.4,656.5 177.9,656.7 178.4,656.5 178.9,656.3 179.4,656.2 179.9,656.3 180.4,656.4 180.9,656.6 181.4,656.8 181.9,656.9 182.4,656.8 182.9,656.6 183.4,656.4 183.9,656.3 184.4,656.2 184.9,656.3 185.4,656.5 185.9,656.6 186.4,656.5 186.9,656.4 187.4,656.3 187.9,656.4 188.4,656.5 188.9,656.7 189.4,656.8 189.9,656.9 190.4,656.9 190.9,656.8 191.4,656.8 191.9,656.7 192.4,656.7 192.9,656.7 193.4,656.7 193.9,656.6 194.4,656.5 194.9,656.5 195.4,656.4 195.9,656.5 196.4,656.6 196.9,656.7 197.4,656.5 197.9,656.4 198.4,656.4 198.9,656.4 199.4,656.4 199.9,656.5 200.4,656.6 200.9,656.6 201.4,656.5 201.9,656.6 202.4,656.7 202.9,656.8 203.4,656.8 203.9,656.6 204.4,656.5 204.9,656.3 205.4,656.2 205.9,656.1 206.4,656.2 206.9,656.3 207.4,656.5 207.9,656.5 208.4,656.3 208.9,656.3 209.4,656.4 209.9,656.6 210.4,656.8 210.9,656.8 211.4,656.8 211.9,656.7 212.4,656.7 212.9,656.7 213.4,656.8 213.9,656.8 214.4,656.7 214.9,656.6 215.4,656.5 215.9,656.5 216.4,656.5 216.9,656.5 217.4,656.6 217.9,656.7 218.4,656.6 218.9,656.4 219.4,656.3 219.9,656.1 220.4,655.9 220.9,655.8 221.4,655.6 221.9,655.2 222.4,653.6 222.9,651.5 223.4,649.4 223.9,648.0 224.4,647.8 224.9,649.0 225.4,651.0 225.9,653.2 226.4,654.9 226.9,655.4 227.4,655.1 227.9,655.0 228.4,655.1 228.9,655.3 229.4,655.6 229.9,655.9 230.4,656.3 230.9,656.5 231.4,656.7 231.9,656.7 232.4,656.6 232.9,656.5 233.4,656.4 233.9,656.3 234.4,656.4 234.9,656.5 235.4,656.6 235.9,656.7 236.4,656.8 236.9,656.8 237.4,656.7 237.9,656.7 238.4,656.6 238.9,656.6 239.4,656.6 239.9,656.6 240.4,656.6 240.9,656.5 241.4,656.2 241.9,655.6 242.4,654.9 242.9,654.3 243.4,654.0 243.9,654.1 244.4,654.7 244.9,655.4 245.4,656.0 245.9,656.5 246.4,656.6 246.9,656.6 247.4,656.7 247.9,656.7 248.4,656.7 248.9,656.6 249.4,656.5 249.9,656.5 250.4,656.5 250.9,656.6 251.4,656.7 251.9,656.8 252.4,656.8 252.9,656.9 253.4,656.9 253.9,656.9 254.4,656.8 254.9,656.6 255.4,656.5 255.9,656.5 256.4,656.5 256.9,656.6 257.4,656.8 257.9,656.9 258.4,656.9 L258.8,657.0 Z " fill="#b8112c"/>
<rect x="219.00" y="589.70" width="28.00" height="71.00" fill="none" stroke="#222" stroke-width="1.0"/>
<line x1="95.40" y1="665.00" x2="223.50" y2="665.00" stroke="#3d6d9c" stroke-width="1.0" />
<line x1="105.80" y1="662.60" x2="105.80" y2="667.40" stroke="#2d5f8f" stroke-width="1.3" />
<line x1="108.50" y1="662.60" x2="108.50" y2="667.40" stroke="#2d5f8f" stroke-width="1.3" />
<line x1="111.60" y1="662.60" x2="111.60" y2="667.40" stroke="#2d5f8f" stroke-width="1.3" />
<line x1="115.00" y1="662.60" x2="115.00" y2="667.40" stroke="#2d5f8f" stroke-width="1.3" />
<line x1="118.20" y1="662.60" x2="118.20" y2="667.40" stroke="#2d5f8f" stroke-width="1.3" />
<line x1="121.30" y1="662.60" x2="121.30" y2="667.40" stroke="#2d5f8f" stroke-width="1.3" />
<line x1="125.00" y1="662.60" x2="125.00" y2="667.40" stroke="#2d5f8f" stroke-width="1.3" />
<line x1="131.00" y1="662.60" x2="131.00" y2="667.40" stroke="#2d5f8f" stroke-width="1.3" />
<line x1="136.00" y1="662.60" x2="136.00" y2="667.40" stroke="#2d5f8f" stroke-width="1.3" />
<line x1="142.00" y1="662.60" x2="142.00" y2="667.40" stroke="#2d5f8f" stroke-width="1.3" />
<line x1="153.00" y1="662.60" x2="153.00" y2="667.40" stroke="#2d5f8f" stroke-width="1.3" />
<line x1="160.00" y1="662.60" x2="160.00" y2="667.40" stroke="#2d5f8f" stroke-width="1.3" />
<line x1="170.00" y1="662.60" x2="170.00" y2="667.40" stroke="#2d5f8f" stroke-width="1.3" />
<line x1="178.00" y1="662.60" x2="178.00" y2="667.40" stroke="#2d5f8f" stroke-width="1.3" />
<line x1="190.00" y1="662.60" x2="190.00" y2="667.40" stroke="#2d5f8f" stroke-width="1.3" />
<line x1="223.50" y1="662.60" x2="223.50" y2="667.40" stroke="#2d5f8f" stroke-width="1.3" />
<rect x="95.40" y="663.20" width="7.00" height="3.60" fill="#1b4f8f" />
<text x="320.00" y="570.40" font-size="9.5" text-anchor="end" font-weight="normal" font-style="normal" fill="#231f20" >chr13</text>
<text x="320.00" y="581.70" font-size="9.5" text-anchor="end" font-weight="normal" font-style="normal" fill="#231f20" >Scale</text>
<line x1="336.00" y1="585.30" x2="336.00" y2="662.10" stroke="#111" stroke-width="1.5" />
<line x1="331.20" y1="610.30" x2="336.00" y2="610.30" stroke="#111" stroke-width="1.2" />
<line x1="331.20" y1="599.30" x2="336.00" y2="599.30" stroke="#111" stroke-width="1.2" />
<text x="326.40" y="613.50" font-size="9.0" text-anchor="end" font-weight="normal" font-style="normal" fill="#231f20" >0</text>
<text x="326.40" y="603.30" font-size="9.0" text-anchor="end" font-weight="normal" font-style="normal" fill="#231f20" >10</text>
<text x="310.20" y="611.80" font-size="9.4" text-anchor="end" font-weight="normal" font-style="normal" fill="#231f20" letter-spacing="0.2">SMC3</text>
<line x1="331.20" y1="627.40" x2="336.00" y2="627.40" stroke="#111" stroke-width="1.2" />
<line x1="331.20" y1="616.40" x2="336.00" y2="616.40" stroke="#111" stroke-width="1.2" />
<text x="326.40" y="630.60" font-size="9.0" text-anchor="end" font-weight="normal" font-style="normal" fill="#231f20" >0</text>
<text x="326.40" y="620.40" font-size="9.0" text-anchor="end" font-weight="normal" font-style="normal" fill="#231f20" >10</text>
<text x="310.20" y="628.90" font-size="9.4" text-anchor="end" font-weight="normal" font-style="normal" fill="#231f20" letter-spacing="0.2">CTCF</text>
<line x1="331.20" y1="644.50" x2="336.00" y2="644.50" stroke="#111" stroke-width="1.2" />
<line x1="331.20" y1="633.50" x2="336.00" y2="633.50" stroke="#111" stroke-width="1.2" />
<text x="326.40" y="647.70" font-size="9.0" text-anchor="end" font-weight="normal" font-style="normal" fill="#231f20" >0</text>
<text x="326.40" y="637.50" font-size="9.0" text-anchor="end" font-weight="normal" font-style="normal" fill="#231f20" >10</text>
<text x="310.20" y="646.00" font-size="9.4" text-anchor="end" font-weight="normal" font-style="normal" fill="#231f20" letter-spacing="0.2">SMC1</text>
<line x1="331.20" y1="661.20" x2="336.00" y2="661.20" stroke="#111" stroke-width="1.2" />
<line x1="331.20" y1="650.20" x2="336.00" y2="650.20" stroke="#111" stroke-width="1.2" />
<text x="326.40" y="664.40" font-size="9.0" text-anchor="end" font-weight="normal" font-style="normal" fill="#231f20" >0</text>
<text x="326.40" y="654.20" font-size="9.0" text-anchor="end" font-weight="normal" font-style="normal" fill="#231f20" >10</text>
<text x="310.20" y="662.70" font-size="9.4" text-anchor="end" font-weight="normal" font-style="normal" fill="#231f20" letter-spacing="0.2">YY1</text>
<text x="406.20" y="576.80" font-size="12.7" text-anchor="start" font-weight="normal" font-style="italic" fill="#231f20" >Sox4</text>
<text x="369.60" y="589.00" font-size="9.4" text-anchor="start" font-weight="normal" font-style="normal" fill="#231f20" >10kb</text>
<line x1="391.30" y1="586.70" x2="449.00" y2="586.70" stroke="#111" stroke-width="1.0" />
<line x1="391.30" y1="584.20" x2="391.30" y2="589.20" stroke="#111" stroke-width="1.0" />
<line x1="449.00" y1="584.20" x2="449.00" y2="589.20" stroke="#111" stroke-width="1.0" />
<text x="450.10" y="589.00" font-size="9.6" text-anchor="start" font-weight="normal" font-style="normal" fill="#231f20" >mm10</text>
<line x1="336.50" y1="610.20" x2="503.50" y2="610.20" stroke="#f4b2c2" stroke-width="1.3" />
<path d="M336.5,609.9 L336.5,609.6 337.0,609.5 337.5,609.4 338.0,609.5 338.5,609.6 339.0,609.6 339.5,609.5 340.0,609.4 340.5,609.3 341.0,609.0 341.5,608.8 342.0,608.7 342.5,608.8 343.0,609.0 343.5,609.3 344.0,609.6 344.5,609.6 345.0,609.6 345.5,609.5 346.0,609.5 346.5,609.6 347.0,609.6 347.5,609.5 348.0,609.3 348.5,609.2 349.0,609.2 349.5,609.2 350.0,609.3 350.5,609.5 351.0,609.4 351.5,609.2 352.0,609.2 352.5,609.5 353.0,609.4 353.5,609.2 354.0,609.1 354.5,609.1 355.0,609.2 355.5,609.3 356.0,609.4 356.5,609.3 357.0,609.2 357.5,609.2 358.0,609.2 358.5,609.2 359.0,609.3 359.5,609.4 360.0,609.3 360.5,609.1 361.0,609.1 361.5,609.1 362.0,609.1 362.5,609.2 363.0,609.3 363.5,609.5 364.0,609.6 364.5,609.7 365.0,609.6 365.5,609.5 366.0,609.5 366.5,609.6 367.0,609.7 367.5,609.6 368.0,609.5 368.5,609.4 369.0,609.3 369.5,609.3 370.0,609.3 370.5,609.3 371.0,609.4 371.5,609.5 372.0,609.6 372.5,609.7 373.0,609.7 373.5,609.6 374.0,609.6 374.5,609.6 375.0,609.6 375.5,609.7 376.0,609.7 376.5,609.8 377.0,609.8 377.5,609.7 378.0,609.7 378.5,609.6 379.0,609.6 379.5,609.5 380.0,609.6 380.5,609.3 381.0,609.0 381.5,608.8 382.0,608.7 382.5,608.8 383.0,609.0 383.5,609.3 384.0,609.4 384.5,609.3 385.0,609.3 385.5,609.3 386.0,609.3 386.5,609.4 387.0,609.5 387.5,609.6 388.0,609.7 388.5,609.8 389.0,609.7 389.5,609.7 390.0,609.7 390.5,609.6 391.0,609.6 391.5,609.7 392.0,609.7 392.5,609.8 393.0,609.8 393.5,609.7 394.0,609.6 394.5,609.5 395.0,609.5 395.5,609.5 396.0,609.7 396.5,609.6 397.0,609.5 397.5,609.4 398.0,609.4 398.5,609.4 399.0,609.4 399.5,609.5 400.0,609.6 400.5,609.7 401.0,609.8 401.5,609.7 402.0,609.6 402.5,609.6 403.0,609.7 403.5,609.7 404.0,609.6 404.5,609.5 405.0,609.4 405.5,609.3 406.0,609.3 406.5,609.4 407.0,609.6 407.5,609.7 408.0,609.7 408.5,609.6 409.0,609.4 409.5,609.3 410.0,609.2 410.5,609.1 411.0,609.0 411.5,609.0 412.0,609.1 412.5,609.2 413.0,609.4 413.5,609.5 414.0,609.6 414.5,609.7 415.0,609.6 415.5,609.5 416.0,609.5 416.5,609.5 417.0,609.6 417.5,609.4 418.0,609.2 418.5,609.1 419.0,609.0 419.5,609.0 420.0,608.8 420.5,608.3 421.0,607.8 421.5,607.4 422.0,607.1 422.5,607.0 423.0,607.2 423.5,607.5 424.0,608.0 424.5,608.5 425.0,609.0 425.5,609.3 426.0,609.4 426.5,609.5 427.0,609.5 427.5,609.6 428.0,609.6 428.5,609.7 429.0,609.6 429.5,609.6 430.0,609.7 430.5,609.8 431.0,609.8 431.5,609.7 432.0,609.6 432.5,609.4 433.0,609.2 433.5,609.1 434.0,609.1 434.5,609.2 435.0,609.4 435.5,609.3 436.0,609.2 436.5,608.8 437.0,608.1 437.5,607.3 438.0,606.6 438.5,606.0 439.0,605.9 439.5,606.2 440.0,606.9 440.5,607.7 441.0,608.4 441.5,609.0 442.0,609.3 442.5,609.3 443.0,609.4 443.5,609.5 444.0,609.5 444.5,609.4 445.0,609.3 445.5,609.3 446.0,609.4 446.5,609.5 447.0,609.7 447.5,609.8 448.0,609.8 448.5,609.7 449.0,609.4 449.5,609.1 450.0,609.1 450.5,609.3 451.0,609.6 451.5,609.8 452.0,609.9 452.5,609.9 453.0,609.8 453.5,609.6 454.0,609.4 454.5,609.1 455.0,609.2 455.5,609.4 456.0,609.6 456.5,609.8 457.0,609.8 457.5,609.7 458.0,609.6 458.5,609.5 459.0,609.5 459.5,609.4 460.0,609.5 460.5,609.4 461.0,609.3 461.5,609.0 462.0,608.8 462.5,608.6 463.0,607.6 463.5,605.2 464.0,602.7 464.5,601.6 465.0,602.7 465.5,605.2 466.0,607.6 466.5,608.6 467.0,608.8 467.5,609.0 468.0,609.3 468.5,609.3 469.0,609.3 469.5,609.3 470.0,609.4 470.5,609.6 471.0,609.6 471.5,609.5 472.0,609.5 472.5,609.3 473.0,608.7 473.5,607.9 474.0,607.3 474.5,607.1 475.0,607.5 475.5,608.3 476.0,609.0 476.5,609.4 477.0,609.5 477.5,609.6 478.0,609.6 478.5,609.7 479.0,609.7 479.5,609.8 480.0,609.8 480.5,609.8 481.0,609.8 481.5,609.7 482.0,609.6 482.5,609.4 483.0,609.4 483.5,609.3 484.0,609.3 484.5,609.4 485.0,609.5 485.5,609.4 486.0,609.2 486.5,609.0 487.0,608.9 487.5,609.0 488.0,609.1 488.5,609.1 489.0,609.2 489.5,609.3 490.0,609.4 490.5,609.5 491.0,609.6 491.5,609.4 492.0,609.2 492.5,609.1 493.0,609.2 493.5,609.4 494.0,609.6 494.5,609.4 495.0,609.3 495.5,609.2 496.0,609.3 496.5,609.4 497.0,609.6 497.5,609.7 498.0,609.7 498.5,609.6 499.0,609.4 499.5,609.2 500.0,609.1 500.5,609.0 501.0,609.0 501.5,609.1 502.0,609.2 502.5,609.4 503.0,609.5 503.5,609.6 L503.5,609.9 Z " fill="#b8112c"/>
<line x1="336.50" y1="627.30" x2="503.50" y2="627.30" stroke="#f4b2c2" stroke-width="1.3" />
<path d="M336.5,627.0 L336.5,626.4 337.0,626.4 337.5,626.4 338.0,626.5 338.5,626.6 339.0,626.5 339.5,626.4 340.0,626.3 340.5,626.2 341.0,626.2 341.5,626.3 342.0,626.4 342.5,626.5 343.0,626.5 343.5,626.4 344.0,626.4 344.5,625.8 345.0,625.0 345.5,624.1 346.0,623.5 346.5,623.3 347.0,623.7 347.5,624.5 348.0,625.3 348.5,626.0 349.0,626.4 349.5,626.5 350.0,626.5 350.5,626.6 351.0,626.7 351.5,626.7 352.0,626.8 352.5,626.9 353.0,626.9 353.5,626.9 354.0,626.9 354.5,626.7 355.0,626.6 355.5,626.4 356.0,626.4 356.5,626.4 357.0,626.6 357.5,626.7 358.0,626.7 358.5,626.6 359.0,626.6 359.5,626.6 360.0,626.6 360.5,626.7 361.0,626.8 361.5,626.8 362.0,626.9 362.5,626.8 363.0,626.8 363.5,626.8 364.0,626.7 364.5,626.7 365.0,626.7 365.5,626.8 366.0,626.8 366.5,626.8 367.0,626.8 367.5,626.6 368.0,626.4 368.5,626.3 369.0,626.3 369.5,626.5 370.0,626.7 370.5,626.8 371.0,626.9 372.5,626.9 373.0,626.9 373.5,626.8 374.0,626.7 374.5,626.7 375.0,626.8 375.5,626.6 376.0,626.4 376.5,626.3 377.0,626.2 377.5,626.2 378.0,626.4 378.5,626.6 379.0,626.8 379.5,626.8 380.0,626.7 380.5,626.5 381.0,626.4 381.5,626.3 382.0,626.2 382.5,626.2 383.0,626.2 383.5,626.3 384.0,626.4 384.5,626.3 385.0,626.2 385.5,626.2 386.0,626.4 386.5,626.5 387.0,626.7 387.5,626.8 388.0,626.8 388.5,626.7 389.0,626.6 389.5,626.5 390.0,626.5 390.5,626.5 391.0,626.5 391.5,626.6 392.0,626.4 392.5,626.3 393.0,626.3 393.5,626.2 394.0,626.3 394.5,626.4 395.0,626.5 395.5,626.6 396.0,626.7 396.5,626.8 397.0,626.8 397.5,626.8 398.0,626.7 398.5,626.4 399.0,626.1 399.5,625.9 400.0,625.8 400.5,625.9 401.0,626.1 401.5,626.4 402.0,626.7 402.5,626.6 403.0,626.7 403.5,626.7 404.0,626.8 404.5,626.8 405.0,626.7 405.5,626.6 406.0,626.6 406.5,626.7 407.0,626.7 407.5,626.8 408.0,626.9 408.5,626.9 409.0,626.9 409.5,626.8 410.0,626.6 410.5,626.4 411.0,626.2 411.5,626.2 412.0,626.4 412.5,626.6 413.0,626.7 413.5,626.6 414.0,626.6 414.5,626.6 415.0,626.6 415.5,626.7 416.0,626.8 416.5,626.6 417.0,626.4 417.5,626.3 418.0,626.4 418.5,626.6 419.0,626.5 419.5,626.3 420.0,626.2 420.5,626.0 421.0,625.0 421.5,623.1 422.0,621.3 422.5,620.8 423.0,622.0 423.5,623.9 424.0,625.6 424.5,626.1 425.0,626.2 425.5,626.2 426.0,626.3 426.5,626.4 427.0,626.6 427.5,626.7 428.0,626.7 428.5,626.6 429.0,626.6 429.5,626.6 430.0,626.6 430.5,626.7 431.0,626.8 431.5,626.7 432.0,626.7 432.5,626.8 433.0,626.8 433.5,626.9 434.0,626.9 434.5,626.8 435.0,626.8 435.5,626.8 436.0,626.7 436.5,626.7 437.0,626.4 437.5,626.0 438.0,625.6 438.5,625.3 439.0,625.2 439.5,625.4 440.0,625.8 440.5,626.2 441.0,626.5 441.5,626.7 442.0,626.7 442.5,626.8 443.0,626.8 443.5,626.7 444.0,626.7 444.5,626.7 445.0,626.8 445.5,626.9 446.0,626.8 446.5,626.7 447.0,626.4 447.5,626.3 448.0,626.2 448.5,626.3 449.0,626.5 449.5,626.7 450.0,626.7 450.5,626.7 451.0,626.6 451.5,626.6 452.0,626.6 452.5,626.6 453.0,626.7 453.5,626.8 454.0,626.7 454.5,626.6 455.0,626.6 455.5,626.5 456.0,626.6 456.5,626.6 457.0,626.7 457.5,626.8 458.0,626.8 458.5,626.7 459.0,626.6 459.5,626.5 460.0,626.4 460.5,626.4 461.0,626.2 461.5,625.9 462.0,625.6 462.5,625.3 463.0,624.0 463.5,620.9 464.0,617.6 464.5,616.1 465.0,617.6 465.5,620.9 466.0,624.0 466.5,625.3 467.0,625.6 467.5,625.9 468.0,626.2 468.5,626.4 469.0,626.4 469.5,626.3 470.0,626.4 470.5,626.5 471.0,626.7 471.5,626.7 472.0,626.7 472.5,626.6 473.0,626.3 473.5,625.7 474.0,625.0 474.5,624.7 475.0,624.9 475.5,625.4 476.0,626.0 476.5,626.5 477.0,626.4 477.5,626.3 478.0,626.3 478.5,626.2 479.0,625.9 479.5,625.6 480.0,625.6 480.5,625.8 481.0,626.1 481.5,626.4 482.0,626.7 482.5,626.7 483.0,626.6 483.5,626.7 484.0,626.7 484.5,626.8 485.0,626.8 485.5,626.7 486.0,626.6 486.5,626.4 487.0,626.4 487.5,626.3 488.0,626.3 488.5,626.4 489.0,626.6 489.5,626.5 490.0,626.4 490.5,626.3 491.0,626.2 491.5,626.2 492.0,626.3 492.5,626.4 493.0,626.6 493.5,626.6 494.0,626.6 494.5,626.6 495.0,626.6 495.5,626.6 496.0,626.7 496.5,626.8 497.0,626.9 497.5,626.9 498.0,626.9 498.5,626.7 499.0,626.5 499.5,626.3 500.0,626.2 500.5,626.2 501.0,626.4 501.5,626.6 502.0,626.5 502.5,626.5 503.0,626.5 503.5,626.5 L503.5,627.0 Z " fill="#b8112c"/>
<line x1="336.50" y1="644.40" x2="503.50" y2="644.40" stroke="#f4b2c2" stroke-width="1.3" />
<path d="M336.5,644.1 L336.5,644.0 337.0,644.0 337.5,644.0 338.0,643.9 338.5,643.9 339.0,643.8 339.5,643.8 340.0,643.8 340.5,643.5 341.0,643.2 341.5,643.0 342.0,642.9 342.5,643.0 343.0,643.2 343.5,643.5 344.0,643.6 344.5,643.5 345.0,643.4 345.5,643.5 346.0,643.6 346.5,643.7 347.0,643.8 347.5,644.0 348.0,644.0 349.0,644.1 349.5,644.0 350.0,643.9 350.5,643.8 351.0,643.8 351.5,643.8 352.0,643.9 352.5,644.0 353.0,644.0 353.5,643.9 354.0,643.8 354.5,643.7 355.0,643.6 355.5,643.5 356.0,643.4 356.5,643.5 357.0,643.6 357.5,643.7 358.0,643.7 358.5,643.6 359.0,643.4 359.5,643.4 360.0,643.4 360.5,643.5 361.0,643.6 361.5,643.8 362.0,643.8 362.5,643.7 363.0,643.7 363.5,643.6 364.0,643.5 364.5,643.5 365.0,643.6 365.5,643.7 366.0,643.8 366.5,643.9 367.0,643.9 367.5,643.8 368.0,643.7 368.5,643.5 369.0,643.4 369.5,643.3 370.0,643.3 370.5,643.4 371.0,643.4 371.5,643.6 372.0,643.7 372.5,643.7 373.0,643.7 373.5,643.8 374.0,643.9 374.5,644.0 375.0,644.0 375.5,643.8 376.0,643.5 376.5,643.4 377.0,643.5 377.5,643.7 378.0,643.9 378.5,643.8 379.0,643.7 379.5,643.4 380.0,643.3 380.5,643.3 381.0,643.2 381.5,643.0 382.0,642.9 382.5,643.0 383.0,643.2 383.5,643.5 384.0,643.7 384.5,643.6 385.0,643.6 385.5,643.6 386.0,643.7 386.5,643.8 387.0,643.9 387.5,643.9 388.0,643.8 388.5,643.8 389.0,643.7 389.5,643.7 390.0,643.7 390.5,643.7 391.0,643.8 391.5,643.9 392.0,643.9 392.5,643.8 393.0,643.8 393.5,643.8 394.0,643.8 394.5,643.8 395.0,643.9 395.5,643.8 396.0,643.7 396.5,643.6 397.0,643.5 397.5,643.5 398.0,643.6 398.5,643.7 399.0,643.8 399.5,644.0 400.0,644.0 400.5,644.0 401.0,643.9 401.5,643.8 402.0,643.7 402.5,643.7 403.0,643.7 403.5,643.8 404.0,643.9 404.5,644.0 405.0,643.9 405.5,643.8 406.0,643.8 406.5,643.8 407.0,643.9 407.5,644.0 408.0,644.0 408.5,644.0 409.0,644.0 409.5,643.9 410.0,643.8 410.5,643.8 411.0,643.8 411.5,643.8 412.0,643.8 412.5,643.9 413.0,643.9 413.5,643.9 414.0,643.8 414.5,643.7 415.0,643.5 415.5,643.5 416.0,643.5 416.5,643.6 417.0,643.7 417.5,643.8 418.0,643.7 418.5,643.6 419.0,643.6 419.5,643.7 420.0,643.7 420.5,643.3 421.0,642.7 421.5,642.2 422.0,641.7 422.5,641.6 423.0,641.9 423.5,642.4 424.0,643.0 424.5,643.3 425.0,643.5 425.5,643.6 426.0,643.6 426.5,643.5 427.0,643.5 427.5,643.5 428.0,643.6 428.5,643.6 429.0,643.7 429.5,643.7 430.0,643.7 430.5,643.8 431.0,643.9 431.5,644.0 432.0,644.0 432.5,643.9 433.0,643.8 433.5,643.6 434.0,643.5 434.5,643.5 435.0,643.6 435.5,643.5 436.0,643.4 436.5,643.4 437.0,643.1 437.5,642.4 438.0,641.5 438.5,640.5 439.0,639.8 439.5,639.4 440.0,639.6 440.5,640.2 441.0,641.1 441.5,642.0 442.0,642.8 442.5,643.3 443.0,643.4 443.5,643.5 444.0,643.5 444.5,643.5 445.0,643.4 445.5,643.5 446.0,643.5 446.5,643.6 447.0,643.7 447.5,643.8 448.0,643.6 448.5,643.5 449.0,643.4 449.5,643.5 450.0,643.7 450.5,643.8 451.0,644.0 451.5,644.0 452.0,644.1 452.5,644.0 453.0,643.9 453.5,643.7 454.0,643.6 454.5,643.6 455.0,643.7 455.5,643.8 456.0,644.0 456.5,644.0 457.0,644.0 457.5,644.0 458.0,643.9 458.5,643.8 459.0,643.7 459.5,643.6 460.0,643.6 460.5,643.6 461.0,643.6 461.5,643.4 462.0,643.2 462.5,643.0 463.0,642.7 463.5,641.0 464.0,638.5 464.5,636.4 465.0,636.2 465.5,638.0 466.0,640.6 466.5,642.6 467.0,642.9 467.5,643.1 468.0,643.4 468.5,643.5 469.0,643.3 469.5,643.2 470.0,643.4 470.5,643.7 471.0,643.7 471.5,643.6 472.0,643.5 472.5,643.2 473.0,642.3 473.5,641.1 474.0,640.1 474.5,639.8 475.0,640.4 475.5,641.6 476.0,642.7 476.5,643.4 477.0,643.5 477.5,643.6 478.0,643.6 478.5,643.5 479.0,643.4 479.5,643.5 480.0,643.5 480.5,643.6 481.0,643.7 481.5,643.7 482.0,643.5 482.5,643.5 483.0,643.6 483.5,643.8 484.0,643.9 484.5,644.0 485.0,643.9 485.5,643.7 486.0,643.7 486.5,643.7 487.0,643.8 487.5,643.9 488.0,643.9 488.5,643.9 489.0,643.7 489.5,643.5 490.0,643.3 490.5,643.1 491.0,643.1 491.5,643.2 492.0,643.5 492.5,643.6 493.0,643.5 493.5,643.4 494.0,643.5 494.5,643.5 495.0,643.6 495.5,643.7 496.0,643.8 496.5,643.9 497.0,644.0 497.5,643.9 498.0,643.8 498.5,643.7 499.0,643.6 499.5,643.7 500.0,643.8 500.5,643.9 501.0,644.0 L503.5,644.1 Z " fill="#b8112c"/>
<line x1="336.50" y1="661.10" x2="503.50" y2="661.10" stroke="#f4b2c2" stroke-width="1.3" />
<path d="M336.5,660.8 L336.5,660.2 337.0,660.1 337.5,660.0 338.0,660.2 338.5,660.4 339.0,660.6 339.5,660.7 340.0,660.7 340.5,660.6 341.0,660.5 341.5,660.5 342.0,660.5 342.5,660.5 343.0,660.5 343.5,660.6 344.0,660.6 344.5,660.4 345.0,660.2 345.5,660.1 346.0,660.1 346.5,660.3 347.0,660.4 347.5,660.3 348.0,660.2 348.5,660.0 349.0,659.8 349.5,659.7 350.0,659.6 350.5,659.7 351.0,659.8 351.5,660.0 352.0,660.0 352.5,660.1 353.0,660.2 353.5,660.3 354.0,660.4 354.5,660.5 355.0,660.4 355.5,660.3 356.0,660.3 356.5,660.3 357.0,660.4 357.5,660.5 358.0,660.6 358.5,660.6 359.0,660.5 359.5,660.4 360.0,660.2 360.5,660.1 361.0,660.0 361.5,660.0 362.0,660.0 362.5,660.2 363.0,660.3 363.5,660.5 364.0,660.5 364.5,660.4 365.0,660.4 365.5,660.3 366.0,660.4 366.5,660.1 367.0,659.7 367.5,659.4 368.0,659.3 368.5,659.4 369.0,659.7 369.5,660.1 370.0,660.0 370.5,659.9 371.0,659.9 371.5,660.1 372.0,660.2 372.5,660.4 373.0,660.6 373.5,660.5 374.0,660.5 374.5,660.5 375.0,660.6 375.5,660.7 376.0,660.7 376.5,660.6 377.0,660.5 377.5,660.5 378.0,660.4 378.5,660.3 379.0,660.2 379.5,660.2 380.0,660.2 380.5,660.3 381.0,660.4 381.5,660.5 382.0,660.6 382.5,660.6 383.0,660.7 383.5,660.6 384.0,660.5 384.5,660.4 385.0,660.3 385.5,660.3 386.0,660.4 386.5,660.5 387.0,660.5 387.5,660.4 388.0,660.3 388.5,660.1 389.0,660.0 389.5,659.9 390.0,659.7 390.5,659.5 391.0,659.4 391.5,658.9 392.0,657.4 392.5,655.4 393.0,653.5 393.5,652.1 394.0,651.7 394.5,652.5 395.0,654.2 395.5,656.3 396.0,658.0 396.5,659.3 397.0,659.4 397.5,659.6 398.0,659.8 398.5,659.9 399.0,660.1 399.5,660.2 400.0,660.3 400.5,660.4 401.0,660.5 401.5,660.6 402.0,660.4 402.5,660.2 403.0,660.1 403.5,659.8 404.0,659.4 404.5,659.1 405.0,659.0 405.5,659.2 406.0,659.6 406.5,660.0 407.0,660.0 407.5,659.9 408.0,659.8 408.5,659.5 409.0,658.5 409.5,657.3 410.0,656.1 410.5,655.1 411.0,654.6 411.5,654.8 412.0,655.6 412.5,656.8 413.0,658.1 413.5,659.1 414.0,659.8 414.5,659.9 415.0,660.0 415.5,660.1 416.0,660.2 416.5,660.1 417.0,660.1 417.5,660.1 418.0,659.7 418.5,659.3 419.0,659.0 419.5,658.7 420.0,658.6 420.5,658.7 421.0,659.0 421.5,659.3 422.0,659.7 422.5,660.0 423.0,659.6 423.5,659.1 424.0,658.7 424.5,658.4 425.0,658.3 425.5,658.4 426.0,658.7 426.5,659.1 427.0,659.6 427.5,660.0 428.0,659.7 428.5,659.3 429.0,659.0 429.5,658.7 430.0,658.6 430.5,658.7 431.0,659.0 431.5,659.3 432.0,659.7 432.5,660.1 433.0,660.3 433.5,660.4 434.0,660.5 434.5,660.5 435.0,660.4 435.5,660.3 436.0,660.2 436.5,660.1 437.0,660.1 437.5,659.6 438.0,659.0 438.5,658.3 439.0,657.8 439.5,657.5 440.0,657.6 440.5,658.1 441.0,658.7 441.5,659.3 442.0,659.9 442.5,660.3 443.0,660.3 443.5,660.4 444.0,660.4 444.5,660.5 445.0,660.5 445.5,660.4 446.0,660.4 446.5,660.5 447.0,660.6 447.5,660.7 448.0,660.7 448.5,660.7 449.0,660.7 449.5,660.6 450.0,660.4 450.5,660.3 451.0,660.2 451.5,660.3 452.0,660.4 452.5,660.5 453.0,660.7 453.5,660.7 454.0,660.6 454.5,660.5 455.0,660.5 455.5,660.5 456.0,660.6 456.5,660.6 457.0,660.5 457.5,660.5 458.0,660.5 458.5,660.5 459.0,660.5 459.5,660.3 460.0,660.2 460.5,660.0 461.0,659.9 461.5,659.9 462.0,660.0 462.5,660.1 463.0,660.0 463.5,659.3 464.0,658.3 464.5,657.2 465.0,656.4 465.5,656.2 466.0,656.7 466.5,657.6 467.0,658.1 467.5,656.7 468.0,655.4 468.5,654.8 469.0,655.1 469.5,656.1 470.0,657.5 470.5,658.8 471.0,659.8 471.5,659.9 472.0,660.0 472.5,659.4 473.0,658.7 473.5,658.1 474.0,657.9 474.5,658.1 475.0,658.7 475.5,659.4 476.0,660.0 476.5,660.0 477.0,660.0 477.5,660.1 478.0,660.3 478.5,660.2 479.0,660.1 479.5,660.1 480.0,660.1 480.5,660.2 481.0,660.4 481.5,660.5 482.0,660.5 482.5,660.4 483.0,660.2 483.5,660.1 484.0,660.0 484.5,660.0 485.0,660.0 485.5,660.2 486.0,660.3 486.5,660.5 487.0,660.3 487.5,660.0 488.0,660.0 488.5,660.1 489.0,660.4 489.5,660.6 490.0,660.6 490.5,660.5 491.0,660.5 491.5,660.5 492.0,660.6 492.5,660.6 493.0,660.7 493.5,660.7 494.0,660.7 494.5,660.7 495.0,660.6 495.5,660.5 496.0,660.4 496.5,660.3 497.0,660.4 497.5,660.5 498.0,660.5 498.5,660.3 499.0,660.2 499.5,660.1 500.0,660.0 500.5,660.1 501.0,660.2 501.5,660.4 502.0,660.5 502.5,660.7 503.0,660.7 L503.5,660.8 Z " fill="#b8112c"/>
<rect x="456.40" y="594.50" width="28.60" height="69.00" fill="none" stroke="#222" stroke-width="1.0"/>
<rect x="414.10" y="665.80" width="16.00" height="2.60" fill="#1b4f80" />
<rect x="429.50" y="664.50" width="8.50" height="5.20" fill="#1b4f80" />
<rect x="437.50" y="665.80" width="3.00" height="2.60" fill="#1b4f80" />
<line x1="431.00" y1="667.10" x2="436.50" y2="667.10" stroke="#9cc4e4" stroke-width="0.9" stroke-dasharray="1.2 0.8"/>
<text x="11.60" y="710.70" font-size="17.5" text-anchor="start" font-weight="bold" font-style="normal" fill="#000" stroke="#000" stroke-width="0.5">F</text>
<text x="136.70" y="712.30" font-size="13.6" text-anchor="middle" font-weight="normal" font-style="normal" fill="#231f20" >LT-HSC</text>
<polyline points="88.80,743.50 89.30,743.50 89.80,743.50 90.30,743.50 90.80,743.50 91.30,743.50 91.80,743.50 92.30,743.50 92.80,743.50 93.30,743.50 93.80,743.50 94.30,743.50 94.80,743.50 95.30,743.50 95.80,743.50 96.30,743.50 96.80,743.50 97.30,743.50 97.80,743.50 98.30,743.50 98.80,743.50 99.30,743.50 99.80,743.50 100.30,743.50 100.80,743.50 101.30,743.50 101.80,743.50 102.30,743.50 102.80,743.50 103.30,743.50 103.80,743.50 104.30,743.50 104.80,743.50 105.30,743.50 105.80,743.50 106.30,743.49 106.80,743.41 107.30,743.04 107.80,741.78 108.30,738.73 108.80,733.80 109.30,729.00 109.80,727.56 110.30,729.38 110.80,732.99 111.30,736.92 111.80,740.04 112.30,741.97 112.80,742.93 113.30,743.32 113.80,743.45 114.30,743.49 114.80,743.50 115.30,743.50 115.80,743.50 116.30,743.50 116.80,743.50 117.30,743.50 117.80,743.50 118.30,743.50 118.80,743.50 119.30,743.50 119.80,743.50 120.30,743.50 120.80,743.50 121.30,743.50 121.80,743.50 122.30,743.50 122.80,743.50 123.30,743.50 123.80,743.50 124.30,743.50 124.80,743.50 125.30,743.50 125.80,743.50 126.30,743.50 126.80,743.50 127.30,743.50 127.80,743.50 128.30,743.50 128.80,743.50 129.30,743.50 129.80,743.50 130.30,743.50 130.80,743.50 131.30,743.50 131.80,743.50 132.30,743.50 132.80,743.50 133.30,743.50 133.80,743.50 134.30,743.50 134.80,743.50 135.30,743.50 135.80,743.50 136.30,743.50 136.80,743.50 137.30,743.50 137.80,743.50 138.30,743.50 138.80,743.50 139.30,743.50 139.80,743.50 140.30,743.50 140.80,743.50 141.30,743.50 141.80,743.50 142.30,743.50 142.80,743.50 143.30,743.50 143.80,743.50 144.30,743.50 144.80,743.50 145.30,743.50 145.80,743.50 146.30,743.50 146.80,743.50 147.30,743.50 147.80,743.50 148.30,743.50 148.80,743.50 149.30,743.50 149.80,743.50 150.30,743.50 150.80,743.50 151.30,743.50 151.80,743.50 152.30,743.50 152.80,743.50 153.30,743.50 153.80,743.50 154.30,743.50 154.80,743.50 155.30,743.50 155.80,743.50 156.30,743.50 156.80,743.50 157.30,743.50 157.80,743.50 158.30,743.50 158.80,743.50 159.30,743.50 159.80,743.50 160.30,743.50 160.80,743.50 161.30,743.50 161.80,743.50 162.30,743.50 162.80,743.50 163.30,743.50 163.80,743.50 164.30,743.50 164.80,743.50 165.30,743.50 165.80,743.50 166.30,743.50 166.80,743.50 167.30,743.50 167.80,743.50 168.30,743.50 168.80,743.50 169.30,743.50 169.80,743.50 170.30,743.50 170.80,743.50 171.30,743.50 171.80,743.50 172.30,743.50 172.80,743.50 173.30,743.50 173.80,743.50 174.30,743.50 174.80,743.50 175.30,743.50 175.80,743.50 176.30,743.50 176.80,743.50 177.30,743.50 177.80,743.50 178.30,743.50 178.80,743.50 179.30,743.50 179.80,743.50 180.30,743.50 180.80,743.50 181.30,743.50 181.80,743.50 182.30,743.50 182.80,743.50 183.30,743.50 183.80,743.50" stroke="#3aaa35" stroke-width="1.8" fill="none" stroke-linejoin="round"/>
<polyline points="88.80,767.19 89.30,767.19 89.80,767.18 90.30,767.18 90.80,767.18 91.30,767.18 91.80,767.17 92.30,767.17 92.80,767.16 93.30,767.16 93.80,767.16 94.30,767.15 94.80,767.14 95.30,767.14 95.80,767.13 96.30,767.12 96.80,767.11 97.30,767.10 97.80,767.09 98.30,767.08 98.80,767.07 99.30,767.05 99.80,767.04 100.30,767.02 100.80,767.00 101.30,766.98 101.80,766.96 102.30,766.94 102.80,766.91 103.30,766.89 103.80,766.86 104.30,766.82 104.80,766.79 105.30,766.74 105.80,766.67 106.30,766.57 106.80,766.42 107.30,766.21 107.80,765.88 108.30,765.43 108.80,764.81 109.30,764.03 109.80,763.08 110.30,762.10 110.80,760.96 111.30,760.03 111.80,759.20 112.30,758.73 112.80,758.75 113.30,758.80 113.80,758.75 114.30,759.14 114.80,759.48 115.30,759.70 115.80,760.28 116.30,760.68 116.80,761.26 117.30,761.71 117.80,762.29 118.30,762.61 118.80,762.95 119.30,763.38 119.80,763.62 120.30,763.88 120.80,764.23 121.30,764.22 121.80,764.38 122.30,764.53 122.80,764.66 123.30,764.50 123.80,764.61 124.30,764.57 124.80,764.53 125.30,764.57 125.80,764.51 126.30,764.63 126.80,764.53 127.30,764.61 127.80,764.49 128.30,764.51 128.80,764.70 129.30,764.69 129.80,764.68 130.30,764.50 130.80,764.64 131.30,764.60 131.80,764.69 132.30,764.65 132.80,764.69 133.30,764.71 133.80,764.67 134.30,764.68 134.80,764.62 135.30,764.70 135.80,764.66 136.30,764.69 136.80,764.68 137.30,764.78 137.80,764.93 138.30,764.78 138.80,764.78 139.30,764.82 139.80,764.93 140.30,764.92 140.80,765.07 141.30,764.95 141.80,765.05 142.30,765.15 142.80,765.23 143.30,765.07 143.80,765.07 144.30,765.32 144.80,765.19 145.30,765.31 145.80,765.41 146.30,765.41 146.80,765.33 147.30,765.34 147.80,765.58 148.30,765.47 148.80,765.65 149.30,765.52 149.80,765.65 150.30,765.55 150.80,765.56 151.30,765.71 151.80,765.63 152.30,765.83 152.80,765.92 153.30,765.83 153.80,766.01 154.30,766.00 154.80,765.98 155.30,765.97 155.80,766.11 156.30,766.17 156.80,766.01 157.30,766.17 157.80,766.05 158.30,766.10 158.80,766.25 159.30,766.26 159.80,766.28 160.30,766.28 160.80,766.32 161.30,766.36 161.80,766.37 162.30,766.32 162.80,766.45 163.30,766.50 163.80,766.46 164.30,766.60 164.80,766.61 165.30,766.47 165.80,766.60 166.30,766.62 166.80,766.77 167.30,766.69 167.80,766.67 168.30,766.83 168.80,766.71 169.30,766.72 169.80,766.88 170.30,766.76 170.80,766.82 171.30,766.78 171.80,766.88 172.30,766.81 172.80,766.82 173.30,767.00 173.80,767.01 174.30,766.87 174.80,766.82 175.30,767.00 175.80,766.97 176.30,766.94 176.80,767.02 177.30,767.02 177.80,767.04 178.30,767.04 178.80,767.00 179.30,767.08 179.80,767.07 180.30,766.98 180.80,767.17 181.30,767.05 181.80,767.01 182.30,767.12 182.80,767.15 183.30,767.02 183.80,767.16" stroke="#b8102e" stroke-width="1.8" fill="none" stroke-linejoin="round"/>
<polyline points="88.80,790.80 89.30,790.80 89.80,790.80 90.30,790.80 90.80,790.80 91.30,790.80 91.80,790.80 92.30,790.80 92.80,790.80 93.30,790.80 93.80,790.80 94.30,790.80 94.80,790.80 95.30,790.80 95.80,790.80 96.30,790.80 96.80,790.80 97.30,790.80 97.80,790.80 98.30,790.80 98.80,790.80 99.30,790.80 99.80,790.80 100.30,790.80 100.80,790.80 101.30,790.80 101.80,790.80 102.30,790.80 102.80,790.80 103.30,790.80 103.80,790.80 104.30,790.80 104.80,790.80 105.30,790.80 105.80,790.80 106.30,790.80 106.80,790.77 107.30,790.56 107.80,789.61 108.30,786.79 108.80,781.70 109.30,776.82 109.80,776.05 110.30,778.55 110.80,782.53 111.30,786.26 111.80,788.77 112.30,790.06 112.80,790.58 113.30,790.75 113.80,790.79 114.30,790.80 114.80,790.80 115.30,790.80 115.80,790.80 116.30,790.80 116.80,790.80 117.30,790.80 117.80,790.80 118.30,790.80 118.80,790.80 119.30,790.80 119.80,790.80 120.30,790.80 120.80,790.80 121.30,790.80 121.80,790.80 122.30,790.80 122.80,790.80 123.30,790.80 123.80,790.80 124.30,790.80 124.80,790.80 125.30,790.80 125.80,790.80 126.30,790.80 126.80,790.80 127.30,790.80 127.80,790.80 128.30,790.80 128.80,790.80 129.30,790.80 129.80,790.80 130.30,790.80 130.80,790.80 131.30,790.80 131.80,790.80 132.30,790.80 132.80,790.80 133.30,790.80 133.80,790.80 134.30,790.80 134.80,790.80 135.30,790.80 135.80,790.80 136.30,790.80 136.80,790.80 137.30,790.80 137.80,790.80 138.30,790.80 138.80,790.80 139.30,790.80 139.80,790.80 140.30,790.80 140.80,790.80 141.30,790.80 141.80,790.80 142.30,790.80 142.80,790.80 143.30,790.80 143.80,790.80 144.30,790.80 144.80,790.80 145.30,790.80 145.80,790.80 146.30,790.80 146.80,790.80 147.30,790.80 147.80,790.80 148.30,790.80 148.80,790.80 149.30,790.80 149.80,790.80 150.30,790.80 150.80,790.80 151.30,790.80 151.80,790.80 152.30,790.80 152.80,790.80 153.30,790.80 153.80,790.80 154.30,790.80 154.80,790.80 155.30,790.80 155.80,790.80 156.30,790.80 156.80,790.80 157.30,790.80 157.80,790.80 158.30,790.80 158.80,790.80 159.30,790.80 159.80,790.80 160.30,790.80 160.80,790.80 161.30,790.80 161.80,790.80 162.30,790.80 162.80,790.80 163.30,790.80 163.80,790.80 164.30,790.80 164.80,790.80 165.30,790.80 165.80,790.80 166.30,790.80 166.80,790.80 167.30,790.80 167.80,790.80 168.30,790.80 168.80,790.80 169.30,790.80 169.80,790.80 170.30,790.80 170.80,790.80 171.30,790.80 171.80,790.80 172.30,790.80 172.80,790.80 173.30,790.80 173.80,790.80 174.30,790.80 174.80,790.80 175.30,790.80 175.80,790.80 176.30,790.80 176.80,790.80 177.30,790.80 177.80,790.80 178.30,790.80 178.80,790.80 179.30,790.80 179.80,790.80 180.30,790.80 180.80,790.80 181.30,790.80 181.80,790.80 182.30,790.80 182.80,790.80 183.30,790.80 183.80,790.80" stroke="#1b3f7a" stroke-width="1.8" fill="none" stroke-linejoin="round"/>
<polyline points="107.60,815.50 108.10,815.50 108.60,815.49 109.10,815.23 109.60,812.83 110.10,805.62 110.60,801.88 111.10,803.34 111.60,806.12 112.10,809.13 112.60,810.74 113.10,811.38 113.60,809.89 114.10,807.91 114.60,806.99 115.10,806.87 115.60,808.03 116.10,808.97 116.60,810.49 117.10,811.69 117.60,812.85 118.10,814.04 118.60,814.37 119.10,814.35 119.60,813.55 120.10,812.78 120.60,811.93 121.10,810.15 121.60,809.25 122.10,808.06 122.60,808.09 123.10,808.30 123.60,808.16 124.10,809.13 124.60,809.81 125.10,810.05 125.60,810.78 126.10,811.68 126.60,811.69 127.10,812.22 127.60,812.28 128.10,812.61 128.60,812.16 129.10,812.29 129.60,812.11 130.10,812.19 130.60,812.60 131.10,812.61 131.60,812.80 132.10,812.89 132.60,813.03 133.10,812.99 133.60,812.93 134.10,813.42 134.60,813.16 135.10,813.51 135.60,813.67 136.10,813.52 136.60,813.87 137.10,814.12 137.60,814.17 138.10,814.17 138.60,814.69 139.10,814.27 139.60,814.95 140.10,814.62 140.60,814.66 141.10,815.25 141.60,814.86 142.10,815.19 142.60,815.12 143.10,815.52 143.60,815.54 144.10,815.50 144.60,815.07 145.10,815.56 145.60,815.24 146.10,815.16 146.60,815.17 147.10,815.54 147.60,815.55 148.10,815.45 148.60,815.31 149.10,815.72 149.60,815.34 150.10,815.31 150.60,815.28 151.10,815.77 151.60,815.23 152.10,815.74 152.60,815.59 153.10,815.43 153.60,815.25 154.10,815.60 154.60,815.24 155.10,815.47 155.60,815.61 156.10,815.61 156.60,815.69 157.10,815.75 157.60,815.71 158.10,815.39 158.60,815.20 159.10,815.70 159.60,815.77 160.10,815.21 160.60,815.48 161.10,815.56 161.60,815.66 162.10,815.44 162.60,815.30 163.10,815.53 163.60,815.55 164.10,815.77 164.60,815.25 165.10,815.78 165.60,815.50 166.10,815.30 166.60,815.72 167.10,815.36 167.60,815.23 168.10,815.42 168.60,815.33 169.10,815.74 169.60,815.54 170.10,815.71 170.60,815.29 171.10,815.62 171.60,815.53 172.10,815.20 172.60,815.29 173.10,815.21 173.60,815.53 174.10,815.51 174.60,815.36 175.10,815.51 175.60,815.63 176.10,815.56 176.60,815.71 177.10,815.57 177.60,815.21 178.10,815.22 178.60,815.42 179.10,815.50 179.60,815.60 180.10,815.75 180.60,815.64 181.10,815.33 181.60,815.28 182.10,815.58 182.60,815.33 183.10,815.34 183.60,815.38" stroke="#3aa8e0" stroke-width="1.8" fill="none" stroke-linejoin="round"/>
<line x1="109.60" y1="719.90" x2="109.60" y2="815.50" stroke="#333" stroke-width="0.9" />
<rect x="88.8" y="719.9" width="95.10" height="95.60" fill="none" stroke="#222" stroke-width="1.3"/>
<text transform="translate(84.8,741.80) scale(0.9,1)" font-size="10.8" text-anchor="end" fill="#231f20"><tspan font-style="italic">Yy1</tspan><tspan font-size="7" dy="-4">+/+</tspan></text>
<text transform="translate(84.8,766.20) scale(0.9,1)" font-size="10.8" text-anchor="end" fill="#231f20"><tspan font-style="italic">Yy1</tspan><tspan font-size="7" dy="-4">&#8722;/&#8722;</tspan></text>
<text transform="translate(84.8,790.80) scale(0.9,1)" font-size="10.8" text-anchor="end" fill="#231f20"><tspan font-style="italic">Smc3</tspan><tspan font-size="7" dy="-4">+/&#8722;</tspan></text>
<text transform="translate(84.8,814.80) scale(0.9,1)" font-size="10.8" text-anchor="end" fill="#231f20"><tspan font-style="italic">Yy1</tspan><tspan font-size="7" dy="-4">&#8722;/&#8722;</tspan><tspan font-style="italic" dy="4">Smc3</tspan><tspan font-size="7" dy="-4">+/&#8722;</tspan></text>
<text x="302.40" y="712.30" font-size="13.6" text-anchor="middle" font-weight="normal" font-style="normal" fill="#231f20" >LT-HSC</text>
<text transform="translate(221.50,765.8) rotate(-90) scale(0.64,1)" font-size="12.8" font-weight="bold" text-anchor="middle" fill="#231f20">ROS MFI</text>
<line x1="255.50" y1="717.40" x2="255.50" y2="815.20" stroke="#111" stroke-width="1.4" />
<line x1="255.50" y1="814.60" x2="350.00" y2="814.60" stroke="#111" stroke-width="1.4" />
<line x1="251.50" y1="814.60" x2="255.50" y2="814.60" stroke="#111" stroke-width="1.1" />
<text x="246.20" y="817.90" font-size="9.2" text-anchor="end" font-weight="normal" font-style="normal" fill="#231f20" >0</text>
<line x1="251.50" y1="791.25" x2="255.50" y2="791.25" stroke="#111" stroke-width="1.1" />
<text x="246.20" y="794.55" font-size="9.2" text-anchor="end" font-weight="normal" font-style="normal" fill="#231f20" >200</text>
<line x1="251.50" y1="767.90" x2="255.50" y2="767.90" stroke="#111" stroke-width="1.1" />
<text x="246.20" y="771.20" font-size="9.2" text-anchor="end" font-weight="normal" font-style="normal" fill="#231f20" >400</text>
<line x1="251.50" y1="744.55" x2="255.50" y2="744.55" stroke="#111" stroke-width="1.1" />
<text x="246.20" y="747.85" font-size="9.2" text-anchor="end" font-weight="normal" font-style="normal" fill="#231f20" >600</text>
<line x1="251.50" y1="721.20" x2="255.50" y2="721.20" stroke="#111" stroke-width="1.1" />
<text x="246.20" y="724.50" font-size="9.2" text-anchor="end" font-weight="normal" font-style="normal" fill="#231f20" >800</text>
<rect x="262.80" y="803.00" width="13.90" height="11.60" fill="#a6d8a2" />
<circle cx="264.90" cy="803.50" r="2.0" fill="#3aaa35" opacity="0.9"/>
<circle cx="269.80" cy="803.80" r="2.0" fill="#3aaa35" opacity="0.9"/>
<circle cx="275.30" cy="800.70" r="2.0" fill="#3aaa35" opacity="0.9"/>
<circle cx="275.30" cy="806.40" r="2.0" fill="#3aaa35" opacity="0.9"/>
<circle cx="269.20" cy="806.60" r="2.0" fill="#3aaa35" opacity="0.9"/>
<circle cx="264.60" cy="806.00" r="2.0" fill="#3aaa35" opacity="0.9"/>
<rect x="284.80" y="786.50" width="13.40" height="28.10" fill="#ee8f8f" />
<line x1="291.50" y1="772.70" x2="291.50" y2="798.60" stroke="#c8102e" stroke-width="1.2" />
<line x1="288.50" y1="772.70" x2="294.50" y2="772.70" stroke="#c8102e" stroke-width="1.2" />
<line x1="288.50" y1="798.60" x2="294.50" y2="798.60" stroke="#c8102e" stroke-width="1.2" />
<rect x="287.20" y="762.90" width="4.00" height="4.00" fill="#c8102e" />
<rect x="291.50" y="761.20" width="4.00" height="4.00" fill="#c8102e" />
<rect x="288.90" y="783.70" width="4.00" height="4.00" fill="#c8102e" />
<rect x="283.70" y="788.30" width="4.00" height="4.00" fill="#c8102e" />
<rect x="287.20" y="789.70" width="4.00" height="4.00" fill="#c8102e" />
<rect x="290.60" y="790.60" width="4.00" height="4.00" fill="#c8102e" />
<rect x="294.90" y="793.20" width="4.00" height="4.00" fill="#c8102e" />
<rect x="284.60" y="794.10" width="4.00" height="4.00" fill="#c8102e" />
<rect x="289.70" y="794.60" width="4.00" height="4.00" fill="#c8102e" />
<rect x="306.50" y="801.20" width="12.90" height="13.40" fill="#7f96bf" />
<path d="M307.20,804.30 L311.80,804.30 L309.50,800.30 Z" fill="#1b3f7a"/>
<path d="M310.70,803.30 L315.30,803.30 L313.00,799.30 Z" fill="#1b3f7a"/>
<path d="M314.20,804.30 L318.80,804.30 L316.50,800.30 Z" fill="#1b3f7a"/>
<path d="M308.70,807.80 L313.30,807.80 L311.00,803.80 Z" fill="#1b3f7a"/>
<path d="M312.70,807.30 L317.30,807.30 L315.00,803.30 Z" fill="#1b3f7a"/>
<path d="M310.70,809.80 L315.30,809.80 L313.00,805.80 Z" fill="#1b3f7a"/>
<rect x="328.10" y="785.20" width="13.00" height="29.40" fill="#a9d3f2" />
<line x1="334.60" y1="769.20" x2="334.60" y2="800.40" stroke="#3aa8e0" stroke-width="1.2" />
<line x1="331.60" y1="769.20" x2="337.60" y2="769.20" stroke="#3aa8e0" stroke-width="1.2" />
<line x1="331.60" y1="800.40" x2="337.60" y2="800.40" stroke="#3aa8e0" stroke-width="1.2" />
<path d="M331.90,750.50 L336.50,750.50 L334.20,754.50 Z" fill="#3aa8e0"/>
<path d="M327.90,789.20 L332.50,789.20 L330.20,793.20 Z" fill="#3aa8e0"/>
<path d="M332.30,788.70 L336.90,788.70 L334.60,792.70 Z" fill="#3aa8e0"/>
<path d="M336.50,789.20 L341.10,789.20 L338.80,793.20 Z" fill="#3aa8e0"/>
<path d="M330.20,794.20 L334.80,794.20 L332.50,798.20 Z" fill="#3aa8e0"/>
<path d="M334.20,795.20 L338.80,795.20 L336.50,799.20 Z" fill="#3aa8e0"/>
<path d="M332.30,798.70 L336.90,798.70 L334.60,802.70 Z" fill="#3aa8e0"/>
<polyline points="269.80,796.10 269.80,756.20 290.00,756.20 290.00,759.70" stroke="#111" stroke-width="1.4" fill="none" />
<text x="279.60" y="753.20" font-size="8.5" text-anchor="middle" font-weight="bold" font-style="normal" fill="#231f20" >*</text>
<polyline points="292.60,759.70 292.60,756.20 310.80,756.20 310.80,797.80" stroke="#111" stroke-width="1.4" fill="none" />
<text x="302.10" y="753.20" font-size="8.5" text-anchor="middle" font-weight="bold" font-style="normal" fill="#231f20" >*</text>
<polyline points="314.20,797.80 314.20,745.40 334.40,745.40 334.40,748.50" stroke="#111" stroke-width="1.4" fill="none" />
<text x="324.60" y="742.40" font-size="8.5" text-anchor="middle" font-weight="bold" font-style="normal" fill="#231f20" >**</text>
<polyline points="269.80,756.20 269.80,732.30 334.40,732.30 334.40,740.00" stroke="#111" stroke-width="1.4" fill="none" />
<text x="302.00" y="729.30" font-size="8.5" text-anchor="middle" font-weight="bold" font-style="normal" fill="#231f20" >*</text>
<text x="463.00" y="712.30" font-size="13.6" text-anchor="middle" font-weight="normal" font-style="normal" fill="#231f20" >ST-HSC</text>
<text transform="translate(383.20,765.8) rotate(-90) scale(0.64,1)" font-size="12.8" font-weight="bold" text-anchor="middle" fill="#231f20">ROS MFI</text>
<line x1="416.20" y1="717.40" x2="416.20" y2="815.20" stroke="#111" stroke-width="1.4" />
<line x1="416.20" y1="814.60" x2="510.70" y2="814.60" stroke="#111" stroke-width="1.4" />
<line x1="412.20" y1="814.60" x2="416.20" y2="814.60" stroke="#111" stroke-width="1.1" />
<text x="406.90" y="817.90" font-size="9.2" text-anchor="end" font-weight="normal" font-style="normal" fill="#231f20" >0</text>
<line x1="412.20" y1="791.25" x2="416.20" y2="791.25" stroke="#111" stroke-width="1.1" />
<text x="406.90" y="794.55" font-size="9.2" text-anchor="end" font-weight="normal" font-style="normal" fill="#231f20" >100</text>
<line x1="412.20" y1="767.90" x2="416.20" y2="767.90" stroke="#111" stroke-width="1.1" />
<text x="406.90" y="771.20" font-size="9.2" text-anchor="end" font-weight="normal" font-style="normal" fill="#231f20" >200</text>
<line x1="412.20" y1="744.55" x2="416.20" y2="744.55" stroke="#111" stroke-width="1.1" />
<text x="406.90" y="747.85" font-size="9.2" text-anchor="end" font-weight="normal" font-style="normal" fill="#231f20" >300</text>
<line x1="412.20" y1="721.20" x2="416.20" y2="721.20" stroke="#111" stroke-width="1.1" />
<text x="406.90" y="724.50" font-size="9.2" text-anchor="end" font-weight="normal" font-style="normal" fill="#231f20" >400</text>
<rect x="424.30" y="799.70" width="13.90" height="14.90" fill="#a6d8a2" />
<line x1="431.25" y1="786.70" x2="431.25" y2="804.90" stroke="#3aaa35" stroke-width="1.2" />
<line x1="428.25" y1="786.70" x2="434.25" y2="786.70" stroke="#3aaa35" stroke-width="1.2" />
<line x1="428.25" y1="804.90" x2="434.25" y2="804.90" stroke="#3aaa35" stroke-width="1.2" />
<circle cx="431.20" cy="787.10" r="2.0" fill="#3aaa35" opacity="0.9"/>
<circle cx="431.20" cy="791.60" r="2.0" fill="#3aaa35" opacity="0.9"/>
<circle cx="426.10" cy="795.70" r="2.0" fill="#3aaa35" opacity="0.9"/>
<circle cx="437.00" cy="798.80" r="2.0" fill="#3aaa35" opacity="0.9"/>
<circle cx="431.20" cy="804.40" r="2.0" fill="#3aaa35" opacity="0.9"/>
<rect x="446.80" y="777.20" width="13.00" height="37.40" fill="#ee8f8f" />
<rect x="450.50" y="770.00" width="4.00" height="4.00" fill="#c8102e" />
<rect x="445.70" y="774.30" width="4.00" height="4.00" fill="#c8102e" />
<rect x="448.30" y="773.50" width="4.00" height="4.00" fill="#c8102e" />
<rect x="452.60" y="773.50" width="4.00" height="4.00" fill="#c8102e" />
<rect x="456.40" y="775.20" width="4.00" height="4.00" fill="#c8102e" />
<rect x="450.00" y="778.70" width="4.00" height="4.00" fill="#c8102e" />
<rect x="449.20" y="782.10" width="4.00" height="4.00" fill="#c8102e" />
<rect x="450.00" y="790.80" width="4.00" height="4.00" fill="#c8102e" />
<rect x="468.10" y="798.80" width="12.80" height="15.80" fill="#7f96bf" />
<line x1="474.50" y1="786.40" x2="474.50" y2="806.10" stroke="#1b3f7a" stroke-width="1.2" />
<line x1="471.50" y1="786.40" x2="477.50" y2="786.40" stroke="#1b3f7a" stroke-width="1.2" />
<line x1="471.50" y1="806.10" x2="477.50" y2="806.10" stroke="#1b3f7a" stroke-width="1.2" />
<path d="M466.50,787.10 L471.10,787.10 L468.80,783.10 Z" fill="#1b3f7a"/>
<path d="M477.40,785.10 L482.00,785.10 L479.70,781.10 Z" fill="#1b3f7a"/>
<path d="M466.50,798.00 L471.10,798.00 L468.80,794.00 Z" fill="#1b3f7a"/>
<path d="M477.40,798.90 L482.00,798.90 L479.70,794.90 Z" fill="#1b3f7a"/>
<path d="M466.50,810.70 L471.10,810.70 L468.80,806.70 Z" fill="#1b3f7a"/>
<path d="M477.40,810.20 L482.00,810.20 L479.70,806.20 Z" fill="#1b3f7a"/>
<path d="M472.20,805.00 L476.80,805.00 L474.50,801.00 Z" fill="#1b3f7a"/>
<rect x="490.10" y="774.60" width="12.60" height="40.00" fill="#a9d3f2" />
<line x1="496.40" y1="762.20" x2="496.40" y2="784.10" stroke="#3aa8e0" stroke-width="1.2" />
<line x1="493.40" y1="762.20" x2="499.40" y2="762.20" stroke="#3aa8e0" stroke-width="1.2" />
<line x1="493.40" y1="784.10" x2="499.40" y2="784.10" stroke="#3aa8e0" stroke-width="1.2" />
<path d="M499.00,754.60 L503.60,754.60 L501.30,758.60 Z" fill="#3aa8e0"/>
<path d="M493.90,759.80 L498.50,759.80 L496.20,763.80 Z" fill="#3aa8e0"/>
<path d="M499.00,768.50 L503.60,768.50 L501.30,772.50 Z" fill="#3aa8e0"/>
<path d="M488.30,772.80 L492.90,772.80 L490.60,776.80 Z" fill="#3aa8e0"/>
<path d="M493.90,775.40 L498.50,775.40 L496.20,779.40 Z" fill="#3aa8e0"/>
<path d="M499.00,774.50 L503.60,774.50 L501.30,778.50 Z" fill="#3aa8e0"/>
<path d="M493.90,790.10 L498.50,790.10 L496.20,794.10 Z" fill="#3aa8e0"/>
<polyline points="431.80,783.30 431.80,755.60 451.20,755.60 451.20,768.60" stroke="#111" stroke-width="1.4" fill="none" />
<text x="441.10" y="752.60" font-size="8.5" text-anchor="middle" font-weight="bold" font-style="normal" fill="#231f20" >*</text>
<polyline points="454.30,768.60 454.30,755.60 471.90,755.60 471.90,778.90" stroke="#111" stroke-width="1.4" fill="none" />
<text x="463.60" y="752.60" font-size="8.5" text-anchor="middle" font-weight="bold" font-style="normal" fill="#231f20" >**</text>
<polyline points="475.70,778.90 475.70,751.20 496.50,751.20 496.50,752.50" stroke="#111" stroke-width="1.4" fill="none" />
<text x="485.80" y="748.20" font-size="8.5" text-anchor="middle" font-weight="bold" font-style="normal" fill="#231f20" >***</text>
<polyline points="431.80,755.60 431.80,734.70 496.50,734.70 496.50,739.00" stroke="#111" stroke-width="1.4" fill="none" />
<text x="463.80" y="731.70" font-size="8.5" text-anchor="middle" font-weight="bold" font-style="normal" fill="#231f20" >***</text>
<circle cx="120.2" cy="834.9" r="4.3" fill="#3aaa35"/>
<text x="129.40" y="838.30" font-size="9.6" text-anchor="start" font-weight="normal" font-style="normal" fill="#231f20" ><tspan font-style="italic">Yy1</tspan><tspan font-size="6.5" dy="-3.5">+/+</tspan><tspan dy="3.5">, n = 5</tspan></text>
<rect x="188.60" y="831.40" width="8.10" height="7.30" fill="#c8102e" />
<text x="202.90" y="838.30" font-size="9.6" text-anchor="start" font-weight="normal" font-style="normal" fill="#231f20" ><tspan font-style="italic">Yy1</tspan><tspan font-size="6.5" dy="-3.5">&#8722;/&#8722;</tspan><tspan dy="3.5">, n = 8</tspan></text>
<path d="M261,838.8 L269.2,838.8 L265.1,831.2 Z" fill="#1b3f7a"/>
<text x="274.50" y="838.30" font-size="9.6" text-anchor="start" font-weight="normal" font-style="normal" fill="#231f20" ><tspan font-style="italic">Smc3</tspan><tspan font-size="6.5" dy="-3.5">+/&#8722;</tspan><tspan dy="3.5">, n = 7</tspan></text>
<path d="M342.3,831.4 L351,831.4 L346.65,839 Z" fill="#3aa8e0"/>
<text x="356.30" y="838.30" font-size="9.6" text-anchor="start" font-weight="normal" font-style="normal" fill="#231f20" ><tspan font-style="italic">Yy1</tspan><tspan font-size="6.5" dy="-3.5">&#8722;/&#8722;</tspan><tspan font-style="italic" dy="3.5">Smc3</tspan><tspan font-size="6.5" dy="-3.5">+/&#8722;</tspan><tspan dy="3.5">, n = 8</tspan></text>
<text x="8.80" y="879.20" font-size="17.0" text-anchor="start" font-weight="bold" font-style="normal" fill="#000" stroke="#000" stroke-width="0.5">G</text>
<rect x="73.0" y="879.2" width="392.8" height="159.6" fill="#ebebeb" stroke="#1a1a1a" stroke-width="2.0"/>
<line x1="260.80" y1="879.20" x2="260.80" y2="1038.80" stroke="#1a1a1a" stroke-width="1.9" />
<text x="163.30" y="895.40" font-size="13.2" text-anchor="middle" font-weight="normal" font-style="normal" fill="#231f20" >WT HSCs</text>
<text x="186.00" y="911.70" font-size="9.5" text-anchor="middle" font-weight="normal" font-style="normal" fill="#231f20" >Metabolic gene</text>
<text x="186.00" y="922.70" font-size="9.5" text-anchor="middle" font-weight="normal" font-style="italic" fill="#231f20" >Hif1&#945; &amp; Hif3&#945;</text>
<text x="102.10" y="947.10" font-size="9.5" text-anchor="middle" font-weight="normal" font-style="normal" fill="#231f20" >YY1</text>
<circle cx="92.65" cy="960.50" r="6.2" fill="#acd8ee"/>
<path d="M89.86,954.92 C88.81,957.40 90.05,960.00 93.27,960.19 C96.06,960.38 97.24,962.05 97.49,964.34 A6.2,6.2 0 0 0 89.86,954.92 Z" fill="#f3b9d5"/>
<path d="M89.86,954.92 C88.81,957.40 90.05,960.00 93.27,960.19 C96.06,960.38 97.24,962.05 97.49,964.34" fill="none" stroke="#1a1a1a" stroke-width="1.4"/>
<circle cx="92.65" cy="960.50" r="6.2" fill="none" stroke="#1a1a1a" stroke-width="1.6"/>
<circle cx="110.00" cy="960.50" r="6.2" fill="#acd8ee"/>
<path d="M107.21,954.92 C106.16,957.40 107.40,960.00 110.62,960.19 C113.41,960.38 114.59,962.05 114.84,964.34 A6.2,6.2 0 0 0 107.21,954.92 Z" fill="#f3b9d5"/>
<path d="M107.21,954.92 C106.16,957.40 107.40,960.00 110.62,960.19 C113.41,960.38 114.59,962.05 114.84,964.34" fill="none" stroke="#1a1a1a" stroke-width="1.4"/>
<circle cx="110.00" cy="960.50" r="6.2" fill="none" stroke="#1a1a1a" stroke-width="1.6"/>
<line x1="102.70" y1="967.50" x2="102.70" y2="985.80" stroke="#111" stroke-width="1.5" />
<line x1="95.80" y1="985.80" x2="110.80" y2="985.80" stroke="#111" stroke-width="1.5" />
<line x1="84.40" y1="987.90" x2="84.40" y2="999.40" stroke="#111" stroke-width="1.2" />
<path d="M82.20,997.70 L86.60,997.70 L84.40,1002.90 Z" fill="#1a1a1a"/>
<text x="89.00" y="1000.80" font-size="10" text-anchor="start" font-weight="normal" font-style="normal" fill="#231f20" >SMC3</text>
<ellipse cx="105.00" cy="1010.60" rx="12.4" ry="3.2" fill="none" stroke="#6a2a8c" stroke-width="2.6"/>
<path d="M158,933.5 C166,945 172,956 176,966 C178,975 172,984 166,992 C158,1002 152.5,1008 153.5,1015 C155,1027 166,1031 180,1031 C194,1031 205,1027 206.5,1015 C207.5,1008 202,1002 194,992 C188,984 181,975 181,966 C184,954 192,942 200.2,930.6" fill="none" stroke="#1a1a1a" stroke-width="5.0" stroke-linecap="butt" stroke-linejoin="round"/>
<path d="M158,933.5 C166,945 172,956 176,966 C178,975 172,984 166,992 C158,1002 152.5,1008 153.5,1015 C155,1027 166,1031 180,1031 C194,1031 205,1027 206.5,1015 C207.5,1008 202,1002 194,992 C188,984 181,975 181,966 C184,954 192,942 200.2,930.6" fill="none" stroke="#f7f7f7" stroke-width="1.8" stroke-linecap="butt" stroke-linejoin="round"/>
<ellipse cx="181.20" cy="963.60" rx="18.6" ry="4.6" fill="none" stroke="#6a2a8c" stroke-width="2.6"/>
<circle cx="171.00" cy="960.30" r="5.3" fill="#acd8ee"/>
<path d="M168.62,955.53 C167.71,957.65 168.77,959.88 171.53,960.03 C173.91,960.19 174.92,961.62 175.13,963.59 A5.3,5.3 0 0 0 168.62,955.53 Z" fill="#f3b9d5"/>
<path d="M168.62,955.53 C167.71,957.65 168.77,959.88 171.53,960.03 C173.91,960.19 174.92,961.62 175.13,963.59" fill="none" stroke="#1a1a1a" stroke-width="1.4"/>
<circle cx="171.00" cy="960.30" r="5.3" fill="none" stroke="#1a1a1a" stroke-width="1.6"/>
<circle cx="184.70" cy="960.30" r="5.3" fill="#acd8ee"/>
<path d="M182.31,955.53 C181.41,957.65 182.47,959.88 185.23,960.03 C187.61,960.19 188.62,961.62 188.83,963.59 A5.3,5.3 0 0 0 182.31,955.53 Z" fill="#f3b9d5"/>
<path d="M182.31,955.53 C181.41,957.65 182.47,959.88 185.23,960.03 C187.61,960.19 188.62,961.62 188.83,963.59" fill="none" stroke="#1a1a1a" stroke-width="1.4"/>
<circle cx="184.70" cy="960.30" r="5.3" fill="none" stroke="#1a1a1a" stroke-width="1.6"/>
<path d="M168.50,974.30 L173.30,966.30 L182.90,966.30 L187.70,974.30 L182.90,982.30 L173.30,982.30 Z" fill="#e3001b" stroke="#b00010" stroke-width="0.6"/>
<text x="194.40" y="979.70" font-size="10" text-anchor="start" font-weight="normal" font-style="normal" fill="#231f20" >CTCF</text>
<path d="M183.2,946.2 L179.4,944.6 L186.6,934.0" fill="none" stroke="#1a1a1a" stroke-width="2.8" stroke-linejoin="miter"/>
<path d="M183.2,946.2 L179.4,944.6 L186.6,934.0" fill="none" stroke="#f7f7f7" stroke-width="0.9" stroke-linejoin="miter"/>
<path d="M183.8,933.6 L190.4,929.4 L189.4,936.6 Z" fill="#1a1a1a"/>
<text x="335.00" y="895.00" font-size="13.2" text-anchor="start" font-weight="normal" font-style="normal" fill="#231f20" ><tspan font-style="italic">Yy1</tspan><tspan font-size="8.6" dy="-5">&#8722;/&#8722;</tspan><tspan dy="5"> HSCs</tspan></text>
<text x="411.60" y="910.50" font-size="9.5" text-anchor="middle" font-weight="normal" font-style="normal" fill="#231f20" >Metabolic gene</text>
<text x="411.90" y="922.00" font-size="9.5" text-anchor="middle" font-weight="normal" font-style="italic" fill="#231f20" >Hif1&#945; &amp; Hif3&#945;</text>
<text x="298.60" y="946.00" font-size="9.6" text-anchor="middle" font-weight="normal" font-style="normal" fill="#231f20" >YY1 Deletion</text>
<circle cx="289.00" cy="959.20" r="6.0" fill="#acd8ee"/>
<path d="M286.30,953.80 C285.28,956.20 286.48,958.72 289.60,958.90 C292.30,959.08 293.44,960.70 293.68,962.92 A6.0,6.0 0 0 0 286.30,953.80 Z" fill="#f3b9d5"/>
<path d="M286.30,953.80 C285.28,956.20 286.48,958.72 289.60,958.90 C292.30,959.08 293.44,960.70 293.68,962.92" fill="none" stroke="#1a1a1a" stroke-width="1.4"/>
<circle cx="289.00" cy="959.20" r="6.0" fill="none" stroke="#1a1a1a" stroke-width="1.6"/>
<circle cx="307.40" cy="959.20" r="6.0" fill="#acd8ee"/>
<path d="M304.70,953.80 C303.68,956.20 304.88,958.72 308.00,958.90 C310.70,959.08 311.84,960.70 312.08,962.92 A6.0,6.0 0 0 0 304.70,953.80 Z" fill="#f3b9d5"/>
<path d="M304.70,953.80 C303.68,956.20 304.88,958.72 308.00,958.90 C310.70,959.08 311.84,960.70 312.08,962.92" fill="none" stroke="#1a1a1a" stroke-width="1.4"/>
<circle cx="307.40" cy="959.20" r="6.0" fill="none" stroke="#1a1a1a" stroke-width="1.6"/>
<line x1="279.80" y1="950.50" x2="316.80" y2="967.30" stroke="#e3001b" stroke-width="1.6" />
<line x1="279.80" y1="967.30" x2="316.80" y2="950.50" stroke="#e3001b" stroke-width="1.6" />
<line x1="301.60" y1="968.60" x2="301.60" y2="977.90" stroke="#111" stroke-width="1.2" />
<path d="M299.40,976.20 L303.80,976.20 L301.60,981.40 Z" fill="#1a1a1a"/>
<line x1="282.90" y1="1003.60" x2="282.90" y2="995.70" stroke="#111" stroke-width="1.2" />
<path d="M280.70,997.40 L285.10,997.40 L282.90,992.20 Z" fill="#1a1a1a"/>
<text x="289.20" y="999.30" font-size="10" text-anchor="start" font-weight="normal" font-style="normal" fill="#231f20" >SMC3</text>
<ellipse cx="305.10" cy="1007.70" rx="12.8" ry="3.0" fill="none" stroke="#6a2a8c" stroke-width="2.8"/>
<ellipse cx="305.10" cy="1019.40" rx="12.8" ry="3.0" fill="none" stroke="#6a2a8c" stroke-width="2.8"/>
<ellipse cx="305.10" cy="1030.80" rx="12.8" ry="3.0" fill="none" stroke="#6a2a8c" stroke-width="2.8"/>
<path d="M341.2,921.6 C350,928 358,937 364,948 C366,953 366,958 365.5,962 C364.5,970 361,978 354,988 C345,999 333,1010 332,1019 C331,1028 345,1031 360,1030.5 C372,1030 379,1024 381,1012 C382,1005 388,1003.5 398,1002 C410,1000.5 416.5,997 416.2,988.5 C415.6,978 404,967 390,961 C384,958.5 376,957 372,953 C370.5,951 370.5,949 370.5,947 C370,938 373,925 376.7,913.8" fill="none" stroke="#1a1a1a" stroke-width="5.0" stroke-linecap="butt" stroke-linejoin="round"/>
<path d="M341.2,921.6 C350,928 358,937 364,948 C366,953 366,958 365.5,962 C364.5,970 361,978 354,988 C345,999 333,1010 332,1019 C331,1028 345,1031 360,1030.5 C372,1030 379,1024 381,1012 C382,1005 388,1003.5 398,1002 C410,1000.5 416.5,997 416.2,988.5 C415.6,978 404,967 390,961 C384,958.5 376,957 372,953 C370.5,951 370.5,949 370.5,947 C370,938 373,925 376.7,913.8" fill="none" stroke="#f7f7f7" stroke-width="1.8" stroke-linecap="butt" stroke-linejoin="round"/>
<ellipse cx="368.00" cy="940.20" rx="24.2" ry="3.8" fill="none" stroke="#6a2a8c" stroke-width="1.3"/>
<ellipse cx="368.00" cy="943.60" rx="24.2" ry="3.8" fill="none" stroke="#6a2a8c" stroke-width="1.3"/>
<ellipse cx="368.00" cy="947.10" rx="24.2" ry="3.8" fill="none" stroke="#6a2a8c" stroke-width="1.3"/>
<path d="M359.80,953.30 L364.40,945.30 L373.60,945.30 L378.20,953.30 L373.60,961.30 L364.40,961.30 Z" fill="#e3001b" stroke="#b00010" stroke-width="0.6"/>
<text x="391.40" y="959.60" font-size="10" text-anchor="start" font-weight="normal" font-style="normal" fill="#231f20" >CTCF</text>
<path d="M366.4,932 L362.2,930.4 L367.2,917.4" fill="none" stroke="#1a1a1a" stroke-width="2.6" stroke-linejoin="miter"/>
<path d="M366.4,932 L362.2,930.4 L367.2,917.4" fill="none" stroke="#f7f7f7" stroke-width="0.8" stroke-linejoin="miter"/>
<path d="M364.4,917.8 L369.2,912.4 L370.4,919.2 Z" fill="#1a1a1a"/>
<line x1="358.00" y1="922.00" x2="364.60" y2="928.40" stroke="#e3001b" stroke-width="1.5" />
<line x1="358.00" y1="928.40" x2="364.60" y2="922.00" stroke="#e3001b" stroke-width="1.5" />
<rect x="0" y="0" width="520" height="1.1" fill="#222"/>
<rect x="0" y="0" width="1.1" height="1049" fill="#222"/>
<rect x="518.6" y="0" width="1.4" height="1049" fill="#222"/>
<rect x="0" y="1047.6" width="520" height="1.4" fill="#222"/>
</svg>
</body></html>
